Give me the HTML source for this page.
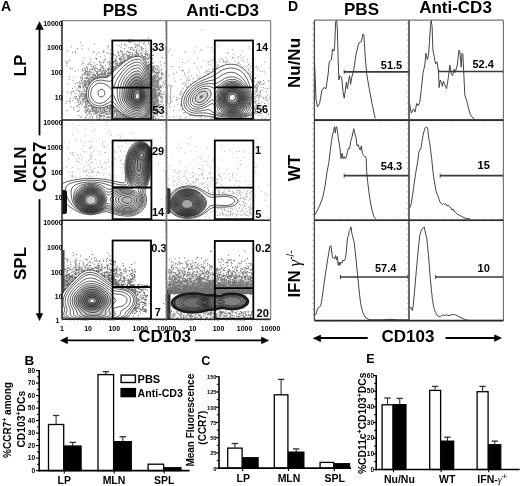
<!DOCTYPE html>
<html><head><meta charset="utf-8"><style>
html,body{margin:0;padding:0;background:#fff;}
svg{display:block;font-family:"Liberation Sans", sans-serif;will-change:transform;}
</style></head><body>
<svg width="520" height="486" viewBox="0 0 520 486">
<rect width="520" height="486" fill="#fff"/>
<text x="1.0" y="11.2" font-size="14" font-weight="bold" text-anchor="start" fill="#000">A</text>
<text x="120.2" y="16.3" font-size="17" font-weight="bold" text-anchor="middle" fill="#000">PBS</text>
<text x="222.6" y="15.6" font-size="17" font-weight="bold" text-anchor="middle" fill="#000">Anti-CD3</text>
<clipPath id="a11"><rect x="62" y="20.6" width="104.5" height="99.4"/></clipPath>
<g clip-path="url(#a11)">
<path transform="scale(.25)" d="M515 158h4m5 1h4m64 -7h4m-84 14h4m11 1h4m-1 -6h4m0 5h4m35 -5h4m-256 8h4m193 -1h4m-4 2h4m-3 -1h4m33 2h4m12 3h4m-1 -3h4m13 3h4m-3 -2h4m-271 9h4m45 -5h4m95 7h4m6 -4h4m9 -1h4m-3 1h4m35 0h4m0 -3h4m2 4h4m-4 1h4m-3 0h4m2 2h4m-2 -3h4m18 0h4m14 -1h4m-315 8h4m143 -2h4m46 3h4m18 -4h4m6 7h4m5 -1h4m0 0h4m8 -1h4m-3 -1h4m-2 -3h4m8 -1h4m6 6h4m-3 -2h4m30 2h4m-295 4h4m14 2h4m21 1h4m74 -5h4m5 7h4m7 -7h4m42 2h4m20 -2h4m-3 6h4m3 -4h4m4 5h4m6 0h4m0 -7h4m6 0h4m1 7h4m-3 -4h4m0 1h4m-1 -1h4m5 -2h4m14 1h4m4 3h4m-344 8h4m29 0h4m109 0h4m-3 -1h4m52 2h4m6 -2h4m-2 -1h4m-4 3h4m16 1h4m2 -1h4m14 -6h4m2 1h4m7 1h4m-2 5h4m-3 0h4m4 -4h4m-3 -2h4m5 -1h4m2 6h4m6 -5h4m0 5h4m5 -3h4m6 4h4m-1 -1h4m-322 3h4m9 3h4m66 -3h4m-2 -1h4m16 2h4m15 -1h4m9 2h4m2 1h4m35 3h4m-2 -6h4m-4 2h4m10 0h4m-4 2h4m-2 -5h4m6 7h4m10 -6h4m-3 -1h4m-2 4h4m0 -2h4m4 0h4m8 -2h4m0 3h4m-2 1h4m-4 -1h4m-1 3h4m0 0h4m-3 0h4m3 -3h4m-2 3h4m1 1h4m8 -1h4m-3 -4h4m2 5h4m-3 -1h4m-2 1h4m-208 2h4m51 -1h4m-4 2h4m7 -1h4m-4 6h4m-2 -4h4m-4 -3h4m2 6h4m10 0h4m-4 -6h4m0 7h4m8 -3h4m-4 -3h4m-3 5h4m-2 -2h4m0 -1h4m3 1h4m-3 -3h4m-2 5h4m-1 -1h4m0 1h4m-1 -2h4m-2 -4h4m0 1h4m1 6h4m-3 -3h4m-4 -1h4m-3 4h4m-4 -7h4m2 4h4m-2 -4h4m0 3h4m-4 2h4m-2 1h4m-3 -3h4m-2 -2h4m0 5h4m-3 1h4m-3 -2h4m-4 -4h4m-2 6h4m5 -7h4m-4 6h4m-2 1h4m-1 0h4m6 -6h4m-2 1h4m-4 -1h4m-3 1h4m-3 1h4m-1 1h4m-1 0h4m-4 3h4m-4 -7h4m2 7h4m-2 -7h4m-4 7h4m8 -1h4m0 -1h4m-217 6h4m15 -3h4m21 4h4m2 -2h4m12 -1h4m-4 1h4m9 4h4m3 -4h4m-3 2h4m1 -2h4m0 3h4m2 -1h4m2 -3h4m-1 5h4m-4 -1h4m-3 -3h4m-4 5h4m-3 -7h4m-3 3h4m-2 -3h4m-2 0h4m-3 2h4m-3 2h4m-4 3h4m-3 -4h4m-3 0h4m-3 0h4m-3 -1h4m-1 -1h4m-4 4h4m6 -2h4m-2 -2h4m-4 2h4m-3 -3h4m-3 1h4m-3 1h4m-1 0h4m7 1h4m3 -1h4m-2 -1h4m2 1h4m-4 2h4m-3 3h4m-3 -4h4m-4 1h4m-3 3h4m-1 -4h4m-1 2h4m-3 -1h4m-4 -1h4m-3 1h4m8 2h4m-2 1h4m-2 -4h4m45 3h4m-315 2h4m23 4h4m16 -2h4m-3 3h4m-1 -4h4m29 2h4m-4 3h4m19 -6h4m-3 3h4m-2 -2h4m0 2h4m6 0h4m-2 2h4m-2 -4h4m8 3h4m-4 -1h4m-3 1h4m-3 2h4m-3 -5h4m-4 2h4m-2 4h4m-3 -3h4m-4 -3h4m-2 2h4m-1 1h4m0 0h4m-1 0h4m-3 -3h4m1 0h4m0 6h4m0 0h4m-3 -6h4m0 6h4m-3 -6h4m-4 2h4m-4 -1h4m1 1h4m-3 -3h4m-3 1h4m-3 1h4m-1 -1h4m43 1h4m-1 5h4m-2 -6h4m-4 5h4m-1 -2h4m-3 -3h4m-2 1h4m-3 3h4m1 0h4m-3 1h4m-4 -6h4m-2 2h4m-3 1h4m3 4h4m-3 -6h4m-1 0h4m1 2h4m-350 9h4m11 -3h4m115 5h4m16 -2h4m15 1h4m-2 0h4m-3 2h4m1 -6h4m1 -1h4m0 6h4m-1 -1h4m-2 1h4m-3 -1h4m-2 1h4m-4 -4h4m-1 5h4m-3 -6h4m11 4h4m-4 2h4m-2 -6h4m-1 4h4m2 1h4m-1 -1h4m-3 -4h4m-3 -1h4m-3 2h4m-3 0h4m-3 -1h4m-2 3h4m-4 -1h4m-2 -1h4m0 -1h4m-3 0h4m69 1h4m-3 5h4m-2 0h4m4 -3h4m-331 8h4m0 -2h4m56 -2h4m-1 6h4m20 1h4m1 -6h4m10 2h4m24 -1h4m6 1h4m-3 -3h4m10 1h4m3 1h4m-3 5h4m1 -1h4m-2 -1h4m0 -4h4m-3 6h4m-3 -3h4m-3 -3h4m-3 1h4m-4 -2h4m0 3h4m1 4h4m-2 -3h4m-3 2h4m1 0h4m-3 -5h4m-2 4h4m1 2h4m-3 -2h4m0 1h4m-3 -1h4m-4 1h4m-3 -4h4m-3 1h4m-3 0h4m-4 -2h4m-2 2h4m-2 3h4m-4 1h4m-3 -3h4m-4 -3h4m-4 2h4m-3 4h4m-4 -7h4m-4 4h4m-2 1h4m-2 -3h4m-2 -2h4m83 7h4m-3 -4h4m-3 -1h4m-3 1h4m1 -1h4m-1 -1h4m-1 3h4m-1 -4h4m-2 2h4m-4 4h4m0 -5h4m-1 5h4m1 -6h4m21 0h4m13 5h4m-395 10h4m56 -3h4m21 -2h4m-3 -2h4m5 3h4m1 0h4m9 2h4m-4 2h4m5 -5h4m8 4h4m-2 -6h4m-4 3h4m1 3h4m10 -1h4m11 -1h4m-1 -1h4m5 -1h4m8 -1h4m1 3h4m-3 2h4m-2 0h4m-3 -4h4m-3 4h4m-3 -2h4m-1 2h4m-3 1h4m-4 -1h4m-2 -2h4m-3 -3h4m-3 3h4m-3 1h4m-2 2h4m-3 -2h4m-1 -5h4m-3 0h4m95 7h4m-3 -1h4m-2 -1h4m-2 -1h4m-3 3h4m-4 -3h4m-4 1h4m-3 2h4m-3 -5h4m-4 1h4m-3 -1h4m-4 2h4m-2 -2h4m-2 0h4m-4 5h4m-4 -6h4m-3 4h4m-3 -1h4m-4 1h4m-1 1h4m-3 -1h4m5 2h4m9 -2h4m-4 2h4m12 -3h4m-309 11h4m4 -4h4m-3 3h4m13 -3h4m3 -2h4m-2 1h4m-3 4h4m26 -1h4m-3 1h4m0 -4h4m-2 5h4m-3 -4h4m24 -1h4m-3 0h4m-4 -2h4m-2 7h4m3 0h4m-3 -3h4m-4 3h4m-3 -3h4m0 -2h4m-1 1h4m-3 -1h4m-3 5h4m-2 -6h4m-4 3h4m-3 -2h4m3 -2h4m-3 7h4m3 -6h4m105 -1h4m-3 0h4m-3 2h4m-3 1h4m-4 2h4m-4 1h4m-3 -3h4m-1 4h4m-3 -2h4m-4 1h4m-4 -6h4m-2 0h4m-4 6h4m-3 -2h4m-4 -4h4m-2 6h4m-4 -5h4m-1 -1h4m-3 6h4m-3 -4h4m-3 2h4m-4 2h4m-4 1h4m-2 -4h4m-2 -2h4m-3 6h4m-3 -6h4m0 6h4m-3 -7h4m-4 7h4m5 -3h4m3 2h4m-4 -2h4m-357 6h4m3 -1h4m37 4h4m6 -3h4m-3 4h4m5 -4h4m-4 4h4m5 -1h4m2 2h4m-3 -3h4m1 -2h4m-4 4h4m3 -5h4m-3 1h4m-1 -2h4m2 2h4m-4 -1h4m0 4h4m0 2h4m1 -1h4m-3 -1h4m-4 2h4m-2 -4h4m4 -2h4m-3 1h4m4 1h4m5 1h4m-2 2h4m-2 -5h4m-4 2h4m-3 4h4m-2 -3h4m-3 -3h4m-1 3h4m-4 1h4m2 -4h4m-4 2h4m-1 4h4m-2 -7h4m-1 3h4m-2 -3h4m-2 4h4m-3 -3h4m-2 3h4m-1 3h4m-3 -3h4m-2 -3h4m-3 0h4m-4 1h4m118 -1h4m-3 6h4m-4 -5h4m-3 2h4m-4 -4h4m-4 2h4m-2 3h4m-3 2h4m-3 0h4m-4 -7h4m-2 3h4m-1 3h4m-2 1h4m-3 -1h4m-3 -3h4m-4 4h4m-4 -1h4m-2 -1h4m-2 -3h4m-4 2h4m-3 2h4m-3 -1h4m-4 1h4m-3 -4h4m-2 2h4m3 -3h4m-3 4h4m-4 1h4m1 1h4m-2 -3h4m-3 1h4m2 2h4m5 -1h4m-348 7h4m7 -5h4m12 4h4m0 -2h4m-4 -1h4m5 4h4m-3 -2h4m-4 -1h4m-1 4h4m0 -1h4m-2 2h4m3 -7h4m-4 6h4m-3 1h4m1 0h4m7 -6h4m-2 -1h4m0 3h4m-1 3h4m0 -1h4m0 2h4m1 -6h4m-3 2h4m-3 0h4m-4 1h4m-3 0h4m2 3h4m-2 -5h4m1 2h4m-3 -4h4m-3 0h4m-1 7h4m-1 -4h4m-3 -1h4m-3 -1h4m-3 5h4m3 -4h4m-4 -1h4m-2 2h4m2 4h4m0 -4h4m-4 3h4m-3 -5h4m-3 -1h4m1 2h4m-4 2h4m-4 -3h4m-2 0h4m-3 0h4m-3 -1h4m-3 5h4m-3 -2h4m-4 2h4m0 -5h4m130 1h4m-4 6h4m-1 -6h4m-3 4h4m-2 1h4m-4 -6h4m-3 4h4m-3 -3h4m-3 5h4m-3 -6h4m-3 2h4m-4 2h4m-3 -3h4m-3 5h4m-2 -4h4m-3 2h4m-2 -4h4m-3 1h4m-4 4h4m-4 2h4m-2 -5h4m-3 5h4m-3 -2h4m-4 2h4m12 -2h4m2 -1h4m-306 8h4m-2 1h4m-3 -4h4m-4 3h4m-1 0h4m2 -1h4m-2 -3h4m-3 6h4m-1 -6h4m-4 5h4m4 -3h4m0 2h4m3 -3h4m7 5h4m-3 -1h4m-2 -3h4m-4 -1h4m-3 3h4m-4 2h4m9 -1h4m-4 1h4m-2 1h4m-2 -1h4m-3 -5h4m-3 6h4m-3 -6h4m1 6h4m-3 -1h4m-3 1h4m-4 -7h4m-3 3h4m-3 -2h4m-3 6h4m-4 -1h4m-4 -6h4m-3 3h4m-4 3h4m-3 0h4m-2 -2h4m2 3h4m-3 -3h4m-3 1h4m-2 -4h4m-3 4h4m-3 0h4m-2 -1h4m-2 -1h4m-3 2h4m-3 -3h4m-3 3h4m-3 -4h4m-4 4h4m-4 -3h4m-3 1h4m-4 2h4m-2 -1h4m-3 2h4m2 -4h4m140 2h4m-3 -1h4m-2 -1h4m-3 5h4m-2 -3h4m-2 -2h4m-3 1h4m-4 4h4m-3 -2h4m-1 -2h4m4 -3h4m-4 3h4m-3 -2h4m-1 0h4m-2 -1h4m-4 3h4m-2 3h4m-1 -4h4m-2 4h4m-3 -5h4m-2 3h4m-1 -3h4m2 6h4m-1 -4h4m-3 4h4m-2 -3h4m-323 6h4m-2 -2h4m1 3h4m2 -2h4m-3 3h4m0 -1h4m-2 4h4m-4 -7h4m-4 2h4m1 1h4m-4 2h4m-4 2h4m1 -5h4m-2 -1h4m5 4h4m-3 -4h4m-3 -1h4m-3 4h4m-3 3h4m-2 -4h4m-4 3h4m-1 -3h4m-3 2h4m-4 2h4m3 -5h4m-3 4h4m-4 -1h4m-3 -3h4m-4 5h4m-1 -3h4m-3 1h4m-4 -3h4m-2 5h4m-4 -6h4m-4 5h4m-2 -3h4m-2 -1h4m1 2h4m-4 -3h4m-3 1h4m-1 1h4m-4 -1h4m-2 3h4m-4 -1h4m-2 2h4m-1 -4h4m-3 -2h4m-2 4h4m-4 2h4m-3 -2h4m0 2h4m-1 1h4m-3 -6h4m-3 5h4m-4 -2h4m-3 3h4m-3 0h4m-2 -6h4m-4 4h4m-3 -1h4m-2 -4h4m-1 0h4m-1 5h4m-3 -5h4m-3 5h4m149 -3h4m-3 4h4m-4 -5h4m-4 3h4m-4 -1h4m-3 0h4m-4 -2h4m-4 3h4m-3 3h4m-1 -3h4m-3 -3h4m-4 2h4m-4 3h4m-2 1h4m4 -1h4m0 -3h4m-2 -1h4m0 2h4m-2 -4h4m-2 0h4m-2 6h4m-3 -6h4m-3 6h4m12 -4h4m1 -1h4m-381 10h4m15 1h4m23 1h4m0 -2h4m-2 4h4m-4 -7h4m11 7h4m-3 0h4m-3 -2h4m-1 0h4m8 -1h4m-2 0h4m-3 0h4m-2 2h4m-2 -1h4m-3 -2h4m-2 2h4m-4 -5h4m-3 6h4m-1 0h4m-1 1h4m-1 -5h4m-3 1h4m-3 -2h4m-2 6h4m-3 -4h4m-2 3h4m-3 -3h4m-3 2h4m-3 1h4m-2 -5h4m0 1h4m-1 0h4m-3 4h4m-3 -4h4m-3 4h4m-2 -5h4m-2 2h4m-2 3h4m-2 -3h4m-3 4h4m-2 -7h4m-3 6h4m-1 -1h4m-4 -1h4m-1 3h4m-3 -2h4m-4 1h4m-4 -6h4m-1 1h4m-2 5h4m-3 -4h4m-2 -2h4m-3 0h4m-3 1h4m-4 4h4m4 -4h4m155 2h4m-1 3h4m-2 -2h4m-4 1h4m-4 -4h4m-2 3h4m-2 0h4m-4 2h4m-2 -1h4m-3 -5h4m-2 0h4m-3 1h4m-4 1h4m-4 2h4m-2 2h4m-3 -2h4m-3 3h4m-3 -5h4m-3 5h4m-4 -7h4m-2 4h4m-4 -4h4m-2 7h4m-2 -3h4m-3 1h4m0 -2h4m-3 1h4m-2 3h4m7 -1h4m-2 -6h4m1 7h4m-379 6h4m41 -5h4m4 2h4m-4 5h4m4 -5h4m-1 -2h4m1 1h4m1 1h4m-4 1h4m-2 3h4m-2 -5h4m-4 2h4m-2 -3h4m-2 6h4m-1 -2h4m-3 3h4m2 -3h4m-4 -1h4m-2 -1h4m-2 5h4m-2 -6h4m-4 3h4m-3 -3h4m-2 1h4m-4 2h4m-4 -4h4m-2 2h4m-3 -2h4m-2 3h4m-3 -3h4m-2 3h4m0 -2h4m-2 -1h4m2 0h4m-3 0h4m18 0h4m175 3h4m-3 2h4m-4 -5h4m-3 5h4m-4 2h4m-4 -5h4m-4 -1h4m-3 3h4m-3 2h4m-4 -5h4m-4 2h4m-4 -1h4m-3 4h4m-2 -4h4m-3 -2h4m-4 5h4m-2 0h4m-3 -2h4m-3 1h4m-2 -3h4m-4 5h4m-2 -5h4m-4 1h4m-2 1h4m-4 -2h4m-3 4h4m-2 -1h4m-2 2h4m-3 -4h4m4 3h4m-4 1h4m-3 -5h4m-3 4h4m0 2h4m-3 -7h4m-4 2h4m-3 -1h4m-1 0h4m-3 0h4m-3 5h4m-358 3h4m23 6h4m3 -6h4m-4 3h4m-3 -3h4m4 6h4m-1 -5h4m-3 5h4m-1 -3h4m-2 -3h4m-3 6h4m1 -4h4m-3 0h4m-4 -1h4m-1 5h4m-4 -5h4m-4 2h4m-3 0h4m-2 -2h4m-4 2h4m-3 1h4m2 -2h4m0 -2h4m-4 -1h4m-3 7h4m-3 -2h4m-2 -5h4m-3 3h4m-2 -1h4m224 4h4m-3 -1h4m-1 -4h4m-4 2h4m-3 2h4m-3 -4h4m-4 6h4m-4 -7h4m-3 4h4m-4 1h4m-3 0h4m-3 -1h4m-3 2h4m-3 -5h4m-3 2h4m-2 3h4m-4 -3h4m-3 4h4m-3 -2h4m-3 0h4m-4 -1h4m-2 3h4m-4 -4h4m-3 1h4m-3 -2h4m-2 0h4m-4 2h4m0 1h4m-4 -1h4m-3 -3h4m-3 3h4m-4 -1h4m-3 0h4m-2 4h4m-3 -4h4m8 1h4m9 3h4m-2 -6h4m-364 14h4m4 -4h4m3 2h4m1 0h4m1 -3h4m1 3h4m0 -4h4m3 4h4m-4 -5h4m-4 3h4m-1 -3h4m-3 1h4m-3 3h4m0 0h4m-2 1h4m-4 2h4m-2 -7h4m-4 7h4m-4 -1h4m-3 -3h4m-4 -2h4m-3 6h4m-2 -6h4m-3 0h4m-4 -1h4m-4 4h4m-4 2h4m-3 0h4m-2 -4h4m-4 2h4m235 -1h4m-4 -1h4m-4 4h4m-4 -5h4m-3 6h4m-3 -5h4m-4 3h4m-3 1h4m-3 -1h4m-4 1h4m-2 -1h4m-3 -5h4m-4 5h4m-2 0h4m-3 -5h4m-4 2h4m-2 3h4m-3 -5h4m-4 4h4m-1 -1h4m-2 -3h4m-3 0h4m-2 5h4m-3 -3h4m-2 1h4m-3 1h4m-4 -3h4m-3 3h4m-2 -3h4m-2 3h4m-3 -3h4m-4 5h4m-3 -2h4m13 2h4m-2 -6h4m-386 9h4m40 4h4m0 0h4m5 -3h4m-3 -2h4m3 2h4m-4 3h4m-3 0h4m-4 -5h4m-3 1h4m-3 5h4m-3 -2h4m-3 -4h4m-4 3h4m-3 -3h4m-3 7h4m-1 -3h4m-2 -2h4m-1 2h4m-3 3h4m0 -2h4m-2 -4h4m241 4h4m-4 2h4m-3 -6h4m-4 2h4m-4 2h4m-3 2h4m-4 -5h4m-4 2h4m-3 1h4m-4 -5h4m-3 1h4m-4 3h4m-3 0h4m-4 -1h4m-3 3h4m-3 -6h4m-4 4h4m-3 -3h4m-4 5h4m-3 -5h4m-2 1h4m-4 2h4m-3 0h4m-4 -4h4m-2 3h4m-3 -2h4m-3 -1h4m-1 5h4m-4 2h4m-3 -1h4m-3 -6h4m-4 6h4m-2 -6h4m-4 7h4m-3 -4h4m-4 4h4m-2 -4h4m-3 2h4m0 1h4m-3 -3h4m2 2h4m4 1h4m6 -4h4m-1 2h4m-367 6h4m10 1h4m-2 3h4m-1 -4h4m-3 -2h4m-3 7h4m-4 -6h4m-3 6h4m6 -3h4m-3 -4h4m-3 1h4m-2 6h4m-4 -7h4m1 2h4m-2 -1h4m-4 5h4m-2 -1h4m0 1h4m-1 1h4m248 -7h4m-3 6h4m-2 -3h4m-2 -3h4m-3 2h4m-3 -2h4m-2 2h4m-4 -1h4m-2 -1h4m-3 5h4m-4 -2h4m-4 -1h4m-1 1h4m-1 0h4m-3 -2h4m-4 4h4m-2 0h4m-2 0h4m-4 -4h4m-3 1h4m-3 3h4m-2 2h4m0 0h4m-4 -7h4m-4 2h4m-4 3h4m-2 2h4m0 0h4m-3 -2h4m-4 -1h4m-2 0h4m-2 0h4m5 0h4m-369 6h4m17 -1h4m17 -1h4m1 7h4m-1 -2h4m4 -1h4m-4 3h4m-4 -4h4m-3 -1h4m253 1h4m-3 -2h4m-4 2h4m-4 2h4m-3 -3h4m-4 2h4m-4 2h4m-4 -5h4m-3 1h4m-4 3h4m-4 -1h4m-3 1h4m-4 -2h4m-3 0h4m-4 2h4m-4 1h4m-3 1h4m-4 -6h4m-4 -1h4m-4 6h4m-2 -6h4m-3 6h4m-3 -6h4m-2 6h4m-4 -4h4m-4 -1h4m-4 6h4m-3 -1h4m-4 -5h4m-3 3h4m-3 2h4m-3 -3h4m-4 4h4m-3 -4h4m0 3h4m-3 1h4m-1 -7h4m-2 6h4m-3 -4h4m-3 3h4m-1 -4h4m-4 3h4m4 -4h4m-357 14h4m-3 -2h4m7 -3h4m3 0h4m-1 0h4m-2 5h4m-1 0h4m5 -5h4m4 2h4m-3 1h4m-2 2h4m-2 0h4m-2 -1h4m-1 -1h4m-3 -2h4m-3 1h4m253 1h4m-4 2h4m-4 1h4m-4 -7h4m-2 0h4m-4 2h4m-3 1h4m-4 -1h4m-3 5h4m-4 -7h4m-4 1h4m-4 4h4m-3 0h4m-2 0h4m-3 0h4m-4 2h4m-4 -6h4m-3 -1h4m-4 2h4m-4 2h4m-3 -1h4m-4 2h4m-2 -5h4m-4 5h4m-3 -5h4m-4 6h4m-2 -4h4m-4 5h4m-3 0h4m-3 -3h4m1 -3h4m-3 6h4m-3 -7h4m0 1h4m1 2h4m-1 -1h4m-1 4h4m-378 4h4m9 -2h4m-1 1h4m11 4h4m13 -5h4m3 4h4m-2 3h4m-1 -7h4m-2 5h4m0 1h4m2 0h4m-2 -6h4m-1 6h4m255 -5h4m-4 -1h4m-4 4h4m-3 -1h4m-4 2h4m-3 0h4m-2 -3h4m-4 4h4m-3 0h4m-2 -6h4m-3 4h4m-4 -1h4m-2 1h4m-3 -2h4m-3 2h4m-3 -1h4m-3 0h4m-2 3h4m-4 -6h4m-4 2h4m-3 1h4m-4 4h4m-3 -4h4m-4 2h4m4 1h4m-2 -5h4m-2 3h4m-3 -1h4m-3 1h4m-3 3h4m-4 -4h4m-3 2h4m3 2h4m4 0h4m-4 -7h4m-375 9h4m26 3h4m2 0h4m-2 -3h4m-2 -1h4m-4 5h4m-1 0h4m-3 -4h4m0 -1h4m-3 7h4m-1 0h4m-3 -7h4m-1 7h4m-3 -4h4m-2 -1h4m-4 5h4m-3 0h4m-3 -4h4m-3 3h4m-3 -4h4m254 -1h4m-3 6h4m-3 -3h4m-4 3h4m-3 -6h4m-4 3h4m-3 0h4m-4 2h4m-3 -4h4m-4 3h4m-4 2h4m-4 -7h4m-2 5h4m-4 1h4m-4 -4h4m-3 0h4m-4 1h4m-3 3h4m-3 -2h4m-3 -4h4m-4 1h4m-3 2h4m-3 3h4m-3 -3h4m-3 2h4m-3 -1h4m-3 -1h4m-2 -2h4m-4 5h4m-2 -3h4m-2 -3h4m-3 5h4m-3 2h4m-3 -1h4m-3 0h4m-3 -6h4m-4 4h4m-2 1h4m-2 0h4m-4 -5h4m-3 0h4m-4 2h4m6 0h4m7 1h4m-365 9h4m1 -1h4m-4 -1h4m-1 2h4m7 -2h4m-1 1h4m0 -2h4m1 1h4m4 1h4m-3 0h4m-4 -1h4m-4 3h4m-2 -3h4m-2 1h4m-3 4h4m-2 -1h4m-1 -4h4m253 -2h4m-4 5h4m-3 -4h4m-4 4h4m-3 1h4m-4 1h4m-3 -7h4m-4 4h4m-2 -3h4m-4 3h4m-3 -4h4m-4 4h4m-2 0h4m-4 -4h4m-3 1h4m-4 3h4m-4 1h4m-3 -2h4m-3 0h4m-4 3h4m-3 -3h4m-4 2h4m-3 -4h4m-3 0h4m-3 2h4m-4 2h4m-3 -3h4m-4 4h4m-1 1h4m-3 -1h4m-3 -5h4m-4 1h4m-3 5h4m-3 -7h4m0 3h4m3 -3h4m-2 2h4m-1 3h4m-4 -5h4m-3 5h4m-2 2h4m0 -6h4m-374 8h4m9 -1h4m2 3h4m-2 -1h4m3 2h4m-3 3h4m2 -7h4m-3 1h4m-1 0h4m6 0h4m-4 3h4m-3 0h4m-3 0h4m-3 3h4m-3 -4h4m-3 3h4m-3 -5h4m-1 -1h4m-3 7h4m-4 -5h4m1 -2h4m-4 3h4m256 3h4m-4 1h4m-3 -2h4m-4 -1h4m-4 2h4m-3 -5h4m-4 1h4m-4 4h4m-3 1h4m-4 -1h4m-3 -2h4m-2 -4h4m-4 2h4m-3 -2h4m-4 2h4m-3 -2h4m-3 5h4m-3 -1h4m-3 -4h4m-3 3h4m-2 1h4m-4 3h4m-4 -7h4m-2 1h4m-1 0h4m-1 4h4m-4 2h4m-2 -2h4m-4 2h4m-3 -6h4m-2 -1h4m7 1h4m-1 -1h4m-2 3h4m-402 5h4m13 5h4m6 -2h4m-1 4h4m6 -4h4m14 -3h4m-1 4h4m-3 3h4m1 -7h4m1 5h4m2 -3h4m-2 2h4m-3 3h4m0 -7h4m1 4h4m-1 0h4m-3 2h4m-2 -5h4m-4 2h4m-2 4h4m-3 -5h4m-4 5h4m-3 -5h4m-3 4h4m-2 -3h4m247 -1h4m-3 4h4m-4 -6h4m-4 1h4m-4 2h4m-3 4h4m-4 -1h4m-4 -6h4m-4 2h4m-4 2h4m-3 -3h4m-4 4h4m-3 -5h4m-4 6h4m-3 -5h4m-4 5h4m-3 -6h4m-2 3h4m-4 3h4m-1 -5h4m-4 6h4m1 -3h4m-4 -3h4m-3 -1h4m-3 7h4m-4 -3h4m-3 3h4m-2 -7h4m-3 6h4m-3 -4h4m-3 5h4m-3 -5h4m-3 5h4m-3 -6h4m-4 2h4m-1 -1h4m2 4h4m3 -5h4m-2 3h4m8 0h4m-402 9h4m45 -3h4m4 0h4m-3 5h4m-4 -6h4m3 6h4m1 -7h4m3 0h4m-4 3h4m-3 -3h4m-4 7h4m-2 -5h4m1 5h4m-2 -1h4m-2 -5h4m-4 -1h4m-4 4h4m1 -3h4m-1 4h4m-4 2h4m239 -4h4m-4 3h4m-3 -2h4m-3 2h4m-1 1h4m-3 0h4m-4 -5h4m-2 1h4m-4 3h4m-3 -2h4m-4 2h4m-4 -3h4m-3 2h4m-4 -2h4m-3 2h4m-3 -5h4m-3 1h4m-4 -1h4m-4 2h4m-2 4h4m-4 -6h4m-4 2h4m-1 0h4m-3 2h4m-4 1h4m-2 -1h4m1 -3h4m-3 5h4m-2 -5h4m-4 3h4m10 -1h4m-4 -2h4m-341 13h4m1 -3h4m-1 -2h4m6 3h4m10 0h4m-2 -3h4m-1 6h4m0 -6h4m-1 6h4m-4 -1h4m2 -1h4m-2 -1h4m-3 2h4m0 -2h4m-3 3h4m-1 0h4m67 0h4m0 -2h4m-3 -2h4m2 4h4m-3 -1h4m-3 1h4m144 0h4m-3 -2h4m-4 -5h4m-3 3h4m-4 2h4m-4 -5h4m-3 2h4m-3 1h4m-4 2h4m-4 1h4m-3 -2h4m-4 -2h4m-3 -1h4m-4 1h4m-3 3h4m-3 -5h4m-4 5h4m-3 0h4m-2 1h4m-4 -4h4m-2 3h4m-4 1h4m-3 -5h4m-2 1h4m-3 -1h4m-4 2h4m-4 2h4m-3 -5h4m1 5h4m-4 1h4m-3 -2h4m-4 -4h4m-3 7h4m-3 -3h4m-2 3h4m-2 0h4m-3 -4h4m-3 -2h4m-2 5h4m-2 -5h4m0 2h4m0 0h4m4 1h4m-375 7h4m6 4h4m10 -5h4m5 3h4m15 1h4m-3 -1h4m0 -4h4m-2 2h4m-2 -1h4m-3 2h4m-3 -3h4m-4 4h4m6 -5h4m-4 1h4m-3 0h4m-3 0h4m2 1h4m-3 3h4m-3 0h4m-3 -3h4m-4 5h4m-2 -1h4m-3 0h4m-2 -3h4m-2 1h4m-4 3h4m-2 -1h4m2 1h4m27 -1h4m3 -1h4m0 -3h4m-1 0h4m-3 3h4m-3 1h4m-4 -1h4m-3 0h4m-3 0h4m1 -1h4m-2 2h4m-3 1h4m-4 -5h4m-2 -1h4m-3 1h4m-4 2h4m-2 1h4m-3 2h4m-4 -5h4m-2 -2h4m-3 6h4m-4 -5h4m-3 4h4m-3 1h4m-4 -3h4m-3 0h4m-4 -1h4m-3 2h4m-2 0h4m-3 2h4m-3 0h4m-3 -4h4m138 5h4m-2 -6h4m-4 3h4m-3 2h4m-3 -3h4m-4 -1h4m-4 -1h4m-4 3h4m-3 -4h4m-3 7h4m-4 -4h4m-3 -2h4m-3 6h4m-3 -2h4m-3 0h4m-4 2h4m-3 -6h4m-3 3h4m-3 -4h4m-4 6h4m-4 1h4m-3 -5h4m-4 2h4m-3 -1h4m-4 4h4m-3 -6h4m-4 4h4m-3 -4h4m-4 6h4m-3 0h4m-4 -6h4m-3 1h4m-3 4h4m-3 -1h4m3 -5h4m-4 2h4m0 3h4m-4 -5h4m0 5h4m3 0h4m0 -2h4m-2 0h4m-357 12h4m42 -4h4m-4 -1h4m-2 -1h4m1 6h4m-3 -1h4m-2 -2h4m-3 -1h4m-1 1h4m4 2h4m0 -5h4m-3 6h4m-4 -6h4m-3 4h4m-4 -3h4m-2 5h4m-3 -7h4m-1 4h4m-2 -3h4m-2 3h4m0 -3h4m-3 5h4m-4 1h4m-1 -5h4m-2 -2h4m3 1h4m-1 6h4m-4 -5h4m-3 4h4m-4 -4h4m-3 0h4m-3 2h4m1 1h4m0 -4h4m-3 3h4m-4 2h4m0 1h4m-3 -1h4m-4 -4h4m3 -2h4m-4 5h4m-4 1h4m0 -5h4m-2 1h4m-1 1h4m-2 -2h4m-3 -1h4m-4 4h4m-1 -4h4m-4 2h4m-3 1h4m-4 1h4m-2 0h4m-4 -1h4m0 2h4m1 0h4m-4 -1h4m1 -3h4m-2 2h4m-3 -2h4m-4 5h4m1 -6h4m-2 2h4m-2 5h4m-4 -1h4m-3 0h4m123 -1h4m-3 -1h4m-3 0h4m-3 2h4m-4 -6h4m-3 6h4m-4 -5h4m-4 2h4m-3 1h4m-4 3h4m-4 -2h4m-3 -4h4m-4 3h4m-3 -3h4m-4 3h4m-3 -4h4m-3 1h4m-4 4h4m-3 -5h4m-3 3h4m-3 -1h4m-2 1h4m-4 -1h4m-4 4h4m-3 -1h4m-2 -4h4m-4 -1h4m-3 4h4m-4 -3h4m3 4h4m-1 -5h4m-4 3h4m-3 -3h4m-1 4h4m0 3h4m0 -2h4m-373 6h4m37 4h4m-1 -1h4m0 -4h4m18 0h4m-3 0h4m0 2h4m-2 3h4m-2 -5h4m-2 2h4m-3 -2h4m-2 1h4m2 1h4m-4 -1h4m-1 1h4m-3 1h4m-2 1h4m1 -6h4m-3 0h4m-4 7h4m-3 -4h4m-2 3h4m-2 -6h4m-2 6h4m-3 -3h4m-2 4h4m-4 -3h4m-2 -2h4m-2 5h4m-3 -7h4m-4 2h4m-4 5h4m-2 -7h4m-3 0h4m-1 7h4m-2 -2h4m-3 2h4m-4 -6h4m-3 -1h4m-3 7h4m2 -4h4m-3 2h4m-3 -3h4m0 3h4m-3 1h4m-3 0h4m1 -6h4m-3 0h4m-3 3h4m-2 2h4m-4 2h4m-3 -4h4m-4 3h4m-1 -3h4m1 3h4m-4 -1h4m-3 1h4m-1 -4h4m1 -1h4m-4 5h4m-2 -6h4m-4 6h4m-2 0h4m-2 -3h4m0 2h4m1 -1h4m0 2h4m-3 1h4m-3 -2h4m-3 -1h4m-3 -4h4m-4 3h4m-4 1h4m-4 1h4m-1 2h4m-3 -3h4m-3 -3h4m-4 2h4m-3 1h4m-4 1h4m-3 -3h4m-3 2h4m-3 3h4m-2 -5h4m-4 2h4m-3 0h4m-3 1h4m-2 -1h4m-2 1h4m-1 2h4m109 -2h4m-4 2h4m-3 -3h4m-4 3h4m-4 -4h4m-3 0h4m-4 1h4m-4 2h4m-3 0h4m-4 -5h4m-3 5h4m-4 -4h4m-4 -1h4m-3 -1h4m-4 3h4m-4 2h4m-2 0h4m-4 -5h4m-4 2h4m-4 -1h4m-3 3h4m-4 2h4m-2 -5h4m-4 1h4m-3 3h4m-3 0h4m-3 -1h4m-4 3h4m-4 -7h4m-3 0h4m-4 4h4m-4 -1h4m-3 0h4m-4 -1h4m-2 -2h4m-4 3h4m-3 -1h4m-2 0h4m-2 -1h4m-3 0h4m-3 -1h4m1 1h4m-2 5h4m-4 -4h4m-3 -1h4m-1 2h4m-3 1h4m-3 -1h4m-4 1h4m-2 -3h4m-3 5h4m-3 -1h4m1 1h4m3 -6h4m-3 4h4m1 -3h4m-313 9h4m-2 3h4m5 -5h4m-2 7h4m-2 -7h4m-3 7h4m-2 -3h4m11 2h4m0 -3h4m-2 4h4m-2 -3h4m-3 -2h4m-4 4h4m-3 -3h4m-3 0h4m0 1h4m-4 -4h4m5 3h4m-3 -3h4m-4 6h4m1 1h4m-3 -2h4m-3 -1h4m-2 -1h4m-3 -2h4m-3 3h4m-4 -1h4m-4 -1h4m-3 -2h4m-2 5h4m0 -5h4m-3 7h4m-3 -5h4m-1 4h4m-1 -6h4m4 3h4m0 -3h4m-1 4h4m-3 2h4m-2 -3h4m0 1h4m-2 -2h4m0 4h4m-1 -2h4m-3 -3h4m2 1h4m-2 5h4m-3 -3h4m0 0h4m-3 -4h4m-1 0h4m-4 2h4m-2 4h4m-3 0h4m-3 0h4m-3 -6h4m-3 1h4m-3 0h4m-2 1h4m2 5h4m92 0h4m-3 0h4m-2 -1h4m-3 -1h4m-3 1h4m-4 -1h4m-3 -3h4m-4 2h4m-3 -4h4m-3 0h4m-4 6h4m-3 -5h4m-4 1h4m-4 2h4m-4 -1h4m-3 -2h4m-4 1h4m-4 2h4m-4 2h4m-4 -1h4m-3 -5h4m-4 4h4m-3 -4h4m-4 1h4m-3 0h4m-3 -1h4m-4 7h4m-3 -7h4m-4 4h4m-3 -2h4m-2 -2h4m-4 2h4m-2 2h4m-4 3h4m-3 -1h4m-3 -6h4m-4 2h4m-3 -2h4m-3 0h4m0 0h4m-2 5h4m-3 -3h4m-2 4h4m-2 -6h4m1 4h4m3 -2h4m-322 12h4m29 -3h4m13 0h4m5 -3h4m10 1h4m3 2h4m-3 4h4m-4 -1h4m-3 -2h4m-3 -1h4m-4 3h4m-1 1h4m1 0h4m-3 -1h4m2 1h4m-2 -1h4m5 -5h4m-2 -1h4m-2 3h4m-3 -3h4m-1 0h4m0 0h4m-2 2h4m3 0h4m-4 3h4m-3 1h4m-1 -2h4m-4 -3h4m-2 2h4m0 -1h4m5 -2h4m-2 1h4m-4 2h4m-3 3h4m-4 -4h4m-3 2h4m-3 -3h4m-3 0h4m-4 -1h4m-3 5h4m0 0h4m-3 2h4m-3 -2h4m-1 -4h4m-4 6h4m-3 -6h4m-3 -1h4m-3 3h4m-2 -1h4m-3 -2h4m-3 5h4m-3 -1h4m-3 0h4m-2 0h4m-3 3h4m-4 -5h4m-4 1h4m-3 -3h4m-4 5h4m-3 -3h4m-4 1h4m-3 1h4m-3 1h4m-4 2h4m-3 0h4m-3 -3h4m-3 0h4m-2 3h4m-2 -1h4m-3 0h4m-4 1h4m71 0h4m-3 -1h4m-3 -1h4m-3 1h4m-4 1h4m-3 -5h4m-4 2h4m-4 3h4m-3 -4h4m-4 -1h4m-4 4h4m-3 -2h4m-3 -3h4m-3 3h4m-3 -1h4m-4 3h4m-3 1h4m-4 -2h4m-4 -1h4m-3 0h4m-3 -3h4m-3 2h4m-4 1h4m-3 -3h4m-4 -1h4m-3 5h4m-3 -3h4m-3 0h4m-4 5h4m-3 -6h4m-3 0h4m-3 0h4m-1 5h4m-2 -4h4m-4 3h4m-3 1h4m-4 1h4m-2 -2h4m0 -4h4m-3 6h4m-2 -4h4m1 -3h4m-4 4h4m-2 -4h4m2 4h4m-2 -3h4m-3 6h4m-4 -7h4m-312 14h4m0 -6h4m11 5h4m1 -5h4m6 4h4m2 -4h4m3 3h4m12 -3h4m-4 2h4m-1 4h4m3 -1h4m-1 -3h4m0 4h4m-3 -5h4m-2 0h4m-4 -1h4m5 4h4m0 -4h4m-4 2h4m3 4h4m0 -3h4m1 0h4m-3 3h4m-2 1h4m0 -4h4m-3 2h4m9 -4h4m-4 1h4m-2 5h4m-2 -6h4m-3 6h4m-1 -2h4m-2 -2h4m-3 0h4m-1 3h4m-3 -5h4m-3 6h4m1 -2h4m-4 -2h4m-2 -1h4m-2 5h4m-4 -6h4m2 2h4m-3 -2h4m-4 4h4m-3 -4h4m-4 4h4m-1 -3h4m-3 -1h4m-3 1h4m-4 3h4m-4 1h4m-3 -2h4m-4 -3h4m-3 6h4m-1 -1h4m-4 -4h4m-3 1h4m-3 4h4m-4 -4h4m-2 -3h4m-4 3h4m-3 0h4m-4 -1h4m-3 -1h4m-4 2h4m-3 0h4m-4 1h4m-3 -3h4m-4 1h4m-4 4h4m-3 -3h4m-3 -2h4m-4 6h4m-3 -6h4m-4 2h4m-4 3h4m-3 -4h4m-4 3h4m-4 -1h4m-3 1h4m-4 1h4m-3 -4h4m-4 5h4m-3 -5h4m-4 3h4m-4 1h4m-3 0h4m-4 1h4m-2 -4h4m-3 2h4m-2 2h4m-2 -1h4m-3 1h4m-3 0h4m-3 -1h4m0 1h4m-2 0h4m35 0h4m-3 0h4m-4 -1h4m-4 -1h4m-3 1h4m-3 0h4m-1 -1h4m-3 -2h4m-3 -1h4m-4 3h4m-4 1h4m-3 1h4m-4 -1h4m-3 1h4m-4 -7h4m-3 1h4m-3 1h4m-2 -2h4m-4 2h4m-3 3h4m-4 -5h4m-3 2h4m-4 -1h4m-4 3h4m-4 3h4m-3 0h4m-3 -3h4m-2 -3h4m-3 6h4m-2 -6h4m-3 5h4m-3 -4h4m-3 5h4m-4 -5h4m-3 4h4m-1 0h4m0 -5h4m-3 -1h4m-4 4h4m-4 -1h4m0 3h4m-2 -4h4m-4 5h4m-1 -2h4m-4 2h4m-3 -5h4m-3 -1h4m0 2h4m20 -3h4m1 3h4m-1 -3h4m-321 14h4m5 -4h4m5 2h4m6 -3h4m4 -1h4m12 4h4m2 1h4m2 -3h4m-4 2h4m12 -2h4m-1 3h4m7 -2h4m2 -3h4m7 5h4m-3 -2h4m8 0h4m-2 2h4m-2 -4h4m-2 2h4m-1 -1h4m0 -2h4m-4 2h4m-3 2h4m-1 0h4m-3 -1h4m-1 -3h4m-1 0h4m3 1h4m-4 5h4m-1 -2h4m-4 1h4m-3 -5h4m-4 3h4m-2 1h4m-3 0h4m-4 -1h4m-1 2h4m-2 -5h4m-4 4h4m-3 0h4m-4 -1h4m-3 -3h4m-4 3h4m-4 2h4m-1 -3h4m-4 3h4m-3 -2h4m-4 -1h4m-3 -1h4m-4 1h4m-3 1h4m-3 -2h4m-3 -1h4m-4 1h4m-4 3h4m-3 0h4m-3 -2h4m-2 -2h4m-3 6h4m-3 -5h4m-4 5h4m-3 -4h4m-4 2h4m-4 -1h4m-3 -2h4m-3 0h4m-4 3h4m-3 -3h4m-4 3h4m-4 1h4m-3 -4h4m-4 2h4m-4 -3h4m-3 0h4m-4 1h4m-4 4h4m-3 -3h4m-3 3h4m-4 -5h4m-3 5h4m-3 -1h4m-3 -2h4m-4 -2h4m-3 3h4m-3 -2h4m-4 3h4m-3 -2h4m-4 -1h4m-4 3h4m-4 -1h4m-3 -3h4m-4 4h4m-3 -4h4m-4 4h4m-4 -1h4m-1 -2h4m-3 1h4m-3 0h4m-3 2h4m-3 -3h4m-2 1h4m-4 1h4m-2 0h4m-4 2h4m-3 -4h4m-4 1h4m-4 2h4m-3 2h4m-4 -1h4m-3 -3h4m-3 0h4m-3 3h4m-3 -2h4m-3 -1h4m-4 2h4m-4 1h4m-3 -3h4m-3 2h4m-2 0h4m-4 1h4m-2 -3h4m-4 1h4m-3 1h4m-4 -1h4m-4 2h4m-3 -3h4m-4 2h4m-3 1h4m-4 -1h4m-3 1h4m-4 -4h4m-4 -1h4m-2 3h4m-4 2h4m-4 -3h4m-3 2h4m-3 0h4m-3 -4h4m-4 2h4m-4 2h4m-4 1h4m-1 -4h4m-4 2h4m-4 2h4m-3 -4h4m-4 1h4m-4 2h4m-3 -2h4m-4 2h4m-3 -2h4m-4 3h4m-3 -3h4m-3 3h4m-4 -4h4m-3 2h4m-3 3h4m-4 -2h4m-2 -2h4m-3 1h4m-3 -1h4m-3 2h4m-2 0h4m-4 2h4m-3 -4h4m-3 0h4m-4 2h4m-3 0h4m-4 1h4m-2 0h4m-3 -5h4m-4 3h4m-2 -3h4m-3 1h4m-3 5h4m-4 -2h4m-3 -3h4m-2 1h4m-2 4h4m-2 -5h4m-4 1h4m-4 2h4m-3 -1h4m-3 0h4m-3 -1h4m-2 -2h4m-4 3h4m-4 2h4m-2 -1h4m-2 1h4m-3 -4h4m-1 -1h4m-4 3h4m-3 2h4m1 -4h4m-1 1h4m-4 2h4m9 -4h4" stroke="#7a7a7a" stroke-width="4" fill="none"/>
<path d="M139.8 118.1L136.8 118.3L132.8 117.8L129.2 116.9L125.8 115.5L123.0 114.0L120.2 112.2L117.5 109.8L113.8 106.2L111.8 105.0L109.8 105.1L104.2 107.2L101.0 107.9L97.8 107.8L94.5 106.9L91.5 105.0L88.9 102.1L87.2 98.6L86.5 94.6L86.8 90.3L88.0 86.6L90.0 83.2L92.8 80.5L95.2 79.0L98.0 78.1L100.8 77.7L106.0 77.5L108.3 76.8L109.9 75.6L113.2 71.8L116.0 69.1L122.2 63.7L126.2 60.7L129.2 58.8L132.0 57.5L134.8 56.7L137.2 56.4L138.5 56.4L139.8 56.8L141.0 57.5L142.2 58.6L144.4 61.6L146.4 65.8L148.2 71.3L149.6 77.8L150.5 85.1L151.0 92.1L151.1 97.6L150.8 101.3L150.0 105.6L148.7 109.3L146.9 112.6L144.8 115.2L142.2 117.1L139.8 118.1Z" fill="#fff" stroke="#1a1a1a" stroke-width="0.7"/>
<path d="M139.5 116.7L136.2 116.8L132.5 116.2L129.0 115.2L125.2 113.5L122.5 111.7L120.0 109.6L117.6 107.1L114.0 102.6L112.2 101.5L110.5 101.7L105.0 104.7L101.2 105.9L99.2 106.0L97.2 105.7L95.5 105.2L93.8 104.3L91.9 102.8L90.3 100.8L89.2 98.6L88.5 96.1L88.3 93.6L88.6 90.8L89.4 88.1L90.5 85.8L92.0 83.9L93.8 82.3L95.8 81.1L98.0 80.4L101.8 80.1L108.5 81.3L109.8 81.3L110.8 81.0L112.2 79.7L116.1 74.3L119.7 70.1L123.8 66.1L127.5 63.0L131.2 60.8L134.8 59.6L138.2 59.2L139.5 59.5L140.5 60.1L142.5 61.9L144.4 64.8L146.1 68.8L147.6 73.6L148.7 78.8L149.6 85.1L150.1 91.3L150.2 97.3L149.9 100.8L149.4 104.1L148.4 107.3L147.1 110.1L145.5 112.6L143.8 114.4L141.8 115.8L139.5 116.7Z" fill="none" stroke="#1a1a1a" stroke-width="0.7"/>
<path d="M139.5 115.1L135.8 115.2L131.2 114.3L127.2 112.7L123.5 110.3L120.8 107.8L118.4 104.8L116.6 101.8L113.8 95.7L112.8 94.5L112.2 94.4L111.8 94.8L108.9 98.3L106.8 100.3L103.5 102.5L101.5 103.1L99.2 103.3L97.2 103.0L95.2 102.1L93.8 101.0L92.5 99.6L91.6 97.8L90.9 95.8L90.7 93.8L91.0 91.6L91.5 89.6L92.3 87.8L94.0 85.7L96.0 84.2L98.5 83.2L101.0 83.0L103.5 83.5L105.8 84.4L108.0 85.8L111.5 89.0L112.0 89.2L112.5 89.1L113.5 87.7L116.4 80.6L118.6 76.6L121.8 72.1L125.4 68.1L129.2 65.0L133.0 63.0L135.0 62.4L137.2 62.1L138.8 62.2L140.0 62.7L142.0 64.3L143.7 66.8L145.3 70.3L146.6 74.6L147.8 79.8L148.6 85.1L149.1 91.1L149.3 97.1L149.1 100.1L148.5 103.3L147.7 106.3L146.4 109.1L145.0 111.3L143.2 113.2L141.5 114.4L139.5 115.1Z" fill="none" stroke="#1a1a1a" stroke-width="0.7"/>
<path d="M139.2 113.6L137.5 113.8L135.0 113.6L130.8 112.5L127.0 110.7L123.5 108.1L120.7 104.8L118.8 101.3L117.6 97.6L117.2 93.1L117.4 88.6L118.6 83.6L120.6 78.8L123.4 74.3L126.7 70.3L130.2 67.5L133.8 65.7L137.5 65.0L139.5 65.3L141.2 66.6L143.1 69.1L144.7 72.6L146.1 77.1L147.1 82.1L147.9 87.6L148.3 93.6L148.3 97.8L148.0 100.8L147.4 103.8L146.3 106.8L145.0 109.3L143.2 111.4L141.2 112.9L139.2 113.6ZM102.0 96.9L100.8 97.0L99.5 96.5L98.6 95.6L98.1 94.1L98.0 92.6L98.4 91.1L99.5 89.9L100.8 89.4L102.0 89.4L103.2 89.9L104.2 90.9L104.8 92.3L104.8 93.8L104.2 95.2L103.2 96.3L102.0 96.9Z" fill="none" stroke="#1a1a1a" stroke-width="0.7"/>
<path d="M139.0 112.1L135.5 112.1L131.8 111.2L128.2 109.6L125.2 107.4L122.7 104.6L121.0 101.6L120.1 98.6L119.7 94.8L119.9 90.1L120.8 85.3L122.4 80.8L124.8 76.6L127.6 73.1L130.8 70.3L134.0 68.6L137.5 67.9L139.2 68.2L141.0 69.4L142.6 71.6L144.1 74.8L145.3 78.8L146.3 83.6L147.0 88.3L147.3 93.8L147.4 97.8L147.1 100.6L146.4 103.6L145.5 106.1L144.2 108.3L142.7 110.1L141.0 111.4L139.0 112.1Z" fill="none" stroke="#1a1a1a" stroke-width="0.7"/>
<path d="M138.8 110.6L135.8 110.5L132.5 109.8L129.5 108.4L126.9 106.6L124.8 104.3L123.1 101.6L122.2 98.8L121.8 95.8L122.0 91.1L122.8 86.8L124.2 82.6L126.2 78.8L128.8 75.4L131.5 73.0L134.5 71.4L137.5 70.8L139.2 71.1L140.8 72.3L142.2 74.3L143.5 77.1L144.6 80.6L145.5 84.8L146.1 89.6L146.4 94.3L146.4 97.8L146.2 100.3L145.6 102.8L144.6 105.3L143.5 107.3L142.0 109.0L140.5 110.0L138.8 110.6Z" fill="rgba(0,0,0,0.14)" stroke="#1a1a1a" stroke-width="0.7"/>
<path d="M139.2 108.9L137.0 109.1L134.0 108.6L131.2 107.5L128.9 106.1L127.0 104.3L125.4 102.1L124.3 99.6L123.9 97.1L123.9 92.8L124.6 88.6L125.8 84.6L127.5 81.1L129.7 78.1L132.1 75.8L134.8 74.4L137.5 73.8L139.0 74.0L140.2 74.9L141.5 76.5L142.6 78.8L143.7 81.8L144.5 85.3L145.4 93.3L145.4 98.8L145.0 101.1L144.3 103.3L143.4 105.3L142.2 106.9L140.8 108.2L139.2 108.9Z" fill="rgba(0,0,0,0.14)" stroke="#1a1a1a" stroke-width="0.7"/>
<path d="M139.0 107.4L136.8 107.4L134.2 107.0L132.0 106.1L130.0 104.8L128.2 103.1L127.0 101.3L126.2 99.3L125.8 97.1L125.9 93.3L126.5 89.6L127.5 86.1L129.0 83.1L130.8 80.6L132.9 78.6L135.2 77.3L137.5 76.8L138.8 77.0L140.0 77.8L141.0 79.1L142.0 81.1L143.6 86.8L144.4 93.8L144.4 98.8L143.5 102.6L142.6 104.3L141.5 105.8L140.2 106.8L139.0 107.4Z" fill="rgba(0,0,0,0.14)" stroke="#1a1a1a" stroke-width="0.7"/>
<path d="M138.2 105.9L136.2 105.7L134.2 105.2L132.5 104.4L130.9 103.3L129.5 101.9L128.6 100.3L127.9 98.6L127.7 96.8L127.8 93.6L128.4 90.3L129.2 87.6L130.5 85.0L132.0 82.9L133.8 81.3L135.8 80.2L137.8 79.9L138.8 80.0L139.8 80.8L140.8 82.2L141.7 84.3L143.0 89.6L143.5 95.8L143.2 99.5L142.2 102.6L140.5 104.9L139.5 105.5L138.2 105.9Z" fill="rgba(0,0,0,0.14)" stroke="#1a1a1a" stroke-width="0.7"/>
<path d="M138.8 104.1L137.2 104.2L135.5 103.9L134.0 103.3L132.5 102.4L131.4 101.3L130.5 100.1L129.9 98.6L129.6 97.1L129.7 94.3L130.1 91.8L130.8 89.6L131.8 87.4L133.0 85.6L134.3 84.3L135.8 83.4L137.5 83.0L138.5 83.1L139.2 83.6L140.7 85.8L141.8 89.6L142.4 94.3L142.4 98.1L141.8 100.8L140.5 103.0L138.8 104.1Z" fill="rgba(0,0,0,0.14)" stroke="#1a1a1a" stroke-width="0.7"/>
<path d="M138.8 102.4L137.8 102.5L136.4 102.3L134.0 101.3L132.2 99.4L131.5 97.1L131.9 93.1L133.2 89.6L134.2 88.1L135.2 87.1L136.2 86.5L137.5 86.2L138.8 86.4L140.0 88.2L140.8 90.8L141.3 94.3L141.4 97.3L141.0 99.6L140.0 101.5L138.8 102.4Z" fill="rgba(0,0,0,0.14)" stroke="#1a1a1a" stroke-width="0.7"/>
<path d="M138.5 100.7L136.8 100.6L135.1 99.8L134.0 98.6L133.5 97.1L133.8 94.3L134.6 91.8L136.0 90.2L137.8 89.5L138.8 89.9L139.5 91.1L140.0 92.9L140.3 95.3L140.4 97.3L140.0 98.8L139.3 100.1L138.5 100.7Z" fill="rgba(255,255,255,0.22)" stroke="#1a1a1a" stroke-width="0.7"/>
<path d="M138.2 98.9L137.2 98.9L136.5 98.5L135.8 97.8L135.6 97.1L135.7 95.6L136.1 94.3L136.8 93.4L137.8 92.9L138.2 93.0L138.8 93.7L139.2 95.8L139.1 97.8L138.8 98.5L138.2 98.9Z" fill="#fff" stroke="#1a1a1a" stroke-width="0.7"/>
</g>
<clipPath id="a12"><rect x="166.5" y="20.6" width="104.10000000000002" height="99.4"/></clipPath>
<g clip-path="url(#a12)">
<path transform="scale(.25)" d="M806 120h4m-27 67h4m43 2h4m11 2h4m20 -6h4m122 2h4m-318 12h4m243 0h4m65 -6h4m-328 14h4m61 -1h4m56 -3h4m2 -3h4m35 4h4m119 1h4m-195 3h4m129 6h4m-3 -3h4m-224 12h4m238 -6h4m26 3h4m-175 11h4m135 -3h4m14 3h4m2 -5h4m14 2h4m-122 11h4m18 0h4m7 -6h4m-3 5h4m11 -6h4m23 1h4m1 -1h4m24 0h4m21 5h4m22 1h4m-264 5h4m53 -2h4m17 5h4m6 -6h4m4 1h4m5 3h4m30 -2h4m-2 5h4m-3 0h4m5 -2h4m-2 -5h4m-3 4h4m30 1h4m17 -5h4m6 3h4m10 4h4m-262 3h4m8 2h4m32 1h4m51 -4h4m8 0h4m19 2h4m9 -3h4m8 1h4m4 0h4m0 5h4m7 -5h4m31 6h4m0 -4h4m-3 1h4m49 -2h4m46 -1h4m-228 10h4m4 2h4m12 -1h4m-3 1h4m4 2h4m-2 -4h4m1 3h4m14 1h4m40 -6h4m1 3h4m15 -1h4m29 0h4m0 -3h4m-316 10h4m28 2h4m67 0h4m13 1h4m57 2h4m-2 -2h4m12 -1h4m3 -3h4m74 6h4m1 -7h4m5 1h4m3 2h4m7 -3h4m17 4h4m-1 -2h4m3 5h4m-280 8h4m31 -2h4m40 0h4m11 1h4m-4 -2h4m-3 0h4m5 0h4m0 -3h4m-1 3h4m107 0h4m9 0h4m-2 3h4m5 -7h4m9 4h4m9 0h4m44 -3h4m-356 10h4m1 1h4m0 -2h4m87 4h4m-1 -3h4m-4 1h4m2 3h4m3 0h4m149 -6h4m3 4h4m5 -1h4m27 0h4m4 2h4m4 1h4m-367 8h4m8 -6h4m28 3h4m6 -3h4m6 -1h4m35 0h4m19 2h4m4 3h4m163 -2h4m2 3h4m-3 1h4m2 -5h4m0 5h4m47 -2h4m-391 8h4m58 -4h4m23 3h4m18 2h4m24 1h4m12 -7h4m-2 1h4m-3 -1h4m166 4h4m5 -1h4m-275 5h4m7 5h4m-1 -5h4m37 5h4m0 -4h4m10 4h4m187 -5h4m12 7h4m5 -6h4m-339 10h4m23 4h4m21 -5h4m6 5h4m10 -4h4m-1 -2h4m9 -1h4m7 1h4m2 0h4m202 4h4m4 -2h4m-2 -1h4m-322 10h4m39 0h4m-1 -4h4m2 1h4m-3 1h4m10 5h4m233 -6h4m-3 1h4m1 4h4m1 1h4m12 0h4m-1 -3h4m1 3h4m8 -5h4m16 0h4m-4 2h4m-345 9h4m2 -2h4m-1 4h4m8 -3h4m19 -3h4m0 -1h4m243 6h4m-3 -3h4m2 0h4m-1 3h4m-3 -5h4m-3 4h4m-3 -2h4m9 4h4m0 -4h4m-377 11h4m39 -6h4m8 6h4m2 -5h4m12 1h4m-4 -2h4m-1 3h4m244 0h4m-1 1h4m-1 2h4m2 -1h4m-2 -3h4m-4 4h4m3 0h4m-1 -2h4m5 -2h4m2 -1h4m-367 10h4m51 -2h4m0 4h4m-4 -1h4m1 -4h4m3 2h4m254 3h4m-3 1h4m-3 -6h4m-2 4h4m-4 -4h4m-3 6h4m-2 0h4m1 -5h4m-3 5h4m10 0h4m5 -1h4m-326 3h4m-4 4h4m287 -3h4m-3 2h4m-2 -1h4m-3 -1h4m-2 3h4m-3 3h4m-3 -7h4m13 7h4m9 -4h4m5 0h4m1 -2h4m-355 11h4m286 -3h4m-2 4h4m3 -1h4m-3 -2h4m-2 5h4m-3 -6h4m-4 4h4m-2 -2h4m8 -1h4m-3 5h4m-4 -2h4m6 0h4m10 1h4m-348 4h4m-2 -2h4m1 0h4m3 5h4m-2 1h4m275 -6h4m1 7h4m-2 -6h4m4 3h4m2 -4h4m2 4h4m-375 5h4m43 0h4m-3 3h4m-1 -3h4m5 2h4m280 -3h4m4 7h4m0 -3h4m-3 2h4m1 -5h4m-1 4h4m-4 2h4m-2 -6h4m25 3h4m-395 8h4m13 -3h4m7 5h4m18 -1h4m286 -4h4m-2 3h4m0 -1h4m-2 -3h4m4 6h4m-4 -1h4m-3 -5h4m-3 4h4m2 -4h4m-1 4h4m4 3h4m-2 -2h4m5 -2h4m-2 3h4m8 -1h4m-377 9h4m-3 -1h4m1 2h4m3 -5h4m7 -1h4m283 3h4m0 -1h4m-2 0h4m8 -3h4m17 2h4m5 0h4m9 2h4m-399 10h4m3 -1h4m14 -5h4m17 5h4m-3 -4h4m280 5h4m-2 -5h4m0 5h4m-1 -1h4m-2 -1h4m1 -1h4m4 -2h4m22 0h4m2 -1h4m-3 2h4m-63 10h4m-2 -1h4m-2 2h4m-2 -5h4m1 3h4m-3 4h4m-3 0h4m6 -6h4m-4 4h4m0 2h4m6 -5h4m6 4h4m-353 5h4m10 -1h4m1 -1h4m280 3h4m-3 -1h4m11 -1h4m30 5h4m6 -7h4m-398 11h4m-3 -1h4m14 2h4m22 -4h4m2 1h4m286 1h4m-3 -1h4m-1 0h4m1 -1h4m0 7h4m-3 -4h4m2 4h4m6 -4h4m-4 3h4m0 -6h4m-1 2h4m-336 11h4m1 0h4m288 -5h4m-3 5h4m-1 -2h4m9 -2h4m8 5h4m-359 4h4m18 1h4m308 3h4m12 -5h4m-378 13h4m59 -2h4m0 -2h4m274 5h4m-2 -1h4m0 -5h4m-2 4h4m-2 2h4m-3 -1h4m1 0h4m4 0h4m2 0h4m15 0h4m0 -6h4m1 7h4m-320 6h4m-1 0h4m-2 -1h4m1 2h4m1 -1h4m3 2h4m23 0h4m-4 -1h4m-3 1h4m5 0h4m182 -3h4m-3 1h4m5 -5h4m-2 0h4m1 5h4m10 1h4m6 -6h4m3 7h4m19 -5h4m-402 9h4m16 4h4m-4 -6h4m9 0h4m8 0h4m21 4h4m27 -4h4m3 1h4m4 2h4m0 -4h4m0 1h4m-3 2h4m1 4h4m10 -1h4m4 -6h4m17 5h4m1 2h4m1 -2h4m0 0h4m8 2h4m87 0h4m4 -2h4m-3 1h4m4 0h4m-2 -1h4m-3 -1h4m-4 -1h4m2 -2h4m6 4h4m-2 -2h4m-3 1h4m34 -4h4m21 3h4m-356 8h4m3 -2h4m1 4h4m9 -4h4m15 -1h4m32 6h4m44 -5h4m-2 1h4m9 4h4m-3 0h4m6 -4h4m3 0h4m1 0h4m1 0h4m-4 4h4m5 -1h4m1 -3h4m8 2h4m4 1h4m4 -3h4m0 3h4m-1 1h4m-3 -2h4m2 0h4m-3 -3h4m-2 1h4m-2 0h4m11 2h4m1 1h4m-1 -5h4m-3 4h4m1 -2h4m2 2h4m-1 -3h4m-3 3h4m3 -4h4m11 1h4m2 2h4m-3 0h4m29 -1h4m6 3h4m-2 -2h4" stroke="#999" stroke-width="4" fill="none"/>
<path d="M233.5 118.4L227.0 118.4L219.5 118.0L205.5 115.8L193.8 115.3L190.8 114.6L188.2 113.7L186.0 112.3L184.0 110.4L182.7 108.3L181.8 105.8L181.4 103.3L181.6 100.6L182.2 97.6L183.4 94.6L185.2 91.3L187.5 88.3L190.2 85.4L193.2 83.0L198.2 79.7L208.7 74.3L216.8 68.9L220.2 66.9L225.2 64.9L230.0 64.2L234.8 64.5L237.2 65.2L239.5 66.1L243.2 68.4L246.6 71.6L249.3 75.3L251.4 79.8L252.6 84.1L252.9 87.6L252.9 97.6L252.1 104.8L252.7 106.3L255.0 109.1L255.4 110.8L254.8 112.1L253.6 113.3L251.8 114.5L249.2 115.5L245.8 116.5L241.5 117.4L233.5 118.4Z" fill="#fff" stroke="#1a1a1a" stroke-width="0.7"/>
<path d="M232.8 117.4L226.8 117.2L220.2 116.4L215.2 115.4L206.5 113.0L204.0 112.9L195.2 113.2L192.2 112.7L189.8 111.8L187.8 110.6L186.1 109.1L184.9 107.1L184.2 105.1L183.9 102.8L184.0 100.6L184.6 97.8L185.6 95.3L187.4 92.1L189.5 89.3L192.2 86.6L195.2 84.3L201.0 81.0L212.0 76.6L222.2 70.1L226.2 68.6L230.2 67.9L234.2 68.3L238.0 69.5L241.5 71.7L244.6 74.8L247.1 78.8L249.3 84.1L250.6 89.3L251.4 95.3L251.4 99.6L250.5 104.3L250.5 105.8L251.0 107.1L252.6 109.6L252.8 110.8L252.3 112.1L251.2 113.1L249.2 114.2L246.8 115.2L239.8 116.7L232.8 117.4Z" fill="none" stroke="#1a1a1a" stroke-width="0.7"/>
<path d="M236.0 116.4L232.0 116.5L227.8 116.3L223.5 115.8L219.8 115.0L216.8 114.2L214.2 113.1L212.4 112.1L210.0 110.2L208.8 109.7L206.8 109.8L200.8 110.9L197.5 111.2L194.2 111.0L191.5 110.2L189.8 109.3L188.4 108.1L187.2 106.6L186.5 104.8L186.1 102.8L186.1 100.8L186.4 98.8L187.1 96.6L189.2 92.8L192.2 89.1L195.8 86.2L200.0 83.7L204.8 81.9L212.5 80.2L215.0 79.4L217.5 78.1L223.2 74.4L226.8 72.9L229.0 72.4L231.2 72.3L233.5 72.6L235.8 73.2L239.2 75.2L242.5 78.2L246.2 83.1L248.3 87.3L249.5 91.3L250.2 95.3L250.2 100.1L249.1 106.1L249.3 107.3L250.4 110.3L250.2 111.3L249.5 112.3L246.8 114.0L241.8 115.5L236.0 116.4Z" fill="none" stroke="#1a1a1a" stroke-width="0.7"/>
<path d="M235.8 115.6L231.0 115.7L226.0 115.2L221.5 114.3L218.0 113.0L216.3 111.8L215.4 110.8L215.1 109.8L215.1 107.3L214.8 106.1L213.8 104.4L212.5 103.7L211.0 103.9L205.8 107.0L201.2 108.7L196.8 109.2L194.8 109.0L192.8 108.4L191.3 107.6L190.1 106.6L189.2 105.3L188.5 103.8L188.2 102.1L188.2 100.3L189.1 96.6L191.1 93.1L193.9 89.8L197.2 87.2L201.2 85.2L204.0 84.3L207.0 83.7L209.8 83.6L214.2 83.8L216.0 83.5L218.0 82.6L224.5 78.5L226.5 77.7L228.8 77.0L232.8 76.9L234.8 77.2L236.8 77.9L239.5 79.3L242.0 81.2L244.2 83.5L246.1 86.1L247.6 89.1L248.6 92.3L249.2 95.6L249.3 98.8L249.1 101.3L247.9 106.3L248.2 110.3L247.6 111.8L245.9 113.1L243.2 114.2L239.8 115.1L235.8 115.6Z" fill="none" stroke="#1a1a1a" stroke-width="0.7"/>
<path d="M235.8 114.9L231.2 115.0L226.5 114.5L222.5 113.5L219.6 112.1L218.7 111.3L218.0 110.3L216.9 106.3L215.0 102.5L213.8 100.6L212.8 99.9L212.0 99.9L211.2 100.3L206.2 104.3L202.2 106.3L200.0 106.9L197.8 107.2L195.8 107.0L194.0 106.5L192.8 105.8L191.8 104.9L190.5 102.6L190.3 99.8L191.1 96.6L192.8 93.6L195.3 90.8L198.5 88.5L201.8 86.9L204.8 86.2L207.8 86.1L210.0 86.5L213.5 88.0L214.8 88.1L216.5 87.3L222.8 82.3L227.0 80.2L229.8 79.6L232.5 79.4L235.0 79.7L237.5 80.5L240.0 81.8L242.2 83.5L244.2 85.6L245.7 87.8L246.9 90.3L247.8 93.3L248.3 96.3L248.4 99.3L248.0 102.1L246.6 106.6L246.3 110.1L245.8 111.3L244.3 112.6L242.0 113.6L239.0 114.4L235.8 114.9Z" fill="none" stroke="#1a1a1a" stroke-width="0.7"/>
<path d="M235.8 114.1L231.5 114.2L227.2 113.7L223.8 112.8L221.2 111.4L220.4 110.6L219.7 109.3L216.4 101.8L215.4 98.6L215.2 95.6L215.6 93.3L216.8 90.8L218.8 88.1L221.2 85.6L223.8 83.6L226.8 82.1L229.8 81.3L232.8 81.1L235.8 81.5L238.5 82.5L241.0 84.1L243.1 86.1L244.9 88.6L246.3 91.6L247.2 94.8L247.5 98.1L247.3 100.8L244.3 110.6L243.1 111.8L241.3 112.8L238.8 113.6L235.8 114.1ZM199.8 104.9L197.8 105.0L195.8 104.6L194.2 103.8L193.2 102.6L192.6 101.1L192.5 99.3L192.9 97.6L193.7 95.6L195.1 93.6L196.8 91.9L198.8 90.4L200.8 89.4L203.0 88.7L205.0 88.4L207.0 88.6L208.5 89.2L210.2 90.6L211.1 92.6L211.1 94.6L210.1 97.1L208.0 100.1L205.5 102.3L202.8 104.0L199.8 104.9Z" fill="rgba(0,0,0,0.1)" stroke="#1a1a1a" stroke-width="0.7"/>
<path d="M235.5 113.4L232.0 113.5L228.5 113.1L225.5 112.3L223.1 111.1L222.0 110.1L221.0 108.6L218.2 103.1L217.1 99.8L216.9 97.1L217.3 94.3L218.3 91.6L219.9 89.1L221.9 86.8L224.2 84.9L227.0 83.5L229.8 82.7L232.5 82.4L235.2 82.7L238.0 83.7L240.2 85.0L242.2 86.9L244.1 89.3L245.4 92.1L246.3 95.1L246.6 98.3L246.3 101.1L245.7 103.3L243.1 109.8L242.0 111.1L240.5 112.1L238.2 112.9L235.5 113.4ZM200.2 102.4L198.8 102.5L197.5 102.3L196.5 101.7L195.8 100.9L195.3 99.8L195.2 98.6L196.0 96.1L198.0 93.6L200.8 91.8L203.5 91.1L204.8 91.1L206.0 91.6L207.2 92.6L207.6 93.8L207.6 95.6L206.9 97.3L205.7 99.1L204.2 100.6L202.2 101.8L200.2 102.4Z" fill="rgba(0,0,0,0.1)" stroke="#1a1a1a" stroke-width="0.7"/>
<path d="M235.0 112.6L232.0 112.7L229.0 112.3L226.5 111.6L224.5 110.5L222.9 108.8L220.2 104.6L219.0 102.1L218.4 99.8L218.3 97.1L218.7 94.6L219.6 92.1L221.1 89.6L223.0 87.5L225.2 85.8L227.8 84.5L230.5 83.8L233.0 83.7L235.5 84.0L238.0 85.0L240.1 86.3L242.1 88.3L243.7 90.6L244.8 93.1L245.4 95.8L245.7 99.1L245.3 101.6L244.4 103.8L241.8 109.3L240.7 110.6L239.2 111.5L237.2 112.2L235.0 112.6ZM201.5 97.9L200.8 98.0L200.2 97.9L200.0 97.1L200.8 96.0L202.0 95.6L202.5 95.9L202.6 96.6L202.2 97.3L201.5 97.9Z" fill="rgba(0,0,0,0.1)" stroke="#1a1a1a" stroke-width="0.7"/>
<path d="M235.5 111.6L233.0 111.8L230.2 111.6L228.0 111.0L226.0 110.0L224.2 108.4L221.6 104.8L220.4 102.6L219.6 100.3L219.4 97.8L219.8 95.3L220.6 92.8L221.8 90.8L223.5 88.7L225.4 87.1L227.5 85.9L230.0 85.1L232.5 84.9L234.8 85.1L237.0 85.8L239.0 86.9L241.0 88.6L242.5 90.6L243.6 92.8L244.4 95.3L244.7 97.8L244.6 100.1L244.0 102.3L243.0 104.6L240.8 108.3L239.6 109.8L237.8 111.0L235.5 111.6Z" fill="rgba(0,0,0,0.1)" stroke="#1a1a1a" stroke-width="0.7"/>
<path d="M233.5 110.9L231.2 110.7L229.2 110.3L227.5 109.5L226.0 108.3L223.8 105.8L222.0 103.3L221.1 101.3L220.6 99.1L220.7 96.6L221.3 94.3L222.3 92.1L223.8 90.1L225.5 88.5L227.5 87.2L229.8 86.4L232.0 86.0L234.2 86.1L236.2 86.7L238.2 87.7L239.9 89.1L241.4 90.8L242.5 92.8L243.3 95.1L243.7 97.6L243.6 100.1L243.0 102.3L241.8 104.6L239.8 107.6L238.5 109.0L237.2 109.9L235.5 110.6L233.5 110.9Z" fill="rgba(0,0,0,0.1)" stroke="#1a1a1a" stroke-width="0.7"/>
<path d="M234.0 109.6L232.0 109.6L230.2 109.3L228.7 108.6L227.0 107.4L224.8 105.2L223.2 103.2L222.3 101.3L221.8 99.3L221.9 97.1L222.3 95.1L223.1 93.1L224.3 91.3L225.8 89.8L227.5 88.6L229.5 87.7L231.5 87.3L233.5 87.2L235.5 87.7L237.2 88.4L238.8 89.6L240.2 91.1L241.3 92.8L242.1 94.8L242.6 97.1L242.7 99.1L242.4 100.8L241.7 102.6L240.7 104.3L238.8 106.8L237.2 108.3L235.8 109.2L234.0 109.6Z" fill="rgba(0,0,0,0.1)" stroke="#1a1a1a" stroke-width="0.7"/>
<path d="M234.0 108.1L232.5 108.2L230.8 107.9L229.0 107.1L227.2 105.9L225.5 104.2L224.2 102.6L223.5 101.1L223.1 99.3L223.1 97.6L223.4 95.6L224.1 93.8L225.2 92.1L226.5 90.8L228.0 89.7L229.8 88.9L231.5 88.5L233.2 88.4L235.0 88.8L236.5 89.4L238.0 90.4L239.2 91.7L240.3 93.3L241.0 95.1L241.5 97.1L241.4 100.3L240.9 101.8L240.0 103.4L237.0 106.6L235.5 107.6L234.0 108.1Z" fill="rgba(0,0,0,0.1)" stroke="#1a1a1a" stroke-width="0.7"/>
<path d="M234.2 106.4L232.8 106.6L231.2 106.4L228.2 104.9L226.8 103.7L225.6 102.3L224.9 101.1L224.4 99.6L224.3 98.1L224.6 96.3L225.1 94.8L225.9 93.3L227.0 92.1L228.2 91.1L229.8 90.3L231.2 89.8L232.8 89.7L234.2 89.9L235.8 90.4L237.0 91.2L238.2 92.3L239.1 93.6L239.8 95.1L240.2 96.8L240.2 99.8L239.2 102.3L237.0 104.8L235.5 105.9L234.2 106.4Z" fill="rgba(0,0,0,0.1)" stroke="#1a1a1a" stroke-width="0.7"/>
<path d="M233.0 104.9L230.5 104.4L228.2 103.1L226.4 101.1L225.8 98.8L226.1 96.1L227.5 93.6L229.6 91.8L232.2 91.1L234.8 91.5L236.8 92.8L238.3 95.1L239.0 97.8L238.7 100.3L237.5 102.4L235.5 104.1L234.2 104.6L233.0 104.9Z" fill="rgba(255,255,255,0.22)" stroke="#1a1a1a" stroke-width="0.7"/>
<path d="M234.0 102.9L232.0 103.0L230.0 102.4L228.4 101.1L227.5 99.4L227.4 97.3L228.1 95.3L229.5 93.7L231.2 92.8L233.2 92.7L235.0 93.3L236.5 94.8L237.2 96.6L237.4 98.6L236.9 100.3L235.8 101.9L234.0 102.9Z" fill="rgba(255,255,255,0.22)" stroke="#1a1a1a" stroke-width="0.7"/>
<path d="M233.0 100.4L231.8 100.5L230.8 100.2L229.8 99.3L229.4 98.3L229.4 97.1L229.9 95.8L230.8 94.9L232.0 94.4L233.0 94.4L234.1 94.8L234.8 95.6L235.2 96.8L235.2 97.8L234.8 99.0L234.0 99.8L233.0 100.4Z" fill="#fff" stroke="#1a1a1a" stroke-width="0.7"/>
<rect x="167.3" y="85" width="3.4" height="19" rx="1.5" fill="none" stroke="#888" stroke-width="0.7"/>
</g>
<clipPath id="a21"><rect x="62" y="120" width="104.5" height="100.30000000000001"/></clipPath>
<g clip-path="url(#a21)">
<path transform="scale(.25)" d="M248 486h3m23 -3h3m148 3h3m-3 -5h3m-63 12h3m-75 6h3m18 3h3m105 -2h3m5 1h3m-59 4h3m-1 11h3m-69 9h3m50 0h3m4 -2h3m5 0h3m60 2h3m-12 6h3m94 1h3m-242 6h3m47 5h3m97 -2h3m1 -3h3m27 3h3m6 -2h3m-5 10h3m158 2h3m-250 5h3m108 3h3m97 -2h3m-309 4h3m18 4h3m33 1h3m4 1h3m16 -3h3m32 3h3m64 -2h3m-211 5h3m57 1h3m68 0h3m-2 -2h3m91 4h3m-173 10h3m30 -1h3m39 -1h3m113 -2h3m-166 11h3m-2 -2h3m1 3h3m40 -3h3m4 0h3m-1 -1h3m7 -3h3m42 2h3m10 0h3m-217 8h3m49 2h3m29 -2h3m24 3h3m-54 10h3m7 0h3m28 -1h3m18 0h3m61 -1h3m20 1h3m-2 -5h3m11 4h3m-218 5h3m4 1h3m-1 2h3m6 -4h3m63 2h3m50 -1h3m-1 0h3m37 1h3m44 1h3m124 1h3m-358 3h3m5 0h3m3 6h3m12 -3h3m9 -1h3m37 3h3m-1 1h3m31 -5h3m90 2h3m163 2h3m-343 3h3m45 2h3m-3 2h3m1 -3h3m105 0h3m23 0h3m-231 14h3m-1 -3h3m28 0h3m7 -2h3m5 5h3m-1 -7h3m28 3h3m1 -1h3m5 3h3m8 0h3m50 -1h3m13 0h3m5 -1h3m-2 -3h3m1 7h3m-160 6h3m36 2h3m6 -5h3m45 2h3m29 1h3m7 2h3m33 -2h3m-1 -4h3m2 -1h3m-176 8h3m0 0h3m6 7h3m34 -6h3m1 1h3m0 0h3m14 3h3m26 -5h3m3 1h3m0 3h3m18 -1h3m7 4h3m26 0h3m118 -2h3m-298 9h3m34 -2h3m5 -2h3m52 2h3m33 -1h3m40 -2h3m0 -1h3m137 2h3m-371 12h3m22 0h3m45 -4h3m15 2h3m1 -2h3m30 4h3m5 -6h3m1 4h3m2 2h3m24 -1h3m6 -2h3m38 3h3m-236 2h3m55 2h3m4 5h3m11 -1h3m12 -1h3m6 1h3m4 -2h3m6 0h3m3 -2h3m28 2h3m8 -3h3m-92 14h3m0 -2h3m4 1h3m-1 0h3m-1 -3h3m18 3h3m-1 -1h3m1 1h3m280 -4h3m-386 7h3m11 -1h3m-1 1h3m-3 1h3m62 2h3m-1 -2h3m7 0h3m19 0h3m0 -2h3m0 1h3m-2 3h3m17 1h3m18 -4h3m4 6h3m44 -2h3m7 -4h3m-216 13h3m0 0h3m54 1h3m0 -2h3m33 1h3m24 0h3m21 -1h3m19 1h3m-177 6h3m1 -1h3m-2 1h3m6 -3h3m1 5h3m14 -4h3m32 2h3m-1 -4h3m6 1h3m8 -1h3m64 5h3m7 2h3m8 -1h3m-209 3h3m108 -1h3m31 4h3m9 0h3m4 -2h3m21 0h3m49 4h3m-234 5h3m323 15h3m48 59h3m-394 45h3m27 3h3m147 6h3m210 -3h3m-286 11h3m202 3h3m-139 14h3m3 1h3" stroke="#888" stroke-width="3" fill="none"/>
<path d="M131.0 216.0L126.2 216.2L120.5 215.6L116.0 214.6L108.5 212.2L106.2 211.7L103.5 212.0L96.0 214.2L90.8 214.7L87.8 214.6L84.8 214.1L81.5 213.2L78.2 211.9L73.2 209.1L68.6 206.0L65.8 203.2L63.4 200.0L62.0 197.3L62.0 183.7L66.7 181.8L73.2 180.1L81.0 178.9L89.0 178.4L95.5 178.5L102.8 179.1L110.2 180.3L121.0 182.7L123.0 182.9L124.5 182.6L125.5 181.5L125.8 180.0L124.9 169.2L124.9 165.5L125.3 161.5L126.7 155.2L128.9 149.8L130.4 147.2L132.1 145.2L134.0 143.5L136.0 142.4L138.2 141.7L140.2 141.5L142.8 141.9L145.0 142.7L147.8 144.5L149.9 147.0L151.3 150.2L151.9 154.0L151.7 157.0L150.8 162.5L150.7 170.5L150.1 176.0L148.6 181.8L145.6 188.8L145.1 190.8L145.2 192.8L146.6 198.5L146.4 202.5L145.7 205.0L144.6 207.2L143.1 209.5L141.2 211.4L139.0 213.1L136.5 214.4L133.8 215.4L131.0 216.0Z" fill="#fff" stroke="#1a1a1a" stroke-width="0.7"/>
<path d="M130.8 214.8L125.8 214.9L120.0 214.2L115.8 213.1L108.8 210.4L106.8 210.0L104.5 210.3L97.0 213.1L92.8 213.8L90.0 213.9L87.2 213.6L84.5 213.1L81.8 212.2L78.5 210.5L75.6 208.5L72.7 205.8L70.1 202.5L68.1 199.2L66.2 194.8L65.3 191.5L65.3 189.0L65.8 187.2L66.7 185.8L68.2 184.5L70.2 183.5L73.2 182.4L77.0 181.5L85.8 180.3L92.5 180.2L99.8 180.7L107.0 181.8L116.5 184.1L120.0 184.8L124.2 185.1L126.5 184.5L127.3 183.5L127.4 182.0L125.9 172.0L125.8 165.5L126.6 159.2L128.2 153.8L129.4 151.0L130.8 148.5L132.3 146.5L134.2 144.8L136.0 143.6L138.0 142.8L140.2 142.5L142.5 142.6L145.5 143.6L148.0 145.4L149.9 148.0L151.1 151.2L151.4 153.2L151.4 155.5L150.1 162.8L150.0 170.0L149.6 174.8L148.8 178.2L147.7 182.0L146.4 184.8L144.1 189.0L143.6 190.5L143.6 192.5L144.9 197.0L145.2 199.5L144.9 202.8L143.8 205.8L141.7 209.0L138.6 211.8L135.0 213.7L130.8 214.8Z" fill="none" stroke="#1a1a1a" stroke-width="0.7"/>
<path d="M129.0 213.8L124.0 213.6L119.0 212.7L114.5 211.2L109.0 208.7L107.2 208.3L105.2 208.7L98.5 211.9L93.8 213.0L91.0 213.2L88.0 213.0L85.0 212.4L82.5 211.6L79.8 210.2L77.1 208.2L75.0 206.0L73.4 203.5L72.3 201.0L71.6 197.8L71.1 193.2L71.3 190.2L71.8 188.5L72.8 187.0L74.0 185.8L75.7 184.8L78.2 183.8L81.1 183.0L88.0 182.0L94.0 182.0L100.5 182.8L105.5 184.0L111.5 186.1L114.5 186.7L124.8 186.8L127.0 186.6L128.5 186.0L129.2 185.0L129.2 183.8L127.1 174.8L126.6 171.2L126.4 168.0L127.0 161.5L127.6 158.2L128.6 155.0L129.8 152.0L131.2 149.5L132.8 147.3L134.5 145.6L136.5 144.3L138.8 143.5L141.0 143.2L143.2 143.4L144.8 143.8L146.2 144.6L147.5 145.6L148.8 147.0L150.4 150.2L150.9 152.2L151.1 154.2L150.8 157.0L149.5 163.0L149.3 171.2L148.3 177.5L146.4 183.0L145.0 185.5L142.6 189.0L141.9 190.8L142.0 192.5L143.8 198.2L143.9 200.2L143.6 202.2L142.9 204.5L141.9 206.5L140.4 208.5L138.5 210.2L136.5 211.6L134.2 212.6L131.8 213.4L129.0 213.8Z" fill="none" stroke="#1a1a1a" stroke-width="0.7"/>
<path d="M129.5 212.8L124.5 212.7L119.2 211.7L115.2 210.3L109.5 207.3L107.8 206.8L105.8 207.3L99.5 210.9L95.0 212.3L92.2 212.7L89.5 212.7L87.0 212.4L84.2 211.7L81.2 210.4L79.0 208.9L76.9 207.0L75.3 204.8L74.2 202.5L73.6 200.0L73.5 197.0L73.9 194.2L74.5 192.0L75.4 190.0L76.7 188.2L78.2 186.8L80.0 185.6L82.2 184.7L87.5 183.5L93.0 183.3L98.5 184.2L101.8 185.4L106.8 188.6L109.0 189.3L111.2 189.2L119.5 188.3L127.2 187.9L129.4 187.5L130.5 187.0L131.0 186.2L131.0 185.2L128.2 176.8L127.5 173.2L127.1 170.0L127.3 163.2L128.6 157.0L129.9 153.5L131.3 150.5L132.8 148.2L134.5 146.4L136.5 145.0L138.8 144.1L141.0 143.7L143.5 143.9L146.0 144.9L148.2 146.9L149.8 149.5L150.6 152.5L150.6 156.5L149.0 163.5L148.9 170.8L148.2 175.8L147.1 179.5L145.6 183.0L143.8 185.8L140.8 189.2L140.3 190.2L140.4 191.8L142.2 196.2L142.8 199.0L142.6 202.0L141.5 205.0L139.5 208.0L136.8 210.3L133.2 212.0L129.5 212.8Z" fill="none" stroke="#1a1a1a" stroke-width="0.7"/>
<path d="M92.2 212.3L87.8 212.1L85.5 211.6L83.0 210.7L79.2 208.4L77.8 207.0L76.4 205.2L75.6 203.8L74.9 201.8L74.6 199.8L74.7 197.8L75.0 195.5L75.7 193.5L76.6 191.5L77.8 189.9L80.2 187.6L83.2 185.9L86.5 184.8L90.2 184.4L94.8 184.7L98.8 185.9L102.0 187.7L106.5 191.5L108.2 192.2L109.5 192.1L114.2 190.5L118.2 189.7L122.2 189.2L130.8 188.6L133.0 188.1L133.4 187.8L133.4 187.0L130.8 182.0L129.6 179.2L128.5 175.5L127.8 171.8L127.6 168.0L127.8 164.0L128.4 160.2L129.4 156.5L130.8 152.8L132.6 149.5L134.4 147.2L136.5 145.6L139.2 144.4L141.8 144.1L144.5 144.6L146.8 145.8L148.5 147.8L149.8 150.2L150.4 153.0L150.4 156.0L148.6 163.0L148.2 172.8L147.6 176.2L146.6 179.5L145.2 182.5L143.5 185.0L141.8 186.7L138.6 188.8L138.0 189.5L138.2 190.8L141.0 196.0L141.8 199.2L141.7 201.2L141.2 203.2L140.3 205.2L139.1 207.0L136.5 209.4L133.5 210.9L130.0 211.8L126.2 211.9L122.0 211.4L118.0 210.3L114.2 208.6L109.5 205.7L107.8 205.3L106.2 205.9L102.0 209.0L99.0 210.6L95.8 211.7L92.2 212.3Z" fill="none" stroke="#1a1a1a" stroke-width="0.7"/>
<path d="M139.0 186.8L136.8 186.7L134.8 185.6L132.8 183.5L130.8 180.2L129.5 176.8L128.6 173.0L128.2 169.0L128.3 164.8L128.9 160.8L130.1 156.5L131.8 152.0L133.4 149.2L135.2 147.2L137.5 145.6L140.0 144.7L142.8 144.6L144.2 144.9L145.8 145.6L147.2 146.7L148.3 148.0L149.2 149.5L149.9 151.5L150.2 153.5L150.1 155.5L149.7 158.0L148.2 163.0L147.8 172.0L147.2 175.5L146.3 178.5L144.9 181.8L143.2 184.1L141.2 185.8L139.0 186.8ZM92.8 211.8L89.8 211.8L87.0 211.5L84.2 210.7L82.0 209.6L80.0 208.2L78.2 206.5L76.8 204.5L75.9 202.2L75.5 200.0L75.7 197.2L76.4 194.8L77.6 192.2L79.1 190.2L81.0 188.5L83.2 187.2L85.8 186.2L88.5 185.6L91.8 185.4L94.8 185.8L97.5 186.6L99.5 187.6L101.5 189.0L103.5 190.8L106.8 194.3L108.2 195.1L109.5 194.8L114.7 192.0L119.5 190.6L123.0 190.1L127.0 189.9L130.5 189.9L133.2 190.2L135.2 190.9L137.2 192.4L139.2 194.8L140.3 197.2L140.7 199.2L140.6 201.2L140.1 203.2L139.1 205.2L137.8 207.0L136.2 208.3L134.2 209.6L132.2 210.4L129.5 210.9L126.8 211.0L123.2 210.6L120.0 209.9L115.2 207.9L113.0 206.4L109.5 203.5L108.2 203.2L107.0 203.8L103.0 207.5L100.0 209.6L96.5 211.0L92.8 211.8Z" fill="none" stroke="#1a1a1a" stroke-width="0.7"/>
<path d="M139.8 185.3L137.5 185.3L135.2 184.4L133.2 182.5L131.6 180.0L130.2 176.8L129.3 173.2L128.8 169.5L128.9 165.5L129.4 161.8L130.4 157.8L132.2 152.8L133.8 149.8L135.5 147.7L137.8 146.1L140.2 145.2L142.8 145.0L144.2 145.3L145.8 146.0L147.0 147.0L148.1 148.2L148.9 149.8L149.5 151.5L149.8 153.2L149.8 155.2L149.4 157.8L147.7 163.2L147.3 171.8L146.8 174.8L146.1 177.5L144.8 180.5L143.3 182.8L141.5 184.5L139.8 185.3ZM93.2 211.3L90.5 211.4L87.8 211.1L85.0 210.4L82.8 209.4L80.5 208.0L78.7 206.2L77.4 204.2L76.6 202.2L76.3 200.0L76.5 197.2L77.2 195.0L78.4 192.8L80.0 190.7L82.0 189.0L84.2 187.7L86.8 186.8L89.8 186.3L93.0 186.4L96.0 187.1L98.8 188.3L101.2 190.0L103.4 192.2L105.7 195.5L106.9 198.2L107.0 200.0L106.4 202.0L104.9 204.5L102.9 206.8L101.0 208.3L98.5 209.8L96.0 210.7L93.2 211.3ZM130.2 209.8L126.8 210.0L122.5 209.4L118.8 208.2L115.5 206.5L112.6 204.0L110.8 201.2L110.4 200.0L110.3 199.0L111.1 197.0L112.9 195.0L115.1 193.5L118.0 192.3L121.5 191.4L125.8 191.0L130.0 191.0L133.0 191.6L135.5 192.7L137.7 194.8L139.1 197.2L139.5 199.8L139.1 202.5L137.9 205.0L135.8 207.2L133.2 208.8L130.2 209.8Z" fill="none" stroke="#1a1a1a" stroke-width="0.7"/>
<path d="M139.8 184.0L137.8 184.0L135.8 183.2L133.8 181.5L132.2 179.2L130.8 176.2L129.9 172.8L129.5 169.2L129.6 165.5L130.1 161.8L131.1 157.8L132.8 152.8L134.3 150.0L135.9 148.0L138.0 146.5L140.2 145.7L142.8 145.5L144.2 145.8L145.5 146.4L146.8 147.3L147.8 148.5L149.2 151.5L149.5 153.2L149.5 155.2L149.0 158.0L147.1 163.5L146.7 171.8L145.5 177.0L144.4 179.8L143.0 181.8L141.5 183.2L139.8 184.0ZM93.5 210.8L90.8 211.0L88.0 210.7L85.5 210.1L83.2 209.1L81.2 207.9L79.5 206.2L78.3 204.5L77.4 202.5L77.1 200.5L77.2 198.0L77.8 195.8L78.9 193.5L80.4 191.5L82.2 189.9L84.2 188.7L86.8 187.7L89.5 187.2L92.5 187.2L95.2 187.7L98.0 188.8L100.5 190.5L102.5 192.5L104.2 195.0L105.2 197.5L105.6 199.5L105.4 201.5L104.4 203.8L103.0 205.8L101.0 207.6L98.8 209.1L96.2 210.1L93.5 210.8ZM129.0 208.8L125.2 208.7L121.8 207.9L118.7 206.8L116.0 205.0L114.0 202.8L113.1 200.5L113.1 198.5L114.1 196.5L115.8 195.0L118.2 193.7L121.2 192.7L124.8 192.2L128.2 192.0L131.0 192.3L133.5 193.1L135.5 194.4L137.1 196.2L138.0 198.5L138.1 200.8L137.4 203.2L136.0 205.4L134.0 207.1L131.8 208.2L129.0 208.8Z" fill="rgba(0,0,0,0.08)" stroke="#1a1a1a" stroke-width="0.7"/>
<path d="M139.5 182.8L137.5 182.6L135.5 181.6L133.8 180.0L132.4 177.8L131.3 175.0L130.5 172.0L130.2 168.8L130.3 165.2L131.0 161.2L132.6 155.2L133.6 152.5L134.8 150.2L136.5 148.2L138.5 146.8L140.8 146.1L143.0 146.0L144.2 146.3L145.5 146.9L146.8 147.9L147.7 149.0L148.9 152.0L149.1 155.2L148.6 158.0L146.5 163.5L146.1 171.5L145.0 176.5L143.9 179.0L142.5 180.9L141.0 182.2L139.5 182.8ZM93.5 210.3L91.2 210.5L88.8 210.3L86.2 209.8L84.0 208.9L82.0 207.7L80.3 206.2L79.0 204.5L78.2 202.8L77.8 200.8L77.9 198.5L78.4 196.2L79.3 194.2L80.6 192.5L82.2 190.9L84.2 189.5L86.5 188.6L89.2 188.0L91.8 187.9L94.5 188.3L97.0 189.2L99.2 190.5L101.4 192.5L103.0 194.8L104.1 197.0L104.5 199.2L104.5 201.2L103.8 203.2L102.6 205.2L100.8 207.1L98.5 208.6L96.2 209.6L93.5 210.3ZM130.0 207.3L127.2 207.5L124.0 207.1L121.0 206.1L118.5 204.8L116.7 203.0L115.6 201.0L115.5 199.0L116.3 197.2L117.8 195.8L119.7 194.8L122.0 193.9L124.8 193.4L127.8 193.2L130.0 193.4L132.2 194.1L134.0 195.0L135.5 196.5L136.4 198.2L136.6 200.0L136.3 202.0L135.4 203.8L134.0 205.3L132.2 206.5L130.0 207.3Z" fill="rgba(0,0,0,0.08)" stroke="#1a1a1a" stroke-width="0.7"/>
<path d="M139.8 181.3L138.0 181.3L136.2 180.6L134.5 179.1L133.1 177.0L132.0 174.5L131.3 171.8L131.0 168.8L131.1 165.5L131.7 162.0L133.5 154.8L134.3 152.5L135.2 150.8L136.8 148.8L138.8 147.3L140.8 146.6L143.0 146.5L144.2 146.8L145.5 147.4L147.3 149.2L148.5 152.0L148.7 155.2L148.1 158.0L145.9 163.5L145.5 171.0L144.5 175.5L143.7 177.5L142.5 179.3L141.2 180.6L139.8 181.3ZM93.5 209.8L91.2 210.0L89.0 209.9L86.8 209.4L84.5 208.6L82.5 207.4L81.0 206.1L79.8 204.5L78.9 202.8L78.5 201.0L78.6 198.8L79.1 196.8L79.9 194.8L81.2 193.0L82.8 191.5L84.8 190.1L86.8 189.3L89.2 188.7L91.8 188.6L94.5 189.1L96.8 189.9L98.9 191.2L100.8 192.9L102.1 194.8L103.2 197.0L103.6 199.2L103.6 201.2L103.0 203.2L101.9 205.0L100.3 206.8L98.2 208.1L96.0 209.1L93.5 209.8ZM129.2 205.8L127.0 205.8L124.5 205.5L122.2 204.7L120.3 203.5L118.9 202.0L118.3 200.5L118.3 199.0L118.9 197.8L120.0 196.8L121.8 195.8L125.8 194.8L128.0 194.7L129.8 194.9L131.5 195.4L132.8 196.2L134.0 197.5L134.6 198.8L134.8 200.2L134.4 201.8L133.6 203.2L132.5 204.3L131.0 205.2L129.2 205.8Z" fill="rgba(0,0,0,0.08)" stroke="#1a1a1a" stroke-width="0.7"/>
<path d="M139.2 179.8L137.8 179.6L136.1 178.8L134.8 177.4L133.6 175.5L132.7 173.2L132.1 170.8L131.9 168.0L132.1 165.2L134.3 154.5L135.7 151.0L137.2 149.1L139.0 147.9L141.0 147.2L143.0 147.1L145.2 147.9L147.1 149.8L148.2 152.5L148.3 155.5L147.6 158.0L145.6 162.2L145.1 163.8L144.7 170.8L143.7 175.0L142.8 177.0L141.8 178.4L140.5 179.4L139.2 179.8ZM93.2 209.3L91.2 209.4L89.0 209.3L86.8 208.8L84.8 208.0L83.0 207.0L81.5 205.7L80.4 204.2L79.6 202.5L79.3 200.8L79.4 198.8L79.9 196.8L80.8 194.8L82.0 193.2L83.5 191.8L85.2 190.7L87.2 189.9L89.5 189.4L92.0 189.4L94.2 189.8L96.5 190.6L98.5 191.9L100.2 193.5L101.5 195.2L102.4 197.2L102.8 199.2L102.8 201.2L102.3 203.0L101.3 204.8L99.9 206.2L98.0 207.6L95.8 208.6L93.2 209.3ZM128.8 203.5L125.8 203.3L123.4 202.2L122.6 201.5L122.0 200.5L122.0 199.5L122.3 198.8L123.9 197.5L126.5 196.8L129.0 196.8L131.0 197.7L131.7 198.5L132.1 199.2L132.0 201.0L130.8 202.6L128.8 203.5Z" fill="rgba(0,0,0,0.08)" stroke="#1a1a1a" stroke-width="0.7"/>
<path d="M139.8 177.8L138.5 177.9L137.0 177.4L135.8 176.3L134.6 174.8L133.8 172.8L133.2 170.5L133.0 168.2L133.2 165.8L134.4 159.8L135.1 154.8L136.1 151.8L137.3 150.0L139.0 148.6L141.0 147.9L143.0 147.7L145.0 148.5L146.7 150.2L147.6 152.5L147.8 155.2L147.0 158.2L144.8 162.2L144.2 163.8L143.8 170.2L143.0 173.8L141.5 176.5L140.8 177.3L139.8 177.8ZM92.5 208.8L90.2 208.8L88.2 208.6L86.2 208.0L84.5 207.2L83.0 206.2L81.6 204.8L80.7 203.2L80.2 201.8L80.0 200.0L80.3 198.0L80.9 196.2L82.0 194.5L83.2 193.1L84.8 191.9L86.5 191.0L88.5 190.4L90.5 190.1L92.8 190.3L94.8 190.7L96.8 191.7L98.5 192.9L100.0 194.5L101.1 196.2L101.8 198.2L102.0 200.0L101.8 201.8L101.2 203.5L100.2 205.0L98.5 206.5L96.8 207.6L94.8 208.3L92.5 208.8Z" fill="rgba(0,0,0,0.08)" stroke="#1a1a1a" stroke-width="0.7"/>
<path d="M139.2 175.5L137.8 175.2L136.3 174.0L135.2 172.2L134.6 170.0L134.5 166.8L135.6 161.0L135.9 155.0L136.7 152.2L138.4 150.0L139.5 149.2L140.8 148.7L143.2 148.5L145.0 149.3L146.4 151.0L147.2 153.2L147.2 155.5L146.2 158.5L143.7 162.2L143.1 163.5L142.8 165.0L142.7 169.8L142.0 172.5L140.8 174.7L139.2 175.5ZM93.2 208.0L89.5 208.1L87.5 207.7L85.8 207.1L83.0 205.2L82.0 203.9L81.3 202.5L80.9 201.0L81.0 199.2L81.4 197.5L82.0 196.0L83.0 194.6L84.2 193.3L87.2 191.6L89.2 191.1L91.2 190.9L93.2 191.2L95.2 191.8L97.0 192.8L98.5 194.0L99.7 195.5L100.6 197.2L101.0 199.0L101.1 200.8L100.7 202.5L99.9 204.0L98.8 205.4L97.2 206.5L95.5 207.4L93.2 208.0Z" fill="rgba(0,0,0,0.08)" stroke="#1a1a1a" stroke-width="0.7"/>
<path d="M139.2 171.3L138.5 171.2L137.9 170.8L137.3 169.8L137.0 168.8L137.1 166.8L137.9 163.0L136.8 157.5L136.9 154.5L137.7 152.2L139.2 150.4L141.2 149.5L143.2 149.4L144.8 150.2L146.0 151.8L146.5 153.8L146.4 155.8L145.8 157.5L145.0 159.0L141.6 162.5L140.9 163.5L140.6 164.8L140.6 169.2L140.0 170.7L139.2 171.3ZM91.8 207.5L88.2 207.2L86.5 206.6L85.0 205.8L82.9 203.8L82.2 202.5L81.9 201.0L81.9 199.5L82.3 197.8L82.9 196.2L83.8 195.0L85.0 193.9L86.5 192.9L88.0 192.3L89.8 191.9L91.5 191.8L93.2 192.1L95.0 192.7L96.5 193.5L97.8 194.6L98.9 196.0L99.7 197.5L100.1 199.2L100.2 200.8L99.8 202.2L99.2 203.5L98.2 204.8L96.8 205.9L95.2 206.7L91.8 207.5Z" fill="rgba(0,0,0,0.08)" stroke="#1a1a1a" stroke-width="0.7"/>
<path d="M141.5 160.1L140.0 160.0L138.9 159.0L138.1 157.0L138.0 154.8L138.6 153.0L139.7 151.5L141.2 150.7L142.8 150.6L144.0 151.1L145.0 152.2L145.5 153.7L145.5 155.2L145.1 156.8L144.2 158.2L143.0 159.4L141.5 160.1ZM93.0 206.5L90.0 206.7L87.0 205.9L84.8 204.4L83.3 202.2L82.9 201.0L82.9 199.8L83.6 197.2L85.3 195.0L87.8 193.5L89.2 193.0L91.0 192.8L92.8 193.0L94.2 193.5L95.7 194.2L96.9 195.2L98.0 196.5L98.6 197.8L99.0 199.2L99.1 200.8L98.8 202.0L98.2 203.2L97.2 204.4L96.0 205.3L93.0 206.5Z" fill="rgba(0,0,0,0.08)" stroke="#1a1a1a" stroke-width="0.7"/>
<path d="M142.0 157.5L141.2 157.6L140.5 157.2L140.0 156.5L139.8 155.5L140.3 153.8L141.0 153.1L141.8 152.9L143.0 153.5L143.7 155.0L143.2 156.6L142.0 157.5ZM92.8 205.5L90.2 205.7L87.8 205.1L85.7 203.8L84.5 202.0L84.2 200.0L84.8 197.8L86.2 195.8L88.2 194.6L91.0 194.0L93.8 194.6L96.0 196.1L97.4 198.2L97.8 200.8L97.1 202.8L95.3 204.5L92.8 205.5Z" fill="rgba(255,255,255,0.35)" stroke="#1a1a1a" stroke-width="0.7"/>
<path d="M92.2 204.3L90.2 204.3L88.5 203.9L87.0 202.9L86.1 201.5L85.9 200.0L86.4 198.2L87.5 196.9L89.0 196.0L91.0 195.6L93.0 196.0L94.8 197.2L95.8 198.8L96.1 200.8L95.5 202.2L94.2 203.5L92.2 204.3Z" fill="rgba(255,255,255,0.35)" stroke="#1a1a1a" stroke-width="0.7"/>
<rect x="61" y="190" width="6" height="24" rx="2.5" fill="#111"/>
</g>
<clipPath id="a22"><rect x="166.5" y="120" width="104.10000000000002" height="100.30000000000001"/></clipPath>
<g clip-path="url(#a22)">
<path transform="scale(.25)" d="M762 550h3m91 1h3m168 4h3m-280 19h3m-38 2h3m36 2h3m98 0h3m27 2h3m-178 9h3m71 -3h3m253 5h3m-318 3h3m101 -2h3m-70 13h3m131 0h3m18 -5h3m24 7h3m10 -1h3m18 0h3m-244 6h3m191 2h3m65 -1h3m21 -5h3m-357 21h3m122 1h3m7 0h3m27 -4h3m110 3h3m22 1h3m-292 2h3m119 6h3m44 -1h3m-138 8h3m59 -5h3m39 6h3m21 0h3m6 -2h3m26 -4h3m73 2h3m-172 13h3m37 -7h3m116 3h3m64 -1h3m-341 13h3m77 -7h3m45 5h3m20 -1h3m27 -1h3m98 -1h3m-221 8h3m266 1h3m3 2h3m2 -2h3m2 -1h3m-331 13h3m90 -3h3m2 -2h3m5 3h3m32 -5h3m30 0h3m31 5h3m40 -3h3m-259 8h3m20 4h3m-1 -3h3m21 1h3m0 0h3m63 0h3m27 1h3m24 0h3m148 2h3m-321 3h3m5 4h3m1 -6h3m18 1h3m30 2h3m-1 0h3m33 3h3m25 -2h3m-1 2h3m0 -4h3m17 -2h3m33 4h3m16 2h3m13 -3h3m74 2h3m-275 10h3m1 -6h3m20 -1h3m6 5h3m6 -3h3m8 1h3m1 4h3m7 -3h3m-1 -2h3m-2 1h3m60 4h3m1 -5h3m-1 2h3m49 -2h3m-2 4h3m12 -3h3m83 1h3m-344 5h3m21 2h3m7 3h3m7 -4h3m5 2h3m17 2h3m4 -2h3m3 -3h3m63 5h3m7 0h3m4 -6h3m20 4h3m-2 0h3m43 2h3m28 -6h3m-290 11h3m35 -1h3m31 -1h3m-1 6h3m32 -1h3m0 -5h3m-3 4h3m2 2h3m1 -3h3m16 1h3m-1 -4h3m10 4h3m-2 -5h3m-2 2h3m-2 0h3m10 -2h3m2 4h3m8 -1h3m4 3h3m-2 -1h3m2 -1h3m13 1h3m9 -5h3m16 4h3m-230 8h3m-3 -1h3m4 2h3m5 0h3m5 -4h3m30 0h3m2 2h3m17 3h3m7 -3h3m7 1h3m28 3h3m10 0h3m7 -6h3m4 0h3m11 5h3m12 -5h3m29 2h3m-2 -2h3m24 3h3m12 2h3m20 -3h3m14 3h3m-294 8h3m7 -4h3m4 4h3m4 -6h3m6 3h3m0 3h3m4 -6h3m8 5h3m3 -3h3m2 -1h3m-2 6h3m5 -6h3m19 4h3m-2 -1h3m7 0h3m0 -1h3m35 1h3m1 -1h3m3 1h3m-1 -3h3m0 4h3m-200 8h3m14 -5h3m13 5h3m-1 -3h3m15 0h3m18 5h3m4 -3h3m-1 -4h3m6 3h3m11 4h3m-3 -1h3m13 -6h3m0 6h3m7 -3h3m-1 -3h3m13 7h3m1 -6h3m7 -1h3m22 0h3m14 3h3m0 3h3m47 -1h3m58 -3h3m71 1h3m-380 5h3m21 1h3m11 0h3m23 -1h3m11 0h3m15 3h3m22 2h3m-2 2h3m-2 -1h3m12 0h3m0 -5h3m14 3h3m2 -2h3m32 1h3m8 4h3m48 -6h3m1 -1h3m78 5h3m-373 3h3m129 3h3m26 -2h3m-1 6h3m20 -2h3m0 -1h3m4 -1h3m29 2h3m13 -3h3m88 0h3m-188 11h3m12 -1h3m-3 3h3m-3 -5h3m-2 -2h3m14 7h3m3 -4h3m13 -1h3m-2 1h3m-3 3h3m1 -6h3m9 4h3m2 3h3m10 -5h3m3 3h3m-2 -2h3m-3 4h3m0 0h3m7 -1h3m16 -3h3m-3 -1h3m2 0h3m1 -1h3m-3 3h3m1 0h3m11 -2h3m11 5h3m-2 -3h3m12 2h3m-3 -1h3m38 0h3m-215 10h3m2 -1h3m-1 -4h3m4 -1h3m2 4h3m-1 0h3m5 -5h3m9 3h3m-3 4h3m-2 -4h3m-2 4h3m-1 -7h3m8 2h3m-3 4h3m-2 -2h3m1 -4h3m-3 4h3m-2 2h3m5 -2h3m18 3h3m2 -1h3m-1 -2h3m-1 -2h3m-2 1h3m0 3h3m2 -1h3m-1 -5h3m5 4h3m0 -3h3m-1 5h3m0 -2h3m6 -1h3m11 1h3m0 2h3m7 -5h3m0 6h3m0 -7h3m55 6h3m-203 2h3m6 0h3m5 4h3m21 -3h3m0 3h3m5 -2h3m31 0h3m2 4h3m6 -3h3m0 2h3m14 -2h3m1 -3h3m0 7h3m6 -2h3m3 -5h3m13 3h3m45 2h3m-126 9h3m16 1h3m5 0h3m-1 0h3m6 -2h3m0 -2h3m1 0h3m14 -1h3m-53 13h3m1 -6h3m0 -1h3m3 3h3m4 1h3m-1 0h3m1 3h3m-1 -2h3m10 -3h3m1 5h3m0 -6h3m-55 13h3m3 -1h3m3 -5h3m3 5h3m1 2h3m16 -6h3m7 4h3m53 -4h3m19 1h3m-133 7h3m5 3h3m11 -2h3m3 1h3m0 3h3m-48 9h3m18 -6h3m-2 2h3m1 3h3m-3 -2h3m3 1h3m4 2h3m-1 -6h3m3 -1h3m14 5h3m-2 -3h3m-140 12h3m15 0h3m4 -2h3m1 3h3m0 0h3m2 -3h3m18 3h3m2 -5h3m10 5h3m3 -7h3m8 6h3m13 -2h3m1 -4h3m-1 2h3m11 0h3m0 3h3m3 0h3m65 -4h3m-205 11h3m2 -2h3m3 0h3m3 -1h3m-2 3h3m-2 3h3m5 -6h3m-2 5h3m12 -3h3m6 -1h3m3 -1h3m0 2h3m6 1h3m3 0h3m8 -2h3m10 -1h3m10 1h3m10 -2h3m-1 5h3m2 2h3m-2 -1h3m0 -5h3m-1 0h3m-161 13h3m11 1h3m22 -7h3m5 2h3m1 0h3m6 5h3m0 -5h3m-1 4h3m3 1h3m0 -2h3m3 -5h3m17 6h3m-3 -3h3m6 -2h3m-1 6h3m3 -6h3m-1 -1h3m-2 7h3m2 -4h3m6 4h3m2 0h3m5 -4h3m-1 2h3m-178 4h3m15 1h3m33 2h3m6 -4h3m-2 3h3m-2 4h3m3 0h3m11 -3h3m9 -2h3m-3 -1h3m-1 5h3m5 1h3m-1 -2h3m6 2h3m35 -1h3m14 0h3m-2 -5h3m1 0h3m0 6h3m-152 3h3m11 3h3m-3 -1h3m5 0h3m0 1h3m-2 -2h3m6 -2h3m-2 4h3m-2 -2h3m3 0h3m2 -1h3m-2 4h3m7 1h3m0 -5h3m-1 2h3m-2 -1h3m5 2h3m0 -4h3m10 1h3m-1 4h3m0 -6h3m-1 0h3m6 4h3m2 2h3m1 -3h3m1 -3h3m-1 1h3m4 4h3m-2 -1h3m0 2h3m1 0h3m4 -2h3m3 0h3m-1 -1h3m-186 7h3m10 5h3m68 -7h3m4 0h3m10 0h3m12 1h3m47 -1h3m73 5h3m-216 10h3m17 -2h3" stroke="#888" stroke-width="3" fill="none"/>
<path d="M190.5 218.3L186.8 218.4L183.2 218.1L179.5 217.2L176.2 215.9L173.5 214.3L171.0 212.2L169.2 210.0L167.9 207.5L167.3 204.8L167.5 201.8L168.2 198.8L169.6 195.8L171.4 193.2L173.8 190.9L176.2 189.1L179.5 187.5L183.0 186.5L186.5 186.0L190.2 186.0L194.2 186.5L197.2 187.4L200.2 188.6L207.5 193.1L210.2 194.3L214.2 195.0L225.2 194.9L230.0 195.3L232.8 196.1L235.0 197.1L236.5 198.2L237.6 199.8L237.8 201.5L237.1 203.0L235.5 204.5L233.2 205.7L230.8 206.4L227.8 206.9L216.2 207.2L212.5 207.7L210.0 208.9L204.5 213.3L200.5 215.6L195.8 217.4L190.5 218.3Z" fill="#fff" stroke="#1a1a1a" stroke-width="0.7"/>
<path d="M190.5 217.5L187.0 217.7L183.5 217.4L180.0 216.6L177.0 215.4L174.2 213.8L172.1 212.0L170.4 210.0L169.1 207.5L168.6 205.0L168.6 202.2L169.3 199.2L170.6 196.5L172.3 194.0L174.5 191.8L177.0 190.0L179.8 188.6L182.8 187.6L186.0 187.1L189.5 187.1L193.0 187.6L196.5 188.6L199.8 190.1L202.5 191.9L207.2 195.6L209.8 196.9L213.0 197.3L222.5 196.5L227.8 196.6L230.0 197.1L232.0 197.8L233.5 198.8L234.4 200.0L234.6 201.5L233.6 203.0L232.0 204.1L229.5 205.0L227.2 205.4L224.5 205.5L214.0 205.1L211.0 205.6L209.0 206.9L204.1 212.0L200.8 214.4L196.0 216.4L190.5 217.5Z" fill="none" stroke="#1a1a1a" stroke-width="0.7"/>
<path d="M189.5 216.5L186.0 216.6L182.8 216.2L179.8 215.4L177.0 214.1L174.8 212.7L172.7 210.8L171.4 208.8L170.4 206.2L170.2 203.8L170.6 200.8L171.6 198.0L173.2 195.5L175.2 193.2L177.8 191.3L180.2 190.1L183.2 189.1L186.8 188.7L190.2 188.8L193.8 189.6L197.0 190.9L200.2 192.9L203.0 195.5L205.3 198.5L206.5 201.2L206.6 203.5L205.9 206.2L204.4 209.0L202.2 211.5L199.5 213.4L196.5 214.9L193.2 215.9L189.5 216.5Z" fill="none" stroke="#1a1a1a" stroke-width="0.7"/>
<path d="M190.2 216.0L187.0 216.2L183.8 215.9L181.0 215.3L178.2 214.3L175.8 212.8L173.8 211.1L172.1 209.0L171.2 207.0L170.8 204.8L170.9 202.2L171.7 199.5L172.9 197.0L174.5 194.8L176.5 192.9L179.0 191.3L181.8 190.1L185.0 189.4L188.5 189.2L192.2 189.8L195.5 190.9L198.8 192.7L201.5 195.0L203.7 197.8L205.1 200.5L205.5 203.0L205.2 205.5L204.2 208.0L202.3 210.5L199.8 212.7L197.0 214.2L193.8 215.4L190.2 216.0Z" fill="none" stroke="#1a1a1a" stroke-width="0.7"/>
<path d="M188.2 215.8L185.2 215.7L182.2 215.2L179.5 214.3L177.0 213.1L174.8 211.4L173.1 209.5L172.0 207.5L171.5 205.2L171.5 202.5L172.2 199.8L173.4 197.2L175.1 195.0L177.2 193.1L179.8 191.5L182.5 190.5L185.5 189.9L188.8 189.8L192.0 190.3L195.0 191.3L197.8 192.8L200.2 194.8L202.4 197.2L203.9 200.0L204.5 202.5L204.4 205.0L203.6 207.5L202.1 209.8L200.2 211.6L197.8 213.3L194.8 214.6L191.5 215.4L188.2 215.8Z" fill="none" stroke="#1a1a1a" stroke-width="0.7"/>
<path d="M189.2 215.3L186.2 215.3L183.5 215.0L180.8 214.3L178.2 213.2L176.0 211.8L174.4 210.2L173.1 208.5L172.2 206.2L172.0 204.0L172.3 201.5L173.2 199.0L174.5 196.8L176.2 194.8L178.2 193.1L180.5 191.8L183.2 190.9L186.5 190.4L189.8 190.5L192.8 191.2L195.8 192.4L198.5 194.2L200.6 196.2L202.4 198.8L203.3 201.2L203.7 203.8L203.4 206.0L202.4 208.2L200.6 210.5L198.5 212.2L195.8 213.7L192.8 214.7L189.2 215.3Z" fill="none" stroke="#1a1a1a" stroke-width="0.7"/>
<path d="M189.8 214.8L187.0 214.9L184.2 214.7L181.8 214.2L179.2 213.2L177.1 212.0L175.4 210.5L174.0 208.8L173.0 206.8L172.7 204.8L172.8 202.2L173.4 200.0L174.5 197.8L176.1 195.8L178.0 194.0L180.2 192.6L182.5 191.7L185.5 191.1L188.5 191.0L191.8 191.5L194.5 192.5L197.2 194.1L199.4 196.0L201.2 198.2L202.3 200.8L202.8 203.2L202.7 205.5L201.9 207.8L200.5 209.8L198.5 211.5L195.8 213.1L193.0 214.1L189.8 214.8Z" fill="rgba(0,0,0,0.08)" stroke="#1a1a1a" stroke-width="0.7"/>
<path d="M189.8 214.3L187.0 214.4L184.5 214.3L182.0 213.7L179.8 212.9L177.7 211.8L175.9 210.2L174.5 208.5L173.7 206.8L173.3 204.8L173.5 202.5L174.0 200.2L175.2 198.0L176.5 196.2L178.2 194.6L180.2 193.3L182.5 192.3L185.2 191.7L188.2 191.6L191.2 192.1L194.2 193.1L196.8 194.6L198.9 196.5L200.6 198.8L201.6 201.0L202.0 203.2L201.9 205.5L201.2 207.5L199.9 209.5L197.9 211.2L195.5 212.7L192.8 213.7L189.8 214.3Z" fill="rgba(0,0,0,0.08)" stroke="#1a1a1a" stroke-width="0.7"/>
<path d="M189.8 213.8L187.2 213.9L184.8 213.8L182.2 213.3L180.0 212.4L178.0 211.3L176.5 210.0L175.3 208.5L174.4 206.8L174.0 205.0L174.1 202.8L174.6 200.8L175.5 198.8L176.7 197.0L178.2 195.4L180.2 194.0L182.2 193.1L185.0 192.4L187.8 192.3L190.5 192.6L193.2 193.4L195.8 194.8L197.9 196.5L199.5 198.5L200.6 200.8L201.2 203.0L201.1 205.2L200.5 207.2L199.4 209.0L197.6 210.8L195.2 212.2L192.8 213.1L189.8 213.8Z" fill="rgba(0,0,0,0.08)" stroke="#1a1a1a" stroke-width="0.7"/>
<path d="M189.5 213.3L187.0 213.4L184.8 213.3L182.5 212.8L180.5 212.0L178.5 210.9L177.0 209.6L175.9 208.2L175.1 206.5L174.7 204.8L174.9 202.8L175.4 200.8L176.3 198.8L177.5 197.2L179.0 195.7L180.8 194.6L182.8 193.7L185.2 193.1L187.8 192.9L190.5 193.3L193.0 194.1L195.2 195.3L197.2 197.0L198.8 199.0L199.8 201.0L200.3 203.2L200.3 205.2L199.8 207.0L198.7 208.8L197.0 210.4L194.8 211.7L192.2 212.7L189.5 213.3Z" fill="rgba(0,0,0,0.08)" stroke="#1a1a1a" stroke-width="0.7"/>
<path d="M188.8 212.8L184.5 212.6L182.5 212.2L180.5 211.3L178.8 210.3L177.4 209.0L176.3 207.5L175.7 206.0L175.5 204.2L175.8 202.2L176.4 200.2L177.4 198.5L178.7 197.0L180.2 195.8L182.0 194.8L184.0 194.1L186.2 193.7L188.8 193.8L191.2 194.3L193.5 195.2L195.5 196.5L197.1 198.0L198.4 200.0L199.2 202.0L199.5 204.0L199.3 205.8L198.6 207.5L197.4 209.0L195.8 210.4L193.8 211.5L191.2 212.3L188.8 212.8Z" fill="rgba(0,0,0,0.08)" stroke="#1a1a1a" stroke-width="0.7"/>
<path d="M189.5 212.0L185.5 212.1L181.8 211.2L178.8 209.3L177.6 208.0L176.9 206.8L176.4 205.2L176.4 203.8L176.7 202.0L177.4 200.2L178.3 198.8L179.5 197.4L181.0 196.2L182.8 195.3L184.8 194.7L187.0 194.5L189.5 194.7L191.8 195.3L193.8 196.3L195.5 197.7L196.9 199.2L197.9 201.0L198.4 202.8L198.5 204.8L198.1 206.5L197.2 208.0L195.8 209.5L194.0 210.6L191.8 211.5L189.5 212.0Z" fill="rgba(0,0,0,0.08)" stroke="#1a1a1a" stroke-width="0.7"/>
<path d="M187.8 211.5L184.0 211.2L180.8 209.8L178.5 207.8L177.8 206.5L177.4 205.0L177.4 203.5L177.8 201.8L178.4 200.2L179.5 198.7L180.8 197.5L182.2 196.6L184.0 195.8L185.8 195.5L187.8 195.4L189.8 195.7L191.8 196.3L193.5 197.3L195.0 198.5L196.2 200.0L197.0 201.8L197.4 203.5L197.4 205.0L197.0 206.5L196.2 207.8L195.0 209.0L193.5 210.0L191.8 210.7L187.8 211.5Z" fill="rgba(0,0,0,0.08)" stroke="#1a1a1a" stroke-width="0.7"/>
<path d="M189.2 210.5L186.0 210.7L183.0 210.0L180.5 208.5L178.9 206.5L178.5 205.2L178.5 204.0L179.2 201.2L180.8 199.0L183.2 197.2L185.0 196.7L186.8 196.4L188.8 196.6L190.5 197.0L192.2 197.8L193.6 198.8L194.8 200.0L195.6 201.5L196.1 203.0L196.3 204.8L196.0 206.0L195.3 207.2L194.2 208.3L192.8 209.4L191.0 210.1L189.2 210.5Z" fill="rgba(0,0,0,0.08)" stroke="#1a1a1a" stroke-width="0.7"/>
<path d="M189.2 209.5L186.5 209.7L183.8 209.1L181.7 208.0L180.2 206.2L179.8 204.2L180.3 202.0L181.6 200.0L183.5 198.5L185.0 198.0L186.5 197.7L189.5 198.0L192.2 199.4L194.1 201.5L194.6 202.8L194.8 204.2L194.6 205.5L194.2 206.5L193.4 207.5L192.2 208.4L189.2 209.5Z" fill="rgba(0,0,0,0.08)" stroke="#1a1a1a" stroke-width="0.7"/>
<path d="M188.5 208.3L186.5 208.4L184.5 207.9L182.9 207.0L181.9 205.8L181.6 204.2L182.0 202.5L183.1 201.0L184.5 200.0L186.8 199.4L189.0 199.7L191.0 200.8L192.4 202.5L192.9 204.5L192.4 206.0L190.8 207.5L188.5 208.3Z" fill="rgba(255,255,255,0.35)" stroke="#1a1a1a" stroke-width="0.7"/>
<rect x="165.5" y="188" width="5" height="26" rx="2" fill="#333"/>
</g>
<clipPath id="a31"><rect x="62" y="220.3" width="104.5" height="98.89999999999998"/></clipPath>
<g clip-path="url(#a31)">
<rect x="62" y="250" width="2.5" height="68" fill="#444" stroke="none" stroke-width="1"/>
<path transform="scale(.25)" d="M290 1012h4m135 0h4m-140 11h4m7 -5h4m61 0h4m-53 6h4m31 3h4m17 4h4m55 -7h4m-181 10h4m3 1h4m1 4h4m30 -3h4m31 2h4m2 -1h4m14 -1h4m10 -4h4m3 5h4m36 2h4m1 -5h4m-167 7h4m-2 6h4m26 -6h4m-2 3h4m1 1h4m9 -2h4m7 4h4m16 -7h4m5 7h4m15 -4h4m1 1h4m2 2h4m4 -1h4m-2 -3h4m9 -1h4m-2 3h4m6 2h4m9 -5h4m-1 2h4m3 -2h4m-3 2h4m3 0h4m-4 4h4m1 -1h4m-182 3h4m13 1h4m0 5h4m10 -2h4m12 0h4m14 -1h4m4 -2h4m7 2h4m21 3h4m41 -1h4m6 1h4m-3 -1h4m-1 -5h4m-4 3h4m3 -3h4m26 5h4m43 -3h4m-271 11h4m7 -4h4m15 -2h4m-4 7h4m1 -3h4m6 0h4m13 -1h4m6 2h4m-1 -1h4m-2 -1h4m5 4h4m-3 -1h4m-1 0h4m11 -5h4m9 5h4m-1 -6h4m-2 6h4m-3 1h4m5 -2h4m-1 -4h4m12 6h4m2 -4h4m-2 2h4m-3 2h4m6 -7h4m-3 2h4m6 0h4m2 3h4m30 2h4m29 -5h4m-258 11h4m7 -2h4m7 4h4m1 -3h4m-3 1h4m1 0h4m3 -4h4m1 4h4m-3 1h4m-4 -1h4m2 -1h4m-1 3h4m5 -4h4m-1 -2h4m-3 5h4m6 -2h4m0 2h4m19 -1h4m-1 2h4m-1 -1h4m-3 -2h4m-3 1h4m4 -1h4m-3 0h4m0 1h4m3 0h4m-1 -2h4m6 3h4m-2 1h4m4 -1h4m-3 -3h4m18 2h4m12 -5h4m-1 7h4m18 -7h4m20 5h4m-263 5h4m-4 4h4m0 1h4m0 -7h4m1 2h4m1 -1h4m0 4h4m-3 -2h4m-4 3h4m4 0h4m2 -3h4m3 3h4m-1 -2h4m-2 0h4m2 3h4m-2 -3h4m-3 -3h4m-4 4h4m-1 -5h4m1 5h4m-1 -1h4m-1 0h4m10 -2h4m0 3h4m0 -4h4m-4 4h4m2 1h4m0 0h4m-1 -6h4m-2 0h4m-4 7h4m0 -4h4m-1 -1h4m-3 5h4m6 -6h4m-1 0h4m-1 0h4m-3 2h4m-3 -3h4m-3 0h4m-4 4h4m-1 3h4m1 -1h4m-2 -2h4m-1 0h4m0 -4h4m2 1h4m8 -1h4m-2 6h4m-3 -2h4m1 0h4m-3 -4h4m-3 6h4m2 1h4m1 -6h4m-2 2h4m-1 4h4m0 0h4m-3 -6h4m-1 4h4m-3 1h4m-3 -6h4m-3 6h4m1 -1h4m4 -2h4m-2 3h4m12 1h4m1 -5h4m-2 5h4m18 -3h4m9 2h4m-280 6h4m2 3h4m-4 -5h4m-2 0h4m-2 1h4m7 0h4m4 3h4m1 -2h4m0 0h4m0 -1h4m-2 -2h4m-3 -1h4m-1 0h4m2 2h4m-1 -1h4m0 6h4m-2 -4h4m-4 -2h4m1 3h4m-2 3h4m-3 -5h4m-2 -1h4m-2 -1h4m7 2h4m4 -1h4m12 -1h4m7 5h4m-2 -2h4m-4 2h4m-1 -1h4m-2 1h4m-2 -2h4m-2 3h4m-3 0h4m-4 -5h4m2 3h4m-3 -4h4m-2 1h4m0 -1h4m13 7h4m12 -5h4m-1 0h4m-4 2h4m-1 -4h4m-2 7h4m-2 -7h4m-2 5h4m-4 -2h4m0 2h4m-3 -3h4m2 0h4m-2 3h4m-3 0h4m7 -2h4m-3 -3h4m10 1h4m-1 6h4m2 0h4m0 -4h4m6 -1h4m-4 3h4m7 -3h4m-2 -1h4m-2 1h4m4 3h4m-276 5h4m6 4h4m5 -4h4m2 2h4m3 1h4m-3 -3h4m-1 5h4m0 -6h4m-3 3h4m2 1h4m-4 -5h4m-3 0h4m-4 3h4m1 4h4m3 -4h4m-3 -3h4m1 1h4m68 6h4m-2 -6h4m3 2h4m-1 4h4m-4 -6h4m0 1h4m-1 -2h4m-4 3h4m-1 3h4m-4 -6h4m-3 0h4m-2 0h4m-1 3h4m0 1h4m-1 -3h4m-3 0h4m-3 2h4m2 -1h4m1 5h4m-4 -1h4m-3 1h4m-2 -1h4m1 1h4m-2 -4h4m-3 1h4m-4 -4h4m-2 5h4m10 0h4m-2 -3h4m0 1h4m0 4h4m9 -7h4m17 6h4m0 1h4m-3 -7h4m6 0h4m-3 0h4m-281 13h4m-3 -5h4m-3 5h4m-1 -3h4m-2 0h4m-3 4h4m-4 -1h4m-3 -2h4m-2 -3h4m-3 1h4m-2 4h4m1 2h4m-3 -2h4m1 -2h4m-3 3h4m4 -5h4m-1 0h4m-2 0h4m-4 -1h4m-3 0h4m-1 4h4m4 -1h4m-2 2h4m88 -1h4m-3 -3h4m1 5h4m-2 -4h4m-4 4h4m-2 -6h4m-3 7h4m-4 -2h4m3 2h4m0 0h4m-4 -2h4m-4 -1h4m0 0h4m-1 -1h4m-3 1h4m-3 1h4m-4 -1h4m-4 -1h4m1 1h4m-4 2h4m12 -2h4m-3 -2h4m3 5h4m-3 -7h4m0 4h4m0 -1h4m-1 2h4m0 2h4m-3 -5h4m20 5h4m7 -5h4m0 -2h4m-2 6h4m3 -5h4m0 1h4m-2 4h4m-285 2h4m-3 7h4m-2 -7h4m-2 2h4m-2 -1h4m-4 -1h4m-3 1h4m-3 4h4m-4 2h4m-1 -3h4m-3 3h4m1 -4h4m-4 2h4m-3 0h4m-3 1h4m-3 -3h4m-3 2h4m-4 -3h4m-1 -1h4m-4 4h4m-4 -1h4m-3 -2h4m-4 4h4m-3 -1h4m-2 2h4m-3 -1h4m-3 -6h4m-3 7h4m-4 -2h4m-4 -1h4m-2 -4h4m1 7h4m-3 -5h4m-1 4h4m-3 -3h4m2 2h4m102 -4h4m-2 1h4m-1 1h4m-4 3h4m-1 -2h4m3 2h4m-4 -2h4m-3 3h4m-3 -1h4m-4 -3h4m-2 0h4m-4 -1h4m-3 3h4m-4 -5h4m-1 6h4m1 -6h4m-2 6h4m-3 -2h4m1 -2h4m-2 1h4m-3 -1h4m-3 5h4m-3 -6h4m-3 -1h4m-2 0h4m-3 0h4m1 1h4m1 3h4m1 0h4m4 -2h4m5 1h4m-1 1h4m-2 1h4m2 -1h4m11 -3h4m6 0h4m-3 -1h4m-2 7h4m-2 0h4m-2 -4h4m-1 2h4m-4 -2h4m-3 2h4m-4 -1h4m-285 5h4m-4 4h4m0 2h4m0 -7h4m-3 1h4m-3 1h4m-1 3h4m-2 0h4m-1 1h4m-4 -2h4m-2 0h4m-2 -1h4m-3 -1h4m-3 -2h4m-1 6h4m-1 1h4m-1 -5h4m-3 1h4m-4 4h4m1 -2h4m-3 -5h4m-2 3h4m0 -1h4m-3 -1h4m126 5h4m-4 -2h4m-3 0h4m-3 2h4m-3 -4h4m-4 2h4m-3 -3h4m-2 -1h4m-1 4h4m-3 2h4m-3 -5h4m-2 1h4m-4 2h4m-3 -3h4m1 2h4m-4 -2h4m-4 -1h4m-1 0h4m-4 4h4m-3 0h4m-4 -1h4m-4 -2h4m-2 3h4m-4 3h4m-1 -1h4m-3 0h4m12 0h4m-2 -5h4m-3 1h4m-2 1h4m5 -3h4m-3 1h4m-3 6h4m-2 -5h4m-2 2h4m4 -1h4m2 2h4m3 1h4m-3 -3h4m-1 4h4m-4 -3h4m-1 2h4m-2 -5h4m-2 4h4m0 0h4m-282 5h4m-3 3h4m-4 -5h4m-2 0h4m-3 5h4m-1 -4h4m-3 3h4m-2 3h4m-4 -5h4m-4 3h4m-3 -2h4m-3 2h4m-1 -3h4m2 1h4m-1 0h4m-2 4h4m-2 -1h4m-2 -3h4m-4 3h4m-2 1h4m-3 -1h4m-4 -4h4m-1 3h4m-4 -1h4m137 -4h4m0 5h4m-4 -5h4m-2 4h4m-3 -2h4m-4 -1h4m-3 4h4m-3 2h4m-3 0h4m0 -1h4m-3 -4h4m-4 4h4m-4 -1h4m-3 -1h4m-3 -4h4m-2 6h4m-3 0h4m-1 -4h4m-2 4h4m-3 -2h4m-3 -1h4m-1 2h4m-3 -1h4m3 -3h4m-2 1h4m-1 1h4m-1 -2h4m0 2h4m0 1h4m0 -1h4m-1 2h4m-2 -1h4m-2 -4h4m0 3h4m3 0h4m-2 -3h4m-3 7h4m-3 -2h4m-2 -2h4m-4 -1h4m1 4h4m-3 -6h4m0 4h4m2 1h4m4 -4h4m-286 10h4m-4 3h4m-4 -6h4m-3 3h4m-1 -2h4m1 4h4m-3 -3h4m-4 2h4m1 1h4m-4 -1h4m-4 -1h4m-3 3h4m-4 -5h4m-3 0h4m-4 1h4m-3 -2h4m-4 3h4m1 1h4m-4 2h4m1 0h4m155 -5h4m1 -1h4m-3 6h4m0 1h4m-3 -1h4m-4 -4h4m-1 2h4m-2 -3h4m-3 5h4m-3 0h4m-4 -1h4m-3 -4h4m-4 2h4m-3 1h4m-4 1h4m-4 -5h4m-1 2h4m-1 -2h4m-3 5h4m-4 -5h4m-1 1h4m5 1h4m-3 2h4m1 -4h4m1 1h4m11 0h4m-2 5h4m-1 -6h4m-2 1h4m-3 -1h4m-4 6h4m-3 -5h4m-2 4h4m-1 -5h4m0 1h4m-282 7h4m4 3h4m-4 2h4m-2 -2h4m-3 0h4m-3 -2h4m-2 5h4m-2 -6h4m-3 2h4m-4 2h4m-3 -3h4m-4 3h4m-3 1h4m-3 -2h4m-3 1h4m-4 2h4m-3 -1h4m-2 -5h4m-3 5h4m-4 -2h4m-3 2h4m-1 -3h4m-4 3h4m-3 -4h4m0 -1h4m168 1h4m-3 0h4m-3 0h4m-1 0h4m-2 4h4m-4 -1h4m-4 -3h4m-2 2h4m-3 1h4m-3 -4h4m-2 1h4m-3 -1h4m-3 5h4m-4 -1h4m-3 -4h4m-1 6h4m-4 -3h4m-2 -1h4m0 1h4m0 3h4m-4 -4h4m-3 1h4m-4 4h4m-4 -2h4m-1 -2h4m-4 4h4m-2 0h4m-4 -3h4m-3 0h4m-4 -2h4m-4 3h4m-1 -5h4m0 1h4m-2 -1h4m0 6h4m-1 0h4m-3 0h4m-4 -5h4m-1 -1h4m1 1h4m-2 3h4m-2 3h4m-3 -2h4m-3 -1h4m-3 1h4m-3 -2h4m-4 4h4m-3 0h4m-3 -1h4m-2 -1h4m-2 0h4m-4 2h4m-4 -1h4m-2 -2h4m-4 -1h4m-2 3h4m-4 -2h4m-3 -1h4m9 1h4m1 -2h4m-4 3h4m4 -3h4m-3 0h4m3 5h4m3 0h4m0 -2h4m-2 2h4m0 -3h4m-3 1h4m-334 4h4m-4 1h4m-2 -2h4m0 7h4m-1 -1h4m-4 -6h4m-3 5h4m-3 -3h4m-2 2h4m205 -2h4m-3 0h4m1 -1h4m-2 2h4m-3 -2h4m-2 1h4m-4 -1h4m-4 -1h4m2 3h4m5 2h4m-4 2h4m-3 -1h4m-3 -6h4m-2 3h4m0 2h4m4 -2h4m0 4h4m-3 -7h4m-3 2h4m3 0h4m-4 4h4m-3 -3h4m-2 1h4m-3 2h4m9 0h4m-3 -6h4m6 2h4m1 2h4m0 -4h4m6 7h4m0 -6h4m-339 7h4m0 1h4m-2 4h4m-3 0h4m-3 0h4m-3 -4h4m-2 1h4m-3 1h4m-4 1h4m-2 -3h4m-3 3h4m234 -4h4m0 0h4m-2 2h4m-1 1h4m-3 0h4m-4 -3h4m-3 2h4m-3 -1h4m-3 1h4m1 3h4m0 -1h4m-4 -1h4m-3 2h4m-4 -2h4m1 4h4m-2 0h4m-2 -6h4m-2 5h4m-2 -1h4m-4 -2h4m2 -2h4m-1 -1h4m-3 0h4m-3 2h4m-1 3h4m-2 -3h4m-2 -1h4m-4 3h4m0 1h4m-2 2h4m-3 -1h4m2 -3h4m1 -3h4m1 6h4m-334 7h4m3 -4h4m-3 -1h4m-3 3h4m-4 -1h4m-4 -2h4m260 1h4m-3 -1h4m-2 0h4m-3 4h4m-1 2h4m-3 -5h4m-3 2h4m-2 -3h4m-1 0h4m-3 5h4m-3 -3h4m-4 -1h4m-3 6h4m-2 -2h4m-3 -1h4m-1 2h4m0 1h4m0 0h4m4 0h4m-3 -3h4m-1 -2h4m-1 -2h4m0 0h4m10 2h4m-342 11h4m-3 -2h4m-1 0h4m278 -3h4m-2 2h4m-3 3h4m-3 -3h4m-4 4h4m4 -2h4m4 -1h4m-2 -1h4m-1 1h4m8 -2h4m-1 1h4m-4 3h4m-3 -3h4m-35 11h4m-3 -5h4m-2 5h4m-3 -5h4m0 2h4m3 5h4m3 -4h4m-1 2h4m1 1h4m-3 -6h4m0 5h4m2 0h4m-2 1h4m-38 6h4m3 2h4m2 -3h4m0 3h4m5 -3h4m-3 -3h4m0 5h4m-4 -4h4m12 1h4m-56 8h4m-3 3h4m-3 1h4m2 -1h4m4 -3h4m-2 3h4m0 -3h4m-1 -2h4m-2 6h4m-1 0h4m-2 0h4m-1 1h4m-41 6h4m0 -3h4m-1 5h4m0 -5h4m18 -1h4m-2 3h4m-40 10h4m4 -2h4m1 -1h4m-1 -1h4m-2 -2h4m0 1h4m-2 1h4m-2 1h4m-1 2h4m-4 -5h4m-4 2h4m-3 5h4m0 -1h4m-1 -1h4m10 2h4m51 -1h4m-111 8h4m1 -4h4m-3 -2h4m-3 1h4m-3 0h4m-2 1h4m-3 3h4m9 -3h4m3 4h4m2 -4h4m-3 5h4m-47 7h4m-3 0h4m0 0h4m-2 -1h4m-3 2h4m-2 -3h4m-3 -1h4m-2 -1h4m-4 -1h4m11 6h4m-3 -3h4m-3 1h4m-2 -3h4m-41 9h4m-3 0h4m-1 1h4m-2 -3h4m-4 3h4m-2 1h4m-4 -3h4m4 -1h4m0 1h4m-1 5h4m-2 -3h4m3 1h4m-3 -4h4m-3 6h4m0 -3h4m-2 2h4m-1 0h4m-3 1h4m-2 -4h4m-57 12h4m-1 -7h4m2 3h4m-1 -2h4m0 6h4m-3 -1h4m-4 -6h4m-2 6h4m6 1h4m1 -6h4m-3 0h4m4 4h4m-1 -2h4m-2 3h4m-1 -2h4m-4 -4h4m-3 1h4m-2 4h4m-2 -4h4m-60 12h4m2 -5h4m-2 6h4m1 -2h4m15 1h4m17 -5h4m-1 0h4m-36 15h4m-302 8h4m273 -5h4m-274 8h4" stroke="#666" stroke-width="4" fill="none"/>
<path d="M121.8 319.1L74.0 319.2L67.6 319.1L65.8 318.4L63.5 317.3L62.0 316.2L62.0 295.0L64.1 291.3L67.0 287.6L78.0 276.0L81.5 272.9L85.0 271.0L88.5 270.1L92.2 270.2L95.8 271.2L99.8 273.4L108.7 280.6L114.2 284.3L117.2 285.6L126.0 287.9L130.5 290.0L133.5 292.3L135.7 295.3L136.7 298.1L136.9 300.8L136.3 303.8L135.0 306.8L132.0 311.1L130.2 314.3L129.2 315.6L126.1 317.6L121.8 319.1Z" fill="#fff" stroke="#1a1a1a" stroke-width="0.7"/>
<path d="M118.2 319.1L94.2 319.2L71.2 319.1L67.2 317.7L64.7 316.1L63.9 315.1L63.6 314.1L64.8 309.6L63.3 304.3L63.1 301.1L63.6 297.8L64.8 294.6L66.9 290.8L70.0 287.1L79.0 277.8L82.8 274.7L86.0 273.0L89.2 272.3L92.5 272.5L96.0 273.7L99.2 275.6L109.2 283.1L113.8 286.1L116.5 287.1L125.0 289.1L129.2 291.0L132.3 293.3L134.3 296.1L135.1 298.8L135.1 301.6L134.3 304.3L132.8 307.1L129.5 311.1L127.4 314.6L126.1 315.8L123.0 317.6L118.2 319.1Z" fill="none" stroke="#1a1a1a" stroke-width="0.7"/>
<path d="M114.5 319.1L93.8 319.2L74.3 319.1L71.2 318.1L68.8 317.1L67.0 315.8L66.2 314.6L66.2 313.3L67.1 310.8L67.1 309.6L65.6 304.8L65.2 302.3L65.2 300.1L65.6 297.8L66.3 295.6L67.4 293.3L69.3 290.3L72.0 287.1L81.2 278.3L83.5 276.6L85.8 275.4L88.0 274.7L90.0 274.5L93.5 275.0L97.0 276.4L111.7 286.6L114.0 287.9L116.2 288.7L123.8 290.1L127.8 291.7L129.5 292.8L131.0 294.1L132.2 295.6L133.1 297.3L133.5 299.1L133.5 300.8L133.1 302.8L132.4 304.6L130.8 307.1L126.6 311.3L124.9 314.3L123.7 315.6L122.2 316.6L120.2 317.5L114.5 319.1Z" fill="none" stroke="#1a1a1a" stroke-width="0.7"/>
<path d="M108.5 319.1L79.8 319.1L74.5 317.7L71.2 316.1L70.5 315.3L70.0 314.3L70.4 310.1L68.2 304.3L67.8 300.8L68.1 298.1L68.9 295.6L70.2 293.1L72.0 290.3L76.8 285.4L83.0 280.5L85.2 279.2L87.2 278.4L89.2 278.0L91.2 278.0L95.0 278.9L99.5 281.0L105.2 284.5L111.8 289.3L113.8 290.4L115.8 291.1L120.2 291.6L123.0 292.2L125.5 293.2L127.8 294.5L129.8 296.8L130.6 299.3L130.3 302.3L128.9 305.1L126.5 307.3L121.6 310.6L120.9 311.6L120.3 314.3L118.9 315.8L117.0 316.8L114.8 317.6L108.5 319.1Z" fill="none" stroke="#1a1a1a" stroke-width="0.7"/>
<path d="M100.5 319.1L87.5 319.1L82.8 318.4L79.2 317.6L76.5 316.7L74.6 315.6L73.7 314.3L73.4 310.3L71.0 305.6L70.2 302.8L70.2 299.6L70.9 296.3L73.0 292.3L76.5 288.3L81.0 284.6L85.5 282.2L88.2 281.3L91.0 281.1L94.0 281.4L97.2 282.5L101.0 284.2L104.8 286.4L113.5 293.2L115.5 294.0L120.2 294.3L122.8 295.1L125.3 296.6L126.2 297.6L126.8 298.6L127.0 300.1L126.7 301.8L125.9 303.3L124.5 304.7L122.8 305.8L120.8 306.5L115.4 307.6L114.2 308.2L113.5 308.9L113.1 309.8L113.2 310.6L114.8 312.8L115.2 313.8L115.0 314.8L114.3 315.6L112.2 316.7L109.0 317.7L105.0 318.5L100.5 319.1Z" fill="none" stroke="#1a1a1a" stroke-width="0.7"/>
<path d="M95.0 318.3L90.0 318.2L85.2 317.6L81.5 316.8L78.8 315.6L77.3 314.1L76.3 310.6L73.3 305.8L72.4 303.1L72.2 300.3L72.7 297.3L73.9 294.6L75.8 291.8L78.5 289.0L81.8 286.5L85.0 284.8L88.2 283.8L91.5 283.5L95.0 284.0L98.8 285.2L102.5 287.1L105.4 289.1L108.0 291.3L115.5 299.6L116.0 300.3L115.5 301.3L110.5 307.5L109.4 309.3L109.2 311.1L110.4 314.1L109.7 315.3L107.5 316.5L104.2 317.4L100.0 318.0L95.0 318.3Z" fill="rgba(0,0,0,0.1)" stroke="#1a1a1a" stroke-width="0.7"/>
<path d="M96.5 317.1L92.2 317.1L88.2 316.8L84.9 316.1L82.5 315.1L81.0 313.7L79.4 310.8L75.8 306.3L74.6 303.8L74.1 301.3L74.4 298.8L75.1 296.3L76.5 293.8L78.5 291.4L81.0 289.3L83.8 287.6L86.5 286.4L89.8 285.7L93.2 285.7L96.8 286.4L100.2 287.8L103.5 289.8L106.4 292.3L108.8 295.3L110.3 298.3L110.7 300.6L110.4 302.8L109.3 305.3L105.9 310.3L105.7 311.6L105.9 313.6L105.5 314.6L104.5 315.4L102.5 316.1L99.8 316.7L96.5 317.1Z" fill="rgba(0,0,0,0.1)" stroke="#1a1a1a" stroke-width="0.7"/>
<path d="M94.8 315.6L92.0 315.5L89.5 315.2L87.2 314.6L85.7 313.8L78.5 306.9L77.0 304.8L76.3 302.8L76.1 300.6L76.4 298.3L77.3 296.1L78.8 293.8L80.7 291.8L83.0 290.0L85.5 288.7L88.0 287.9L91.0 287.5L94.0 287.6L97.2 288.4L100.2 289.7L103.0 291.6L105.4 293.8L107.1 296.3L108.1 298.8L108.3 301.6L107.5 304.3L106.1 306.6L102.4 310.8L101.0 313.6L100.2 314.3L98.8 314.9L94.8 315.6Z" fill="rgba(0,0,0,0.1)" stroke="#1a1a1a" stroke-width="0.7"/>
<path d="M93.8 312.6L91.5 312.5L89.2 312.0L86.8 310.9L83.8 309.2L81.5 307.6L80.0 306.1L78.8 304.3L78.2 302.6L78.0 300.6L78.3 298.6L79.1 296.6L80.4 294.6L82.0 292.9L84.0 291.4L86.2 290.3L88.5 289.6L91.2 289.2L94.0 289.4L96.8 290.0L99.5 291.2L101.8 292.7L103.8 294.6L105.2 296.8L106.1 299.1L106.3 301.1L106.0 302.8L105.3 304.6L104.0 306.3L101.5 308.6L98.0 311.0L95.8 312.1L93.8 312.6Z" fill="rgba(0,0,0,0.1)" stroke="#1a1a1a" stroke-width="0.7"/>
<path d="M94.2 309.8L92.2 310.0L90.2 309.8L88.2 309.3L86.0 308.5L84.0 307.4L82.5 306.3L81.2 304.8L80.3 303.3L79.9 301.8L79.9 300.1L80.3 298.3L81.0 296.8L83.3 294.1L85.0 292.8L86.8 291.9L89.0 291.2L91.5 290.9L94.0 291.0L96.5 291.6L98.8 292.6L100.8 294.1L102.5 295.8L103.7 297.8L104.2 299.6L104.3 301.6L103.9 303.3L102.8 305.1L101.2 306.7L99.0 308.2L96.8 309.2L94.2 309.8Z" fill="rgba(0,0,0,0.1)" stroke="#1a1a1a" stroke-width="0.7"/>
<path d="M94.5 308.1L91.0 308.2L87.5 307.5L84.5 305.8L82.6 303.8L82.0 302.6L81.8 301.3L82.2 298.6L83.7 296.1L86.0 294.1L88.0 293.2L90.0 292.7L92.2 292.5L94.5 292.8L96.5 293.4L98.5 294.4L100.2 295.8L101.3 297.3L102.1 299.1L102.4 300.8L102.2 302.3L101.6 303.8L100.3 305.3L98.8 306.5L96.8 307.5L94.5 308.1Z" fill="rgba(0,0,0,0.1)" stroke="#1a1a1a" stroke-width="0.7"/>
<path d="M93.0 306.8L90.0 306.6L87.2 305.7L85.2 304.3L83.9 302.3L83.7 300.1L84.6 297.8L86.5 295.8L89.0 294.6L90.8 294.2L92.5 294.1L95.8 294.8L97.2 295.6L98.5 296.6L99.5 297.8L100.2 299.3L100.5 300.8L100.3 302.1L99.8 303.3L99.0 304.3L97.8 305.3L96.3 306.1L93.0 306.8Z" fill="rgba(0,0,0,0.1)" stroke="#1a1a1a" stroke-width="0.7"/>
<path d="M93.5 305.3L91.2 305.4L89.2 305.0L87.4 304.1L86.2 302.8L85.6 301.3L85.8 299.6L86.7 298.1L88.1 296.8L90.8 295.8L93.5 295.8L96.0 296.8L97.8 298.6L98.3 299.6L98.5 300.8L98.4 301.8L98.0 302.8L96.2 304.4L93.5 305.3Z" fill="rgba(0,0,0,0.1)" stroke="#1a1a1a" stroke-width="0.7"/>
<path d="M93.8 303.8L92.2 304.0L90.8 303.9L89.2 303.3L88.3 302.6L87.7 301.6L87.7 300.6L88.0 299.6L88.7 298.6L90.2 297.6L92.2 297.3L94.2 297.8L95.7 298.8L96.5 300.3L96.4 301.8L95.4 303.1L93.8 303.8Z" fill="rgba(255,255,255,0.3)" stroke="#1a1a1a" stroke-width="0.7"/>
<path d="M92.5 302.6L91.0 302.4L89.9 301.6L89.7 301.1L89.9 300.3L90.9 299.3L91.8 299.0L92.8 299.1L93.7 299.6L94.3 300.3L94.5 301.1L94.1 301.8L93.4 302.3L92.5 302.6Z" fill="#fff" stroke="#1a1a1a" stroke-width="0.7"/>
</g>
<clipPath id="a32"><rect x="166.5" y="220.3" width="104.10000000000002" height="98.89999999999998"/></clipPath>
<g clip-path="url(#a32)">
<linearGradient id="g32" x1="0" y1="0" x2="0" y2="1"><stop offset="0" stop-color="#000" stop-opacity="0"/><stop offset="1" stop-color="#000" stop-opacity="0.55"/></linearGradient>
<rect x="166.5" y="278" width="86" height="16" fill="url(#g32)" stroke="none" stroke-width="1"/>
<rect x="166.5" y="290" width="4" height="29" fill="#333" stroke="none" stroke-width="1"/>
<path transform="scale(.25)" d="M841 1006h4m-2 -2h4m130 1h4m-69 16h4m40 2h4m-172 7h4m-116 7h4m18 -1h4m13 -3h4m17 -1h4m44 3h4m16 -3h4m21 7h4m39 -1h4m8 -3h4m-2 2h4m-4 2h4m21 0h4m8 -2h4m61 -3h4m-308 12h4m27 1h4m22 -1h4m6 -4h4m12 1h4m41 4h4m3 -5h4m-3 -1h4m67 2h4m13 -2h4m3 -1h4m-1 2h4m-1 1h4m7 -1h4m0 1h4m25 1h4m5 1h4m3 -3h4m-294 8h4m6 5h4m-3 -2h4m8 -3h4m0 5h4m-2 0h4m-1 -2h4m2 2h4m9 -4h4m-2 2h4m2 2h4m7 0h4m4 -4h4m1 1h4m2 -2h4m-2 1h4m6 4h4m18 0h4m4 -6h4m3 5h4m42 -6h4m2 2h4m17 2h4m-2 -3h4m-4 1h4m-1 1h4m1 0h4m8 -1h4m-2 4h4m24 -2h4m-4 2h4m4 -1h4m-3 -5h4m16 7h4m6 -1h4m4 0h4m-320 5h4m0 3h4m4 -2h4m7 -1h4m2 -3h4m26 2h4m0 5h4m-2 -5h4m7 -1h4m-3 6h4m2 0h4m5 -3h4m6 -1h4m4 3h4m4 -4h4m21 3h4m4 0h4m-4 -1h4m-3 2h4m16 -2h4m19 1h4m7 -3h4m14 4h4m11 -1h4m18 0h4m8 0h4m39 0h4m-3 -5h4m0 4h4m-326 9h4m-3 -3h4m4 4h4m4 1h4m-1 -2h4m21 1h4m12 -4h4m-4 5h4m4 -7h4m6 7h4m-2 -5h4m-4 1h4m-2 -1h4m10 1h4m1 3h4m-3 -5h4m12 4h4m-2 -3h4m1 -2h4m-4 5h4m-2 2h4m-3 -2h4m0 1h4m17 -1h4m-1 -2h4m-2 -3h4m-4 4h4m-1 -3h4m-4 3h4m35 3h4m-2 -4h4m10 3h4m6 -6h4m13 7h4m-3 -3h4m6 3h4m-4 -3h4m3 1h4m-1 1h4m-4 -3h4m18 4h4m4 0h4m2 -7h4m2 3h4m-3 2h4m12 -2h4m-338 12h4m-3 0h4m7 -6h4m-4 4h4m2 -1h4m12 -2h4m-2 4h4m4 -6h4m7 4h4m2 -3h4m-2 1h4m11 4h4m-4 -3h4m-3 1h4m-2 0h4m-4 -1h4m1 2h4m1 -2h4m-1 4h4m-1 -4h4m-3 -3h4m3 2h4m2 -2h4m0 0h4m-1 2h4m-1 3h4m16 -2h4m-2 0h4m15 0h4m6 -3h4m5 2h4m6 3h4m-3 2h4m-4 -4h4m-4 1h4m1 -2h4m2 4h4m-4 1h4m-2 -3h4m0 -2h4m5 4h4m-1 -4h4m14 4h4m-2 0h4m18 0h4m4 -2h4m14 -3h4m-4 2h4m0 3h4m4 -2h4m0 -3h4m1 1h4m-1 -1h4m-4 2h4m2 0h4m0 4h4m4 -3h4m-2 -2h4m-3 2h4m-340 11h4m0 -4h4m0 -2h4m-2 6h4m-3 -2h4m2 -1h4m13 0h4m2 0h4m-2 -1h4m-2 -2h4m2 0h4m-2 3h4m-2 1h4m1 -2h4m0 1h4m-3 -1h4m0 4h4m9 -3h4m14 3h4m1 0h4m5 -3h4m-2 1h4m-4 1h4m7 -1h4m-1 -2h4m-3 -2h4m1 3h4m-3 3h4m2 -7h4m-2 3h4m4 2h4m-4 2h4m0 -6h4m-3 5h4m-1 1h4m0 -6h4m4 -1h4m13 3h4m-1 -3h4m-3 0h4m1 4h4m-3 -2h4m6 3h4m5 -3h4m2 0h4m9 1h4m-3 4h4m-2 0h4m-2 -1h4m-3 -6h4m-3 1h4m0 3h4m6 1h4m-3 -1h4m0 1h4m5 -2h4m-2 2h4m-3 -3h4m10 -1h4m-4 4h4m8 1h4m1 -2h4m-2 -3h4m3 5h4m9 -6h4m0 0h4m-334 15h4m-3 -5h4m-1 0h4m-3 5h4m0 -6h4m-4 2h4m-2 -3h4m-3 4h4m2 -1h4m0 0h4m-1 2h4m-2 -2h4m7 1h4m-1 2h4m-1 -6h4m-4 2h4m-3 2h4m3 1h4m-2 -4h4m1 4h4m-3 2h4m-3 -3h4m0 -2h4m5 1h4m-3 -3h4m-4 4h4m-1 -1h4m1 0h4m0 2h4m4 1h4m-2 -3h4m-4 4h4m-4 -6h4m10 3h4m-2 -2h4m2 3h4m12 0h4m-4 1h4m-3 -6h4m-4 3h4m-3 2h4m2 -1h4m-2 3h4m-1 -7h4m-3 3h4m-3 0h4m-3 0h4m1 2h4m-2 -4h4m-4 6h4m-1 -6h4m-2 2h4m4 2h4m0 -4h4m-2 6h4m2 -3h4m-2 1h4m1 -5h4m-4 5h4m-3 1h4m3 -3h4m4 -1h4m8 5h4m7 -3h4m2 -2h4m-1 2h4m-3 1h4m5 -2h4m-3 3h4m-1 -6h4m-3 7h4m-4 -4h4m3 -2h4m1 6h4m-2 -5h4m9 0h4m4 2h4m-3 -4h4m1 6h4m-3 -5h4m-2 4h4m-3 -5h4m-2 2h4m1 2h4m-4 1h4m-1 0h4m-4 -2h4m-3 -3h4m-1 5h4m0 -4h4m1 1h4m-2 1h4m2 1h4m-1 1h4m-3 2h4m-334 6h4m1 -3h4m0 4h4m3 -2h4m-4 2h4m2 1h4m-3 -7h4m1 2h4m-4 3h4m-3 -2h4m-3 -2h4m-4 2h4m-1 -1h4m-3 2h4m2 -3h4m-2 6h4m1 -2h4m2 0h4m-2 -1h4m-2 2h4m-4 -1h4m-2 -4h4m0 1h4m2 0h4m-4 4h4m-1 -5h4m-2 2h4m-3 4h4m-2 -2h4m-2 -4h4m-2 0h4m-4 6h4m2 -3h4m-1 -2h4m-4 2h4m4 3h4m-4 -4h4m2 -1h4m-3 5h4m-1 -5h4m2 3h4m1 -1h4m-1 3h4m-4 -7h4m-3 4h4m1 -3h4m-4 -1h4m2 0h4m0 4h4m-2 3h4m4 -5h4m-3 -1h4m2 6h4m1 -6h4m-1 1h4m3 1h4m-4 -1h4m0 1h4m-3 -1h4m-2 1h4m-3 2h4m-3 2h4m-1 -2h4m-4 1h4m-2 -1h4m0 2h4m-2 0h4m-1 -6h4m-3 1h4m-1 3h4m-3 -5h4m-3 1h4m-3 2h4m-4 1h4m-4 3h4m-3 -6h4m0 6h4m-1 -7h4m1 6h4m-2 1h4m-2 -3h4m-1 1h4m-3 1h4m2 -5h4m-2 5h4m2 -4h4m0 5h4m0 -1h4m-4 1h4m-3 -2h4m-1 2h4m-3 0h4m-3 -4h4m-4 -3h4m-2 5h4m-3 -4h4m6 5h4m-2 -3h4m-2 1h4m-1 -4h4m-1 5h4m2 -4h4m7 -1h4m1 5h4m-2 -4h4m5 5h4m2 -2h4m12 -3h4m-1 4h4m-337 8h4m-3 2h4m-3 -6h4m-3 2h4m-4 3h4m-3 -3h4m-3 1h4m3 3h4m-2 -2h4m-4 -1h4m-1 -1h4m-4 1h4m-1 -2h4m-2 1h4m-3 3h4m-4 1h4m-3 0h4m-1 -1h4m-3 -6h4m0 4h4m-3 -3h4m-1 5h4m-2 0h4m-4 -6h4m-2 4h4m-3 0h4m-4 1h4m0 -1h4m-2 0h4m-4 3h4m1 -3h4m0 -1h4m-3 4h4m-2 -2h4m7 -2h4m-1 -1h4m11 1h4m1 -2h4m-3 1h4m-2 -1h4m-2 1h4m-4 3h4m5 -4h4m-4 1h4m0 1h4m-2 -1h4m-2 3h4m0 2h4m-3 0h4m-4 -5h4m-3 3h4m-3 -2h4m-3 1h4m-4 -3h4m-3 4h4m-3 -3h4m-2 4h4m-1 0h4m4 1h4m-3 -2h4m-4 2h4m-2 -7h4m1 1h4m-2 6h4m0 -6h4m-1 2h4m-1 2h4m-2 -3h4m-3 0h4m7 -2h4m-3 6h4m8 -6h4m-3 3h4m-3 -1h4m1 3h4m-3 -2h4m-3 -2h4m-2 4h4m-1 0h4m0 0h4m-3 2h4m1 0h4m-1 -2h4m-3 -5h4m-2 1h4m-1 1h4m1 2h4m-1 -1h4m1 0h4m-1 -1h4m-3 4h4m-3 -6h4m-3 5h4m-3 -4h4m-1 0h4m-1 2h4m-2 1h4m-3 1h4m-1 -4h4m-3 4h4m-2 -5h4m1 0h4m0 1h4m-4 3h4m-3 1h4m-3 -3h4m-3 3h4m-2 1h4m-1 -2h4m-2 3h4m-3 -2h4m-1 -5h4m-4 2h4m-3 0h4m-1 1h4m-2 -3h4m-2 0h4m-3 1h4m-1 6h4m-2 0h4m-3 -4h4m-2 3h4m-3 -5h4m-2 4h4m2 0h4m-3 -3h4m-4 4h4m-4 -5h4m-3 -1h4m-2 4h4m-3 2h4m-3 -3h4m-1 -3h4m0 1h4m-2 0h4m-1 3h4m0 -4h4m-3 5h4m-4 -1h4m-3 1h4m-3 -1h4m-3 -1h4m-4 2h4m-4 2h4m0 -1h4m-4 1h4m-336 5h4m-3 2h4m-3 -3h4m-3 3h4m-2 -1h4m0 -3h4m-2 2h4m-3 -3h4m-3 4h4m-2 1h4m3 1h4m-3 0h4m-4 -3h4m-3 -1h4m-4 1h4m-3 1h4m-3 1h4m-2 -6h4m-4 6h4m-1 -1h4m-4 -3h4m0 3h4m1 -2h4m-1 0h4m-4 2h4m1 -5h4m2 6h4m-3 -2h4m-2 -3h4m0 1h4m-1 4h4m-4 -4h4m3 4h4m-2 -4h4m-1 -1h4m-1 1h4m-1 4h4m-3 -6h4m-2 4h4m-4 3h4m-4 -6h4m-4 -1h4m-2 0h4m-3 0h4m-4 5h4m-1 -2h4m-1 -2h4m3 2h4m0 4h4m-2 -6h4m-3 6h4m-2 -7h4m-4 6h4m0 -4h4m-3 4h4m-3 0h4m-4 1h4m-3 -5h4m-3 3h4m-3 -4h4m-2 4h4m-3 1h4m-2 -4h4m-2 4h4m-4 -1h4m0 -3h4m-3 3h4m-4 -5h4m-3 2h4m-3 2h4m-2 -3h4m-4 2h4m0 4h4m-2 -6h4m-4 4h4m-2 -2h4m-3 4h4m3 -1h4m-4 1h4m-1 -5h4m-3 -2h4m-3 7h4m-3 -6h4m4 0h4m4 4h4m4 -5h4m-3 7h4m-3 -5h4m-2 -2h4m-3 2h4m-2 2h4m-3 1h4m1 -5h4m-2 1h4m-4 5h4m-2 -3h4m3 -3h4m-4 4h4m-3 3h4m1 -3h4m-4 3h4m-4 -7h4m0 6h4m-2 -2h4m-3 3h4m-3 -4h4m-1 0h4m-2 4h4m-4 -4h4m1 4h4m-3 0h4m-1 -6h4m2 1h4m-2 1h4m-3 -3h4m-2 4h4m4 2h4m-1 0h4m0 -6h4m-3 1h4m-1 1h4m-3 2h4m-3 0h4m-3 -2h4m0 0h4m5 5h4m-2 -7h4m1 6h4m1 -4h4m-3 0h4m-4 5h4m4 -3h4m0 -4h4m-4 1h4m-3 5h4m-3 -1h4m2 -1h4m-2 -4h4m-2 3h4m-3 0h4m-3 3h4m-4 -3h4m-3 -1h4m-4 1h4m-3 -1h4m-4 3h4m0 -3h4m-3 4h4m-2 -1h4m0 -3h4m-4 -1h4m-328 11h4m-2 1h4m-2 -5h4m-3 7h4m-1 -5h4m-2 3h4m-3 0h4m-3 -5h4m-3 6h4m0 -2h4m-3 -4h4m-4 6h4m-3 0h4m1 1h4m-1 -5h4m-3 0h4m-1 4h4m-4 -1h4m-3 -4h4m-3 1h4m-3 -2h4m-4 6h4m-4 -1h4m1 0h4m0 -1h4m-2 3h4m-1 -6h4m-1 0h4m-3 4h4m-3 0h4m-3 0h4m-4 -4h4m-3 6h4m-1 -6h4m-4 1h4m-4 2h4m-3 2h4m0 -3h4m-4 2h4m-3 0h4m-3 -3h4m-3 -2h4m-4 6h4m-3 -6h4m-3 1h4m-3 1h4m-2 0h4m0 4h4m-2 -2h4m-4 2h4m-3 1h4m-2 -2h4m-2 -1h4m-2 -1h4m2 -1h4m2 0h4m-4 2h4m1 -2h4m1 5h4m-2 -6h4m-3 5h4m-2 -1h4m-3 -1h4m-3 -1h4m-4 1h4m-3 -3h4m-4 -1h4m-3 4h4m-1 0h4m-3 1h4m-4 -5h4m-2 1h4m-1 6h4m-4 -6h4m-1 6h4m11 -7h4m-3 1h4m2 1h4m-4 1h4m-3 4h4m0 -5h4m-3 2h4m-2 -1h4m-3 3h4m-3 -2h4m-2 3h4m-4 -6h4m0 0h4m-1 1h4m-3 0h4m-3 5h4m-2 -4h4m-4 -2h4m-3 4h4m-2 -1h4m-3 2h4m-4 -4h4m0 1h4m-2 1h4m-2 3h4m-1 -5h4m-4 1h4m-3 -3h4m7 1h4m1 0h4m0 4h4m-4 -3h4m1 -1h4m-2 0h4m-4 3h4m-4 1h4m-3 -5h4m0 1h4m-1 1h4m-2 3h4m2 -3h4m-4 5h4m-3 -3h4m-2 0h4m-1 -3h4m-2 4h4m-4 -5h4m5 0h4m-4 6h4m-1 -5h4m-2 3h4m-4 1h4m-3 0h4m-4 -1h4m-3 -3h4m-2 4h4m0 -4h4m-2 2h4m3 -3h4m-4 7h4m2 -4h4m0 -1h4m-4 2h4m-4 2h4m-4 -6h4m1 4h4m-2 -2h4m-3 1h4m-1 3h4m-2 -4h4m3 4h4m-1 -3h4m1 4h4m-2 0h4m0 -4h4m-2 1h4m-2 -1h4m-2 1h4m-2 1h4m-3 -4h4m-2 6h4m-2 -3h4m-337 4h4m-2 0h4m-4 3h4m-3 0h4m-4 2h4m2 -1h4m-2 0h4m-1 1h4m-2 2h4m-2 -5h4m-4 4h4m-2 -2h4m-2 3h4m-3 -3h4m-3 -3h4m-2 -1h4m-3 0h4m-2 0h4m-3 6h4m-2 1h4m-3 -6h4m-4 2h4m-2 1h4m-3 -2h4m1 1h4m-3 3h4m-4 -3h4m-4 -1h4m-2 2h4m-1 -4h4m-1 0h4m-4 3h4m-4 3h4m-2 -1h4m-3 -4h4m-4 3h4m2 3h4m-1 -7h4m2 2h4m-1 3h4m-4 1h4m-4 -6h4m-1 4h4m-2 0h4m-2 1h4m0 -4h4m-3 3h4m1 -1h4m-2 -2h4m-3 0h4m-3 4h4m-3 2h4m-3 -1h4m-2 -6h4m-4 1h4m-4 3h4m-1 3h4m-4 -1h4m-3 -4h4m-1 -2h4m-4 7h4m-2 -5h4m0 3h4m1 0h4m-3 -3h4m-3 -2h4m-4 2h4m-4 1h4m-4 2h4m-3 -5h4m-4 3h4m0 1h4m-4 1h4m-3 -2h4m-2 1h4m-2 1h4m-4 2h4m-3 -5h4m-2 5h4m-1 -7h4m-1 3h4m-4 3h4m-3 0h4m-2 -1h4m-3 -5h4m-3 4h4m-4 2h4m-3 1h4m-2 -2h4m-2 -4h4m-4 1h4m-3 4h4m-3 -2h4m-3 3h4m-2 -7h4m-1 4h4m-4 -2h4m-3 2h4m-4 -1h4m-2 1h4m-1 -4h4m-3 1h4m-4 -1h4m-4 2h4m-3 5h4m-2 -2h4m-2 -3h4m-4 5h4m0 -7h4m-4 7h4m-3 -3h4m-2 -4h4m-4 2h4m-2 1h4m-3 4h4m-3 -7h4m-3 1h4m-2 5h4m-2 -4h4m-2 4h4m-3 -5h4m-2 1h4m1 -1h4m-1 2h4m-1 0h4m-4 3h4m1 -2h4m-4 -1h4m-3 4h4m-2 -3h4m-4 3h4m-2 -5h4m-2 -2h4m-3 7h4m-3 -5h4m-1 -2h4m-2 2h4m-4 3h4m0 0h4m-3 0h4m-3 -2h4m-2 -1h4m0 4h4m-3 -5h4m-3 6h4m-1 -7h4m-3 0h4m-2 2h4m-4 2h4m-2 3h4m-1 -5h4m-3 1h4m0 -2h4m-4 1h4m-2 -2h4m0 7h4m-3 -6h4m-3 5h4m-2 1h4m-3 -5h4m-3 3h4m-2 1h4m-3 -4h4m-2 -2h4m-3 0h4m-3 5h4m-3 -2h4m-4 -1h4m-2 1h4m-3 -1h4m-3 -2h4m-3 2h4m-3 3h4m0 -5h4m0 1h4m-4 3h4m-3 -1h4m-4 -1h4m-4 3h4m-3 2h4m-3 -7h4m-4 2h4m-4 3h4m-3 -5h4m0 7h4m-3 -3h4m-4 2h4m-2 1h4m-4 -4h4m-2 -2h4m-3 -1h4m-4 2h4m-3 -1h4m-2 0h4m-1 2h4m-4 -1h4m0 5h4m-2 -4h4m-3 3h4m-3 1h4m-4 -1h4m-3 -1h4m-4 1h4m-3 1h4m-2 -3h4m-3 2h4m-3 -4h4m-1 2h4m-4 3h4m-3 -5h4m-2 4h4m3 -5h4m-1 3h4m-336 6h4m-4 3h4m-3 1h4m-2 1h4m-2 -6h4m-4 4h4m-4 -5h4m-4 2h4m-3 5h4m-4 -4h4m-3 2h4m-4 -5h4m-4 2h4m-3 0h4m-3 0h4m2 1h4m-2 1h4m-4 3h4m-1 -6h4m-3 4h4m-3 -5h4m-3 0h4m0 1h4m-3 5h4m-3 0h4m-2 0h4m-2 -2h4m0 3h4m-4 -1h4m-1 -1h4m-4 -1h4m-3 2h4m-2 0h4m-3 -6h4m-3 6h4m-3 -2h4m0 -2h4m-2 -2h4m1 3h4m-2 4h4m-4 -1h4m-3 0h4m-4 1h4m-2 0h4m-3 -3h4m-4 2h4m1 -1h4m-2 -2h4m-2 -2h4m-3 4h4m-4 -1h4m1 -3h4m-4 4h4m-2 1h4m-3 -1h4m-3 2h4m-1 -2h4m1 -2h4m-3 2h4m-2 1h4m-3 -5h4m-2 4h4m-4 2h4m-1 -5h4m-4 3h4m-3 2h4m1 -5h4m-3 3h4m0 -3h4m-3 -1h4m-4 2h4m-2 -1h4m-4 5h4m-1 -5h4m-3 5h4m-4 -1h4m0 -1h4m-3 -1h4m-1 3h4m-4 -4h4m-3 2h4m-2 -5h4m-4 3h4m-3 -2h4m-3 1h4m-4 5h4m-3 -6h4m-4 5h4m-3 -2h4m-4 -3h4m-3 0h4m-4 -1h4m-4 3h4m-4 3h4m-4 1h4m0 0h4m-3 -1h4m-2 -6h4m-1 5h4m-3 2h4m-4 -6h4m-4 -1h4m-3 1h4m-4 5h4m-3 1h4m-3 -1h4m-3 -3h4m-3 2h4m-3 -4h4m-2 0h4m-4 4h4m-3 2h4m-4 -6h4m-3 0h4m1 0h4m-4 1h4m-2 4h4m-3 1h4m-4 -4h4m-2 -2h4m-4 5h4m-3 -2h4m-3 0h4m-4 3h4m0 0h4m-4 -4h4m-4 2h4m-3 -4h4m-2 3h4m-4 -3h4m-1 5h4m-3 -5h4m-2 6h4m-3 -5h4m-1 3h4m-4 -1h4m-3 -1h4m-4 2h4m-2 -2h4m-3 2h4m-3 -3h4m-3 -1h4m-4 2h4m-3 1h4m-3 2h4m-2 0h4m-3 0h4m-3 0h4m-3 -1h4m-4 2h4m-3 -6h4m-3 2h4m-4 -1h4m-4 3h4m-4 1h4m-2 -1h4m-4 -5h4m-1 2h4m-4 3h4m-3 -3h4m-2 4h4m-3 -1h4m-4 2h4m-4 -4h4m0 -3h4m-3 4h4m-4 3h4m-3 -2h4m-4 -1h4m-3 -1h4m-3 2h4m-3 2h4m-2 -2h4m-4 -1h4m-3 3h4m-4 -6h4m-2 4h4m-1 0h4m-4 1h4m-3 -2h4m-2 -3h4m-3 5h4m-2 -1h4m-3 -3h4m-4 -2h4m-3 0h4m4 3h4m-4 -1h4m-4 -1h4m-3 2h4m-2 -2h4m-4 2h4m-2 -2h4m-3 4h4m-3 -3h4m-1 2h4m-4 3h4m-2 0h4m-3 -7h4m-4 2h4m-1 3h4m-4 2h4m-4 -1h4m-3 1h4m-3 -2h4m-3 -5h4m-4 3h4m-3 4h4m-3 -5h4m-4 1h4m-2 0h4m-3 -1h4m-2 -1h4m-4 6h4m-4 -1h4m1 -6h4m-2 4h4m-3 -2h4m-4 2h4m-4 3h4m-3 -2h4m-4 2h4m-2 -5h4m-4 2h4m-4 -1h4m-2 2h4m-3 0h4m-2 -1h4m-3 1h4m-4 -3h4m-3 5h4m-2 -2h4m-4 -5h4m-4 3h4m-2 -1h4m-4 1h4m-2 3h4m-2 0h4m-4 -6h4m-3 3h4m-2 -1h4m-2 -1h4m-3 3h4m-4 2h4m-3 -5h4m0 4h4m-3 -1h4m-2 -4h4m-2 5h4m-2 -2h4m-3 4h4m-3 -3h4m-3 1h4m-4 2h4m-3 -5h4m-4 1h4m0 4h4m-3 -1h4m0 -3h4m0 -3h4m-3 2h4m-3 4h4m-3 -1h4m-3 -5h4m-3 6h4m-3 -5h4m-3 0h4m-3 1h4m-335 7h4m-1 0h4m-3 4h4m1 2h4m-2 -4h4m-1 -2h4m-4 2h4m-3 2h4m-3 -1h4m-3 2h4m-4 -5h4m-4 3h4m-3 3h4m-1 0h4m-3 -5h4m-3 0h4m-2 5h4m-3 0h4m-2 -1h4m-3 -6h4m-4 3h4m-2 4h4m-4 -7h4m-2 4h4m-3 -3h4m2 2h4m-4 -2h4m-2 3h4m-2 3h4m-2 -5h4m-2 2h4m-4 -2h4m-1 -2h4m-3 1h4m-3 3h4m0 -1h4m-4 4h4m-3 -4h4m-4 3h4m-2 -3h4m-3 4h4m-3 -4h4m-3 2h4m-3 -1h4m-4 2h4m-3 -6h4m-3 4h4m-3 0h4m-4 -3h4m-4 2h4m-3 2h4m-3 -3h4m-4 4h4m-3 -5h4m-4 1h4m-3 1h4m-2 4h4m-3 -1h4m0 1h4m-4 -6h4m-4 2h4m1 4h4m-4 -7h4m-4 6h4m-2 -4h4m-2 2h4m-1 2h4m-4 1h4m-3 -6h4m-4 4h4m-3 1h4m-1 1h4m-2 0h4m-3 -4h4m-3 -1h4m-4 4h4m-3 -5h4m-4 4h4m-1 -5h4m-3 3h4m-4 1h4m-4 2h4m-3 1h4m-1 -2h4m-2 -2h4m-3 1h4m-3 2h4m-3 -3h4m-3 4h4m-2 -6h4m-3 2h4m-1 -1h4m-3 -1h4m-4 4h4m0 -4h4m4 -1h4m-4 2h4m-4 2h4m-3 -4h4m-4 2h4m-1 3h4m-3 0h4m-4 1h4m-2 -1h4m-4 2h4m-1 -2h4m-3 -5h4m-3 4h4m-4 -2h4m-4 1h4m-3 2h4m-4 -1h4m-3 1h4m-2 -3h4m-3 0h4m-3 -2h4m-3 2h4m-4 1h4m-3 -3h4m-4 1h4m-4 4h4m-4 2h4m-3 -6h4m-4 2h4m-4 1h4m-4 2h4m-3 -2h4m-2 -3h4m-4 5h4m-3 -2h4m-1 -2h4m-4 1h4m-3 1h4m0 1h4m-1 -2h4m-2 -1h4m-4 2h4m-1 3h4m-3 -2h4m-4 -1h4m-4 2h4m-1 -6h4m-4 1h4m1 -1h4m-2 6h4m-2 -2h4m-1 3h4m-3 -1h4m-2 -6h4m-4 5h4m-3 -3h4m-2 -1h4m-3 2h4m-4 -3h4m-1 2h4m-3 -2h4m-4 5h4m-3 -2h4m0 3h4m-1 1h4m-4 -6h4m-2 4h4m-4 -5h4m-2 0h4m-4 2h4m-4 3h4m-3 0h4m-4 -3h4m-3 -1h4m-2 0h4m-4 4h4m-1 -5h4m-4 1h4m-3 5h4m-3 -4h4m-4 1h4m-1 -1h4m-2 1h4m-3 3h4m-3 1h4m-2 -4h4m-2 4h4m-1 -1h4m-3 -4h4m-4 5h4m-3 -6h4m-4 4h4m-3 2h4m-2 0h4m-4 -3h4m-3 -3h4m-4 2h4m-2 0h4m-3 1h4m-3 -4h4m-3 5h4m-3 -1h4m-3 -4h4m-4 2h4m-4 1h4m-4 2h4m-2 -4h4m-4 6h4m2 -2h4m-3 2h4m-3 -3h4m-2 2h4m-2 -6h4m-4 2h4m-4 1h4m-4 2h4m-2 -3h4m-4 2h4m-1 1h4m-1 1h4m-3 -1h4m-3 -4h4m-3 4h4m-4 2h4m-3 -3h4m-4 3h4m-4 -6h4m-1 5h4m-2 -1h4m-2 1h4m-1 1h4m-4 -5h4m-3 -2h4m-3 6h4m-4 -1h4m-3 2h4m-1 -2h4m-4 2h4m-3 -7h4m-2 3h4m-2 2h4m-4 -5h4m-2 7h4m-3 0h4m0 0h4m-3 -5h4m-3 -2h4m-4 2h4m-1 3h4m-4 -3h4m-3 2h4m-3 0h4m-4 -4h4m-3 1h4m-3 -1h4m-4 5h4m-2 -1h4m-1 1h4m-3 1h4m-3 -6h4m-3 7h4m-2 -3h4m-1 2h4m-3 -3h4m-4 4h4m-3 -6h4m-4 2h4m-2 3h4m-3 0h4m-4 1h4m-338 7h4m-4 -6h4m-3 2h4m-2 1h4m-4 2h4m-4 -1h4m-3 -2h4m-3 5h4m-3 -7h4m0 4h4m-4 -4h4m-2 0h4m-4 1h4m-2 2h4m0 3h4m-2 -2h4m-3 0h4m-4 -1h4m-4 4h4m-3 -4h4m-2 -1h4m-3 0h4m-4 3h4m-4 -2h4m-3 3h4m-3 -4h4m-4 3h4m-3 -4h4m-4 2h4m-3 -3h4m-3 3h4m-3 -2h4m-3 1h4m-1 1h4m-3 -2h4m-3 2h4m-4 2h4m-3 -3h4m-4 3h4m-4 2h4m-3 -3h4m-4 3h4m-3 -3h4m-3 3h4m-3 -3h4m-4 3h4m-4 -1h4m-3 -3h4m0 3h4m-3 -2h4m2 3h4m-2 -2h4m-4 -1h4m-3 -4h4m-4 1h4m-4 3h4m-4 2h4m-1 -2h4m-4 1h4m-3 2h4m-4 -1h4m-4 -3h4m-3 2h4m-4 1h4m-2 -1h4m-4 2h4m-4 -6h4m-2 1h4m-4 1h4m-2 -1h4m-4 -1h4m-4 5h4m2 -4h4m-4 3h4m-3 -2h4m-3 4h4m0 0h4m-4 -6h4m-2 5h4m-4 -6h4m-2 0h4m-2 2h4m-3 3h4m-1 -4h4m-4 4h4m-3 -4h4m-3 0h4m-3 -1h4m-2 5h4m-3 -5h4m-4 3h4m1 -3h4m-4 3h4m-3 -1h4m-4 1h4m-2 3h4m-3 -6h4m-4 3h4m-3 0h4m-3 3h4m-4 -1h4m-2 -1h4m-3 0h4m-2 1h4m-4 -3h4m-2 -1h4m-4 -1h4m-3 4h4m-4 3h4m-3 0h4m-4 -2h4m-1 -2h4m-3 4h4m-3 -5h4m-4 5h4m-3 -4h4m-4 3h4m-4 -6h4m-3 7h4m-2 -3h4m-3 1h4m-3 -2h4m-4 1h4m-3 -4h4m-3 4h4m-1 -3h4m-3 -1h4m-4 2h4m-4 2h4m-3 2h4m-4 1h4m-3 -1h4m-3 -4h4m-4 4h4m-3 -3h4m-4 4h4m-3 -2h4m-3 -2h4m-2 4h4m-4 -5h4m-3 2h4m-4 1h4m-3 -5h4m-3 3h4m-4 -3h4m-2 6h4m-3 -1h4m-3 -5h4m-4 2h4m-4 1h4m-4 2h4m-3 1h4m-3 -4h4m-3 -2h4m-4 2h4m-4 1h4m-3 1h4m-3 -4h4m-4 7h4m-3 -7h4m-4 3h4m-4 4h4m-3 -4h4m-2 -3h4m-3 4h4m-3 0h4m-1 -2h4m-4 -1h4m-4 2h4m-3 3h4m-3 -1h4m-3 2h4m-3 -2h4m-2 -3h4m-4 3h4m-3 -2h4m-3 2h4m-2 0h4m-3 -1h4m-4 2h4m-3 -2h4m-4 3h4m-3 -4h4m-2 1h4m-4 -3h4m-2 5h4m-2 -1h4m-3 2h4m-4 -3h4m2 0h4m-3 2h4m-4 1h4m-3 -3h4m-3 3h4m-4 -6h4m-3 3h4m-3 3h4m-4 -7h4m-2 6h4m-3 1h4m-4 -7h4m0 3h4m-3 4h4m-4 -7h4m-2 4h4m-3 -2h4m-1 4h4m-2 0h4m-1 -5h4m-4 2h4m-3 2h4m-4 -2h4m-3 4h4m-3 -4h4m-4 1h4m-3 -4h4m-3 2h4m-3 1h4m-3 -2h4m-2 0h4m-4 6h4m-3 -3h4m-3 -1h4m-1 3h4m-4 1h4m-4 -6h4m-4 1h4m-3 4h4m-3 -1h4m-3 -4h4m-3 4h4m-2 -3h4m-4 3h4m-3 -2h4m-3 -3h4m-4 5h4m-4 2h4m-2 -2h4m-4 2h4m-3 -1h4m-1 -2h4m2 1h4m1 -5h4m-4 4h4m-3 2h4m-4 -3h4m-3 0h4m-4 -1h4m-4 2h4m-3 2h4m-3 -3h4m-4 3h4m-3 -3h4m-3 3h4m0 -4h4m-4 4h4m-3 -4h4m-2 -1h4m-2 -1h4m-4 1h4m-2 2h4m-3 4h4m-3 -7h4m-3 2h4m1 -1h4m-4 2h4m-3 0h4m-4 -1h4m-3 4h4m-3 1h4m-2 -6h4m-4 2h4m-4 1h4m-3 1h4m-3 -5h4m-4 6h4m-2 -6h4m-2 1h4m-3 4h4m-3 -3h4m-4 1h4m-3 -3h4m-2 4h4m-4 3h4m-4 -1h4m-4 -6h4m-3 7h4m-4 -6h4m-2 3h4m-3 1h4m-3 -1h4m-4 3h4m-4 -7h4m-1 0h4m-4 4h4m-2 0h4m-3 2h4m-2 -2h4m-4 2h4m-1 -5h4m-3 0h4m-4 -1h4m-3 6h4m-4 -6h4m-3 1h4m-2 6h4m-4 -2h4m-3 -4h4m-3 6h4m-1 0h4m-4 -2h4m-3 -3h4m-4 5h4m-3 -3h4m-4 3h4m-4 -1h4m-3 1h4m-3 -4h4m-4 4h4m-3 -6h4m0 0h4m-2 5h4m-3 -5h4m-3 5h4m-4 -6h4m-3 7h4m-4 -6h4m-4 3h4m-4 -1h4m-3 -1h4m-338 12h4m-3 -4h4m-4 2h4m-1 2h4m-2 -4h4m-3 -1h4m-3 -1h4m-3 2h4m-4 -2h4m-3 0h4m-3 4h4m-4 2h4m-2 -3h4m-3 -3h4m-3 5h4m-3 2h4m-2 -6h4m-3 1h4m-2 2h4m-2 -1h4m-3 1h4m-4 1h4m-3 -2h4m-2 1h4m-4 -3h4m-3 3h4m-3 -1h4m-3 1h4m-1 -4h4m-4 5h4m-2 -4h4m-4 -1h4m-4 4h4m-3 -4h4m-4 3h4m-3 0h4m-3 2h4m-4 2h4m-3 -3h4m-2 -4h4m0 3h4m-4 2h4m-3 0h4m-4 2h4m-4 -7h4m-4 4h4m-1 -2h4m-3 1h4m-1 3h4m-1 -3h4m-4 4h4m-3 -5h4m-2 -1h4m-4 4h4m-2 1h4m-3 1h4m-2 -2h4m-3 -4h4m-4 1h4m-3 1h4m-4 2h4m-3 -4h4m-4 4h4m-4 2h4m-3 -5h4m0 1h4m-3 -3h4m-3 4h4m-4 -3h4m-3 3h4m-4 1h4m-3 -3h4m-3 1h4m-1 2h4m-4 2h4m-4 -4h4m-4 -1h4m1 1h4m-3 -2h4m-3 -1h4m-3 3h4m-1 3h4m-3 -6h4m-4 2h4m-2 5h4m0 -3h4m-3 2h4m-4 -2h4m-3 -4h4m-4 2h4m-4 3h4m2 0h4m-4 -1h4m-4 2h4m-4 -6h4m-1 5h4m-4 -4h4m-4 -1h4m-3 1h4m-3 0h4m-4 3h4m-3 -4h4m-4 3h4m-4 3h4m-3 -3h4m-1 0h4m-1 1h4m-2 0h4m-2 0h4m-2 3h4m-3 -1h4m-4 -6h4m-3 2h4m-4 -1h4m-3 3h4m-3 2h4m-4 1h4m-4 -2h4m-3 2h4m-3 0h4m-3 -3h4m-4 3h4m-3 -5h4m-4 5h4m-2 -5h4m-3 2h4m-4 2h4m-2 -6h4m-3 2h4m-4 3h4m-4 -5h4m-3 5h4m-2 -3h4m-3 2h4m-2 0h4m-3 0h4m-1 -2h4m-4 2h4m-2 -2h4m-1 0h4m-4 -1h4m-2 4h4m-1 1h4m-3 -1h4m-4 2h4m-4 -6h4m-3 -1h4m-3 7h4m-1 -6h4m-4 2h4m-3 0h4m-4 2h4m-4 -1h4m-2 -4h4m-3 0h4m-2 4h4m-3 2h4m-3 -4h4m-3 1h4m-4 4h4m-3 0h4m-4 -7h4m-3 6h4m1 -5h4m-3 2h4m-4 2h4m-4 1h4m-3 -5h4m-4 3h4m-3 1h4m-2 -1h4m-2 -2h4m-3 3h4m-3 -3h4m-2 5h4m-2 -7h4m-1 2h4m-3 1h4m-3 1h4m-4 -4h4m-3 2h4m-4 2h4m-3 -1h4m-3 -2h4m-4 3h4m-3 -3h4m-4 2h4m-3 -1h4m-3 2h4m-2 -1h4m-4 3h4m-3 1h4m-3 -1h4m-3 -1h4m-3 -1h4m-3 -2h4m-2 2h4m-3 3h4m-3 -6h4m-4 2h4m-3 -3h4m-4 7h4m-3 -4h4m-4 1h4m-4 -4h4m-3 4h4m-4 2h4m-3 0h4m-4 -4h4m-4 -1h4m-2 3h4m-2 -1h4m-4 2h4m-2 0h4m-3 1h4m-4 -6h4m-3 6h4m-4 -2h4m-4 -1h4m-3 3h4m-4 -3h4m-2 -3h4m-4 1h4m-3 3h4m-2 -4h4m-4 2h4m-3 4h4m-3 -6h4m-4 4h4m-3 -2h4m-3 -1h4m-3 5h4m-2 -1h4m-4 1h4m-2 -5h4m-3 5h4m-3 -1h4m-3 -2h4m-2 1h4m-3 2h4m-2 -3h4m-4 4h4m-2 0h4m-3 -3h4m-4 3h4m-2 -7h4m-2 4h4m-3 -4h4m-3 3h4m-4 -2h4m-3 5h4m-4 -4h4m-4 2h4m-3 1h4m-3 -2h4m-4 1h4m-3 -4h4m-4 5h4m-3 -1h4m-4 -1h4m-2 -1h4m-4 3h4m0 1h4m-3 -2h4m-2 2h4m-3 1h4m-4 -1h4m-3 -5h4m-3 1h4m-3 -2h4m-3 4h4m-3 1h4m-3 0h4m-4 -1h4m-3 2h4m-4 -1h4m-3 2h4m-3 -3h4m-3 -2h4m-1 4h4m-2 -4h4m-1 4h4m-4 -1h4m-4 -5h4m-3 7h4m-3 -4h4m-2 -2h4m-3 1h4m-3 -2h4m-4 7h4m-3 -3h4m-4 3h4m-2 -6h4m-3 -1h4m-4 2h4m-2 0h4m-4 3h4m-4 -4h4m-2 -1h4m-2 0h4m-2 6h4m-3 -6h4m-3 3h4m-1 -3h4m-4 3h4m-4 4h4m-2 -5h4m-4 3h4m-3 -3h4m-4 5h4m-3 -5h4m-3 0h4m-4 2h4m-2 2h4m-3 -4h4m-4 2h4m-2 2h4m-3 -6h4m-3 6h4m-3 -6h4m-4 1h4m-1 3h4m-4 -1h4m-3 1h4m-2 -1h4m-3 -1h4m-340 11h4m-4 -4h4m-2 3h4m-4 1h4m-4 -3h4m-3 4h4m-4 -3h4m-3 -3h4m-2 0h4m-2 5h4m-3 0h4m-3 2h4m-4 -2h4m-2 -4h4m-3 3h4m-3 -3h4m-3 4h4m-4 1h4m-3 0h4m-3 -6h4m-2 6h4m-4 -3h4m-3 2h4m-4 -5h4m-3 0h4m-3 6h4m-3 -5h4m-3 6h4m-3 -4h4m-3 1h4m-4 2h4m-3 -1h4m-2 1h4m-4 1h4m0 -1h4m-4 -6h4m-3 0h4m-3 4h4m-2 -2h4m-4 5h4m-4 -1h4m-1 1h4m-2 0h4m-3 -4h4m-1 -2h4m-3 5h4m-3 -5h4m-4 4h4m-4 -1h4m-4 2h4m-3 -6h4m-4 4h4m-3 -1h4m-4 4h4m-3 -3h4m-2 3h4m-3 0h4m-4 -1h4m-3 -4h4m-2 0h4m-3 3h4m-2 2h4m-3 -1h4m-4 -5h4m-3 0h4m-4 4h4m-3 -5h4m-3 1h4m-3 1h4m-2 1h4m-2 2h4m-4 -1h4m-4 2h4m-4 -6h4m-2 0h4m-3 3h4m-3 -1h4m-2 1h4m-3 0h4m-4 -1h4m-3 -1h4m-4 2h4m-3 0h4m-3 -2h4m-4 3h4m-2 -2h4m-4 1h4m-2 1h4m-2 -3h4m-3 -1h4m-3 3h4m1 -3h4m-3 3h4m1 -3h4m-1 1h4m-4 3h4m-4 -4h4m0 2h4m-2 1h4m1 -2h4m-3 0h4m-3 0h4m-2 2h4m-4 1h4m-3 -1h4m-3 -3h4m-3 2h4m-3 -2h4m-4 2h4m-3 -2h4m-2 4h4m-1 -4h4m-4 4h4m-1 -4h4m-4 1h4m-3 0h4m-3 1h4m-4 -1h4m-3 2h4m-2 -1h4m-4 5h4m-3 -1h4m-4 -5h4m-3 0h4m-4 3h4m-3 3h4m-4 -6h4m-3 -1h4m-4 5h4m-2 1h4m-3 -1h4m-4 -4h4m-3 2h4m-4 1h4m-3 -4h4m-4 5h4m-1 -4h4m-4 3h4m-4 -1h4m-4 4h4m-3 -6h4m-4 4h4m-4 -3h4m-3 2h4m-4 3h4m-3 0h4m-4 -1h4m-3 -6h4m-3 3h4m0 -3h4m-4 1h4m-3 5h4m-3 -2h4m-3 1h4m-4 2h4m-1 -1h4m-2 -3h4m-4 4h4m-3 -1h4m-3 -5h4m-4 -1h4m-2 2h4m-4 4h4m-3 -2h4m-3 -1h4m-4 2h4m-4 -3h4m1 -2h4m-3 2h4m-4 3h4m-3 -2h4m-3 3h4m0 -1h4m-4 2h4m-2 -6h4m-4 6h4m-3 -3h4m-3 -3h4m-2 6h4m-3 -6h4m-4 3h4m-2 2h4m-3 -3h4m-1 1h4m-3 0h4m-4 2h4m-3 -6h4m-4 6h4m-4 -1h4m-4 2h4m-2 -5h4m-4 4h4m-3 -2h4m-4 -4h4m-3 5h4m-4 -5h4m-3 3h4m-2 -1h4m-4 -1h4m-3 -1h4m-4 3h4m-3 -1h4m-3 -2h4m-4 2h4m-4 2h4m-3 0h4m-3 2h4m-4 -5h4m-3 6h4m-3 -2h4m-3 0h4m-3 1h4m-3 -6h4m-3 2h4m-3 -1h4m-3 4h4m-2 -5h4m-4 1h4m-4 5h4m-2 -5h4m-3 3h4m-3 -3h4m-3 5h4m-3 -3h4m-4 1h4m-2 1h4m-2 -3h4m-4 1h4m-2 -1h4m-3 2h4m-4 2h4m-4 -1h4m-4 2h4m-3 -4h4m-4 4h4m-4 -6h4m-2 3h4m-2 -4h4m-4 1h4m-3 3h4m-3 1h4m-2 -1h4m-3 1h4m-4 -4h4m-3 0h4m-3 4h4m-2 -4h4m-4 -1h4m-3 1h4m-4 -1h4m0 4h4m-1 -1h4m-4 2h4m-3 -5h4m-4 4h4m-3 1h4m-3 -1h4m-3 -2h4m-1 1h4m0 -2h4m-3 1h4m-4 -2h4m-4 3h4m-2 2h4m-3 -2h4m-4 -3h4m-2 3h4m-4 1h4m-1 -1h4m-2 -1h4m-4 4h4m-3 -3h4m-3 1h4m-3 -2h4m-4 2h4m-3 3h4m-1 0h4m-3 -7h4m-4 4h4m-2 3h4m-3 0h4m-3 -2h4m-4 -5h4m-4 2h4m-3 -1h4m-2 2h4m-3 4h4m-2 -2h4m-3 -1h4m-3 -4h4m-4 5h4m-3 -1h4m-4 -3h4m-3 4h4m-3 0h4m-4 2h4m-2 -4h4m-4 2h4m-3 -4h4m-4 2h4m-2 -2h4m-3 3h4m-4 1h4m-2 0h4m-4 -1h4m-2 -4h4m-4 7h4m-3 0h4m-3 -3h4m-3 -4h4m-2 7h4m-3 -6h4m-4 1h4m-4 4h4m-3 -6h4m-4 3h4m-4 -1h4m-4 2h4m-4 -3h4m-3 0h4m-4 2h4m-3 4h4m-2 -4h4m0 -3h4m-4 1h4m-2 -1h4m-4 3h4m-2 -1h4m-4 5h4m-4 -1h4m-3 -2h4m-4 3h4m-3 0h4m-3 -7h4m-2 3h4m-4 -2h4m-3 3h4m-4 3h4m-2 -6h4m-4 -1h4m-3 4h4m-319 4h4m-2 0h4m113 0h4m3 0h4m9 0h4m6 0h4m4 0h4m5 0h4m21 0h4m10 0h4m-3 0h4m58 0h4m7 0h4m21 0h4m-1 0h4m-2 0h4m-1 0h4m-326 69h4m-3 0h4m18 1h4m0 -2h4m8 3h4m103 0h4m6 -3h4m2 3h4m13 -2h4m11 1h4m-3 -1h4m-2 2h4m-1 0h4m-2 -2h4m2 0h4m7 0h4m20 0h4m-3 2h4m-1 0h4m15 -2h4m6 2h4m-3 -1h4m22 1h4m4 -2h4m9 1h4m-331 5h4m8 -3h4m1 7h4m2 -3h4m1 -1h4m0 3h4m4 -3h4m-1 -2h4m-3 6h4m-1 -7h4m1 1h4m-1 -1h4m-4 4h4m9 2h4m3 0h4m0 0h4m6 0h4m-2 -2h4m15 0h4m20 3h4m-4 -5h4m3 2h4m-4 3h4m1 -5h4m2 3h4m-2 2h4m0 -5h4m-3 5h4m-3 0h4m-1 -6h4m-3 5h4m-3 -5h4m-4 2h4m4 1h4m-2 3h4m-2 -2h4m-1 2h4m0 0h4m2 -3h4m3 -2h4m-2 0h4m-3 3h4m-3 2h4m-1 -5h4m-3 3h4m-2 -1h4m-4 2h4m-2 -5h4m0 1h4m0 5h4m-3 -6h4m-1 6h4m-2 -2h4m4 -3h4m-2 4h4m-1 1h4m-3 -3h4m-1 1h4m-3 1h4m1 -6h4m-1 3h4m6 -1h4m-2 3h4m-1 -1h4m5 3h4m1 -1h4m2 -3h4m-4 3h4m-1 -5h4m-1 3h4m-3 -4h4m3 6h4m-4 -6h4m-2 0h4m7 1h4m9 4h4m-3 -4h4m-3 -1h4m-336 9h4m-3 -1h4m4 0h4m-1 2h4m2 3h4m-2 -3h4m-1 -2h4m-2 7h4m13 -6h4m-2 6h4m-2 -3h4m-3 -1h4m-2 -1h4m-1 1h4m2 4h4m-2 -2h4m-4 2h4m7 0h4m-1 -7h4m-3 2h4m0 5h4m-2 -3h4m-3 3h4m-4 -1h4m-1 -1h4m-3 1h4m-3 -1h4m-1 -5h4m-4 6h4m4 1h4m4 0h4m-3 -3h4m-3 -3h4m5 -1h4m-2 6h4m-3 1h4m-3 -1h4m-1 -5h4m-3 6h4m9 -2h4m3 -5h4m5 1h4m-3 2h4m1 -3h4m-4 3h4m1 3h4m-3 -6h4m-3 0h4m1 1h4m4 -1h4m5 3h4m-1 1h4m5 -2h4m-3 1h4m-3 1h4m-2 2h4m-2 -1h4m2 -2h4m3 3h4m5 1h4m1 -6h4m7 2h4m-3 0h4m1 2h4m-1 2h4m-4 -2h4m21 -2h4m-2 -2h4m3 3h4m3 2h4m-3 0h4m-2 -6h4m3 3h4m0 -2h4m-4 4h4m3 2h4m-2 -3h4m-4 -1h4m-1 3h4m-1 0h4m-1 -3h4m-1 0h4m-4 -1h4m-334 11h4m-3 -5h4m1 1h4m2 4h4m-1 -5h4m1 2h4m9 5h4m8 -3h4m-2 3h4m-1 -4h4m4 1h4m-3 3h4m0 -1h4m1 -5h4m0 3h4m8 -2h4m-4 2h4m-1 2h4m-4 -3h4m2 1h4m-3 -3h4m5 4h4m1 1h4m1 -1h4m3 -5h4m3 6h4m-4 -5h4m-1 5h4m3 -5h4m6 3h4m0 1h4m-1 2h4m6 0h4m2 -3h4m-1 -3h4m0 1h4m-2 2h4m-3 0h4m-1 2h4m3 -1h4m-3 -3h4m-3 -2h4m-3 3h4m0 3h4m2 -3h4m-4 -1h4m3 2h4m6 -4h4m-4 5h4m0 -4h4m-2 -1h4m-1 1h4m-2 -1h4m1 6h4m4 -3h4m-3 -1h4m-4 -1h4m0 4h4m0 2h4m-1 -1h4m1 -5h4m5 0h4m-3 -1h4m-3 3h4m0 0h4m-1 -1h4m-3 2h4m-2 -1h4m-1 -3h4m3 7h4m0 -2h4m-2 -2h4m-3 0h4m-1 2h4m-2 -2h4m-4 3h4m0 -6h4m3 7h4m5 -1h4m-4 1h4m-3 0h4m-3 -5h4m-316 6h4m12 1h4m4 1h4m-4 -1h4m13 -1h4m-3 2h4m8 -2h4m3 0h4m11 1h4m-3 -1h4m5 3h4m-2 -3h4m2 2h4m-2 -1h4m7 1h4m0 -1h4m2 0h4m13 0h4m-3 2h4m13 -1h4m48 -2h4m0 1h4m4 0h4m-2 0h4m3 0h4m1 0h4m15 -1h4m-4 2h4m20 -1h4m16 0h4m6 0h4m-3 1h4m-3 0h4m3 0h4m-1 0h4m-3 -2h4m-3 2h4" stroke="#707070" stroke-width="4" fill="none"/>
<path d="M195.8 312.8L190.8 312.8L185.2 312.2L180.8 311.1L177.0 309.6L173.9 307.6L172.0 305.3L171.6 304.1L171.4 302.8L172.0 300.6L173.0 299.1L174.8 297.5L177.0 296.1L179.8 295.0L185.8 293.4L192.8 292.9L198.5 293.2L206.2 294.6L213.2 294.6L218.8 295.3L220.5 295.1L224.8 293.9L228.8 293.2L232.8 293.1L236.5 293.4L241.0 294.4L244.5 295.9L247.1 298.1L248.4 300.3L248.5 301.6L248.3 302.8L247.7 304.1L246.6 305.3L245.0 306.5L243.2 307.5L239.0 308.9L235.5 309.5L231.2 309.7L227.8 309.4L223.0 308.5L221.2 308.5L215.5 309.9L207.9 310.6L201.0 312.2L195.8 312.8Z" fill="#fff" stroke="#1a1a1a" stroke-width="1.4"/>
<path d="M193.8 312.3L189.0 312.1L184.5 311.5L180.2 310.2L177.0 308.7L174.5 306.8L173.1 304.8L172.6 302.6L173.4 300.3L174.5 298.9L176.0 297.7L178.0 296.5L180.5 295.4L186.5 293.9L193.0 293.4L198.2 293.8L205.7 295.1L213.0 295.1L219.0 295.8L220.8 295.7L225.0 294.4L228.2 293.8L232.2 293.6L236.0 293.9L240.0 294.7L243.8 296.3L246.2 298.3L246.9 299.3L247.4 300.6L247.5 301.8L247.1 303.1L246.4 304.3L245.4 305.3L242.2 307.2L238.2 308.5L234.8 309.0L231.0 309.1L227.8 308.9L223.0 308.0L221.2 308.0L215.0 309.4L207.5 310.1L200.0 311.7L193.8 312.3Z" fill="rgba(0,0,0,0.13)" stroke="#1a1a1a" stroke-width="1.4"/>
<path d="M196.2 311.6L191.5 311.7L187.0 311.2L183.0 310.4L179.2 309.0L176.5 307.3L174.7 305.3L174.0 303.3L174.1 302.1L174.4 301.1L175.4 299.6L176.7 298.3L178.5 297.2L180.8 296.1L186.2 294.6L192.8 294.1L198.0 294.4L205.0 295.6L212.8 295.7L219.2 296.4L221.2 296.2L225.5 294.9L228.5 294.4L232.0 294.2L235.5 294.4L239.5 295.2L242.8 296.6L245.2 298.6L246.3 300.6L246.3 301.6L246.1 302.8L245.5 303.8L244.5 304.9L241.8 306.7L237.8 308.0L234.5 308.5L231.0 308.6L227.5 308.2L223.2 307.4L221.2 307.3L214.8 308.9L206.8 309.6L200.2 311.0L196.2 311.6Z" fill="rgba(0,0,0,0.13)" stroke="#1a1a1a" stroke-width="1.4"/>
<path d="M196.8 310.8L192.2 311.0L188.0 310.7L184.0 309.9L180.5 308.6L177.8 306.9L176.1 305.1L175.4 303.1L175.9 301.1L176.7 299.8L178.1 298.6L180.0 297.4L182.0 296.5L187.0 295.2L192.8 294.7L197.2 295.0L204.2 296.1L212.5 296.3L219.2 297.1L221.8 296.8L225.8 295.6L228.5 295.1L231.5 294.8L234.8 295.0L238.5 295.7L241.8 297.1L244.0 298.8L244.7 299.8L245.0 300.8L245.0 301.8L244.7 302.8L244.1 303.8L243.1 304.8L240.5 306.3L237.0 307.4L234.0 307.8L230.8 307.9L227.8 307.6L223.5 306.7L221.2 306.7L214.5 308.2L205.8 309.1L196.8 310.8Z" fill="rgba(0,0,0,0.13)" stroke="#1a1a1a" stroke-width="0.7"/>
<path d="M196.5 310.1L192.5 310.2L188.5 309.9L184.8 309.2L181.8 308.1L179.5 306.8L177.8 305.1L177.1 303.3L177.5 301.3L178.3 300.1L179.4 299.1L183.0 297.1L187.5 296.0L192.8 295.5L197.0 295.8L203.2 296.8L211.5 297.0L219.2 297.9L222.2 297.6L226.5 296.3L228.8 295.8L231.5 295.6L234.2 295.7L237.8 296.4L240.6 297.6L242.5 299.1L243.4 300.8L243.2 302.6L241.9 304.3L239.3 305.8L236.2 306.7L233.5 307.1L230.8 307.1L228.0 306.8L223.8 305.9L221.2 305.9L219.0 306.2L213.5 307.6L204.3 308.6L196.5 310.1Z" fill="rgba(0,0,0,0.13)" stroke="#1a1a1a" stroke-width="0.7"/>
<path d="M193.8 309.3L190.5 309.2L187.5 308.8L184.7 308.1L182.4 307.1L180.6 305.8L179.4 304.3L179.1 302.8L179.5 301.3L180.3 300.3L181.4 299.3L184.4 297.8L188.4 296.8L192.8 296.4L196.2 296.6L202.0 297.5L209.7 297.8L215.2 298.7L217.8 298.9L223.0 298.6L227.4 297.3L229.8 296.8L233.8 296.8L236.5 297.3L239.0 298.3L240.5 299.6L241.3 301.1L241.0 302.6L239.6 304.1L237.7 305.1L234.9 305.8L230.8 306.0L224.5 304.9L220.8 304.9L217.0 305.4L210.5 307.1L203.0 307.9L197.2 309.0L193.8 309.3Z" fill="rgba(0,0,0,0.13)" stroke="#1a1a1a" stroke-width="0.7"/>
<path d="M193.5 308.1L190.8 307.9L188.2 307.6L185.8 306.8L184.2 306.1L182.8 305.1L182.0 303.8L181.8 302.8L182.2 301.6L183.6 300.1L186.1 298.8L189.5 298.0L193.2 297.7L200.0 298.4L205.8 298.4L208.8 298.7L211.6 299.8L212.7 300.8L213.2 301.8L213.3 303.1L212.8 304.3L211.8 305.3L210.0 306.1L207.2 306.7L201.0 307.0L196.5 307.8L193.5 308.1ZM222.2 303.3L220.2 303.5L218.4 303.3L217.1 302.6L216.9 302.1L217.0 301.6L217.4 301.1L218.2 300.6L220.2 300.2L223.0 300.5L224.6 301.3L224.8 301.8L224.5 302.3L223.8 302.8L222.2 303.3Z" fill="rgba(0,0,0,0.13)" stroke="#1a1a1a" stroke-width="0.7"/>
<path d="M206.8 305.8L203.2 305.9L199.7 305.1L197.7 303.8L197.3 303.1L197.4 302.1L197.9 301.3L199.1 300.6L202.1 299.6L205.5 299.3L208.1 299.8L209.2 300.5L209.8 301.3L210.2 302.3L210.1 303.6L209.8 304.3L209.0 305.1L206.8 305.8Z" fill="rgba(0,0,0,0.13)" stroke="#1a1a1a" stroke-width="0.7"/>
<path d="M206.2 304.8L204.2 304.9L202.2 304.3L201.2 303.1L201.2 302.3L201.5 301.6L202.4 300.8L204.0 300.3L205.5 300.3L207.0 300.8L207.9 301.8L208.1 303.1L207.5 304.2L206.2 304.8Z" fill="rgba(0,0,0,0.13)" stroke="#1a1a1a" stroke-width="0.7"/>
<path d="M205.2 303.8L204.2 303.8L203.4 303.3L203.0 302.6L203.4 301.8L204.8 301.4L206.0 301.8L206.3 302.3L206.3 303.1L205.9 303.6L205.2 303.8Z" fill="rgba(255,255,255,0.25)" stroke="#1a1a1a" stroke-width="0.7"/>
</g>
<rect x="112.3" y="40.5" width="38.89999999999999" height="78.7" fill="none" stroke="#000" stroke-width="1.8"/>
<line x1="112.3" y1="87.7" x2="151.2" y2="87.7" stroke="#000" stroke-width="1.8"/>
<rect x="214.8" y="40.5" width="38.19999999999999" height="78.4" fill="none" stroke="#000" stroke-width="1.8"/>
<line x1="214.8" y1="87.4" x2="253" y2="87.4" stroke="#000" stroke-width="1.8"/>
<rect x="112.6" y="140.5" width="38.80000000000001" height="78.69999999999999" fill="none" stroke="#000" stroke-width="1.8"/>
<line x1="112.6" y1="187.5" x2="151.4" y2="187.5" stroke="#000" stroke-width="1.8"/>
<rect x="214.8" y="140.5" width="38.5" height="78.69999999999999" fill="none" stroke="#000" stroke-width="1.8"/>
<line x1="214.8" y1="187.6" x2="253.3" y2="187.6" stroke="#000" stroke-width="1.8"/>
<rect x="112.6" y="240.5" width="38.400000000000006" height="78.10000000000002" fill="none" stroke="#000" stroke-width="1.8"/>
<line x1="112.6" y1="287" x2="151" y2="287" stroke="#000" stroke-width="1.8"/>
<rect x="214.8" y="241" width="38.5" height="77.80000000000001" fill="none" stroke="#000" stroke-width="1.8"/>
<line x1="214.8" y1="288.2" x2="253.3" y2="288.2" stroke="#000" stroke-width="1.8"/>
<text x="158.3" y="50.8" font-size="11" font-weight="bold" text-anchor="middle" fill="#000">33</text>
<text x="158.5" y="114" font-size="11" font-weight="bold" text-anchor="middle" fill="#000">53</text>
<text x="262" y="51" font-size="11" font-weight="bold" text-anchor="middle" fill="#000">14</text>
<text x="262" y="113.4" font-size="11" font-weight="bold" text-anchor="middle" fill="#000">56</text>
<text x="158" y="155" font-size="11" font-weight="bold" text-anchor="middle" fill="#000">29</text>
<text x="158" y="216" font-size="11" font-weight="bold" text-anchor="middle" fill="#000">14</text>
<text x="258" y="154" font-size="11" font-weight="bold" text-anchor="middle" fill="#000">1</text>
<text x="258.4" y="217.5" font-size="11" font-weight="bold" text-anchor="middle" fill="#000">5</text>
<text x="159" y="252.2" font-size="11" font-weight="bold" text-anchor="middle" fill="#000">0.3</text>
<text x="157.8" y="316.4" font-size="11" font-weight="bold" text-anchor="middle" fill="#000">7</text>
<text x="263" y="252.3" font-size="11" font-weight="bold" text-anchor="middle" fill="#000">0.2</text>
<text x="262.7" y="316.5" font-size="11" font-weight="bold" text-anchor="middle" fill="#000">20</text>
<line x1="62" y1="20.6" x2="166.5" y2="20.6" stroke="#8a8a8a" stroke-width="1.3"/>
<line x1="166.5" y1="20.6" x2="166.5" y2="120" stroke="#8a8a8a" stroke-width="1.3"/>
<line x1="62" y1="120" x2="166.5" y2="120" stroke="#222" stroke-width="1.6"/>
<line x1="62" y1="20.6" x2="62" y2="120" stroke="#333" stroke-width="1.6"/>
<line x1="60.8" y1="112.51940460775006" x2="62" y2="112.51940460775006" stroke="#555" stroke-width="0.6"/>
<line x1="60.8" y1="108.14353682021638" x2="62" y2="108.14353682021638" stroke="#555" stroke-width="0.6"/>
<line x1="60.8" y1="105.03880921550014" x2="62" y2="105.03880921550014" stroke="#555" stroke-width="0.6"/>
<line x1="60.8" y1="102.63059539224993" x2="62" y2="102.63059539224993" stroke="#555" stroke-width="0.6"/>
<line x1="60.8" y1="100.66294142796646" x2="62" y2="100.66294142796646" stroke="#555" stroke-width="0.6"/>
<line x1="60.8" y1="98.99931370564572" x2="62" y2="98.99931370564572" stroke="#555" stroke-width="0.6"/>
<line x1="60.8" y1="97.5582138232502" x2="62" y2="97.5582138232502" stroke="#555" stroke-width="0.6"/>
<line x1="60.8" y1="96.28707364043278" x2="62" y2="96.28707364043278" stroke="#555" stroke-width="0.6"/>
<line x1="60.8" y1="87.66940460775007" x2="62" y2="87.66940460775007" stroke="#555" stroke-width="0.6"/>
<line x1="60.8" y1="83.29353682021639" x2="62" y2="83.29353682021639" stroke="#555" stroke-width="0.6"/>
<line x1="60.8" y1="80.18880921550013" x2="62" y2="80.18880921550013" stroke="#555" stroke-width="0.6"/>
<line x1="60.8" y1="77.78059539224992" x2="62" y2="77.78059539224992" stroke="#555" stroke-width="0.6"/>
<line x1="60.8" y1="75.81294142796645" x2="62" y2="75.81294142796645" stroke="#555" stroke-width="0.6"/>
<line x1="60.8" y1="74.14931370564571" x2="62" y2="74.14931370564571" stroke="#555" stroke-width="0.6"/>
<line x1="60.8" y1="72.70821382325019" x2="62" y2="72.70821382325019" stroke="#555" stroke-width="0.6"/>
<line x1="60.8" y1="71.43707364043277" x2="62" y2="71.43707364043277" stroke="#555" stroke-width="0.6"/>
<line x1="60.8" y1="62.819404607750066" x2="62" y2="62.819404607750066" stroke="#555" stroke-width="0.6"/>
<line x1="60.8" y1="58.44353682021638" x2="62" y2="58.44353682021638" stroke="#555" stroke-width="0.6"/>
<line x1="60.8" y1="55.338809215500135" x2="62" y2="55.338809215500135" stroke="#555" stroke-width="0.6"/>
<line x1="60.8" y1="52.93059539224993" x2="62" y2="52.93059539224993" stroke="#555" stroke-width="0.6"/>
<line x1="60.8" y1="50.96294142796644" x2="62" y2="50.96294142796644" stroke="#555" stroke-width="0.6"/>
<line x1="60.8" y1="49.299313705645716" x2="62" y2="49.299313705645716" stroke="#555" stroke-width="0.6"/>
<line x1="60.8" y1="47.858213823250196" x2="62" y2="47.858213823250196" stroke="#555" stroke-width="0.6"/>
<line x1="60.8" y1="46.58707364043278" x2="62" y2="46.58707364043278" stroke="#555" stroke-width="0.6"/>
<line x1="60.8" y1="37.969404607750064" x2="62" y2="37.969404607750064" stroke="#555" stroke-width="0.6"/>
<line x1="60.8" y1="33.593536820216386" x2="62" y2="33.593536820216386" stroke="#555" stroke-width="0.6"/>
<line x1="60.8" y1="30.488809215500126" x2="62" y2="30.488809215500126" stroke="#555" stroke-width="0.6"/>
<line x1="60.8" y1="28.080595392249933" x2="62" y2="28.080595392249933" stroke="#555" stroke-width="0.6"/>
<line x1="60.8" y1="26.112941427966447" x2="62" y2="26.112941427966447" stroke="#555" stroke-width="0.6"/>
<line x1="60.8" y1="24.449313705645707" x2="62" y2="24.449313705645707" stroke="#555" stroke-width="0.6"/>
<line x1="60.8" y1="23.008213823250188" x2="62" y2="23.008213823250188" stroke="#555" stroke-width="0.6"/>
<line x1="60.8" y1="21.73707364043277" x2="62" y2="21.73707364043277" stroke="#555" stroke-width="0.6"/>
<line x1="166.5" y1="20.6" x2="270.6" y2="20.6" stroke="#8a8a8a" stroke-width="1.3"/>
<line x1="270.6" y1="20.6" x2="270.6" y2="120" stroke="#8a8a8a" stroke-width="1.3"/>
<line x1="166.5" y1="120" x2="270.6" y2="120" stroke="#222" stroke-width="1.6"/>
<line x1="166.5" y1="20.6" x2="166.5" y2="120" stroke="#777" stroke-width="1.5"/>
<line x1="165.3" y1="112.51940460775006" x2="166.5" y2="112.51940460775006" stroke="#555" stroke-width="0.6"/>
<line x1="165.3" y1="108.14353682021638" x2="166.5" y2="108.14353682021638" stroke="#555" stroke-width="0.6"/>
<line x1="165.3" y1="105.03880921550014" x2="166.5" y2="105.03880921550014" stroke="#555" stroke-width="0.6"/>
<line x1="165.3" y1="102.63059539224993" x2="166.5" y2="102.63059539224993" stroke="#555" stroke-width="0.6"/>
<line x1="165.3" y1="100.66294142796646" x2="166.5" y2="100.66294142796646" stroke="#555" stroke-width="0.6"/>
<line x1="165.3" y1="98.99931370564572" x2="166.5" y2="98.99931370564572" stroke="#555" stroke-width="0.6"/>
<line x1="165.3" y1="97.5582138232502" x2="166.5" y2="97.5582138232502" stroke="#555" stroke-width="0.6"/>
<line x1="165.3" y1="96.28707364043278" x2="166.5" y2="96.28707364043278" stroke="#555" stroke-width="0.6"/>
<line x1="165.3" y1="87.66940460775007" x2="166.5" y2="87.66940460775007" stroke="#555" stroke-width="0.6"/>
<line x1="165.3" y1="83.29353682021639" x2="166.5" y2="83.29353682021639" stroke="#555" stroke-width="0.6"/>
<line x1="165.3" y1="80.18880921550013" x2="166.5" y2="80.18880921550013" stroke="#555" stroke-width="0.6"/>
<line x1="165.3" y1="77.78059539224992" x2="166.5" y2="77.78059539224992" stroke="#555" stroke-width="0.6"/>
<line x1="165.3" y1="75.81294142796645" x2="166.5" y2="75.81294142796645" stroke="#555" stroke-width="0.6"/>
<line x1="165.3" y1="74.14931370564571" x2="166.5" y2="74.14931370564571" stroke="#555" stroke-width="0.6"/>
<line x1="165.3" y1="72.70821382325019" x2="166.5" y2="72.70821382325019" stroke="#555" stroke-width="0.6"/>
<line x1="165.3" y1="71.43707364043277" x2="166.5" y2="71.43707364043277" stroke="#555" stroke-width="0.6"/>
<line x1="165.3" y1="62.819404607750066" x2="166.5" y2="62.819404607750066" stroke="#555" stroke-width="0.6"/>
<line x1="165.3" y1="58.44353682021638" x2="166.5" y2="58.44353682021638" stroke="#555" stroke-width="0.6"/>
<line x1="165.3" y1="55.338809215500135" x2="166.5" y2="55.338809215500135" stroke="#555" stroke-width="0.6"/>
<line x1="165.3" y1="52.93059539224993" x2="166.5" y2="52.93059539224993" stroke="#555" stroke-width="0.6"/>
<line x1="165.3" y1="50.96294142796644" x2="166.5" y2="50.96294142796644" stroke="#555" stroke-width="0.6"/>
<line x1="165.3" y1="49.299313705645716" x2="166.5" y2="49.299313705645716" stroke="#555" stroke-width="0.6"/>
<line x1="165.3" y1="47.858213823250196" x2="166.5" y2="47.858213823250196" stroke="#555" stroke-width="0.6"/>
<line x1="165.3" y1="46.58707364043278" x2="166.5" y2="46.58707364043278" stroke="#555" stroke-width="0.6"/>
<line x1="165.3" y1="37.969404607750064" x2="166.5" y2="37.969404607750064" stroke="#555" stroke-width="0.6"/>
<line x1="165.3" y1="33.593536820216386" x2="166.5" y2="33.593536820216386" stroke="#555" stroke-width="0.6"/>
<line x1="165.3" y1="30.488809215500126" x2="166.5" y2="30.488809215500126" stroke="#555" stroke-width="0.6"/>
<line x1="165.3" y1="28.080595392249933" x2="166.5" y2="28.080595392249933" stroke="#555" stroke-width="0.6"/>
<line x1="165.3" y1="26.112941427966447" x2="166.5" y2="26.112941427966447" stroke="#555" stroke-width="0.6"/>
<line x1="165.3" y1="24.449313705645707" x2="166.5" y2="24.449313705645707" stroke="#555" stroke-width="0.6"/>
<line x1="165.3" y1="23.008213823250188" x2="166.5" y2="23.008213823250188" stroke="#555" stroke-width="0.6"/>
<line x1="165.3" y1="21.73707364043277" x2="166.5" y2="21.73707364043277" stroke="#555" stroke-width="0.6"/>
<text x="62.6" y="25.6" font-size="7" font-weight="bold" text-anchor="end" fill="#000">10000</text>
<text x="62.6" y="50.45" font-size="7" font-weight="bold" text-anchor="end" fill="#000">1000</text>
<text x="62.6" y="75.30000000000001" font-size="7" font-weight="bold" text-anchor="end" fill="#000">100</text>
<text x="62.6" y="100.15" font-size="7" font-weight="bold" text-anchor="end" fill="#000">10</text>
<line x1="166.5" y1="120" x2="166.5" y2="220.3" stroke="#8a8a8a" stroke-width="1.3"/>
<line x1="62" y1="220.3" x2="166.5" y2="220.3" stroke="#222" stroke-width="1.6"/>
<line x1="62" y1="120" x2="62" y2="220.3" stroke="#333" stroke-width="1.6"/>
<line x1="60.8" y1="212.75167285872567" x2="62" y2="212.75167285872567" stroke="#555" stroke-width="0.6"/>
<line x1="60.8" y1="208.33618453790447" x2="62" y2="208.33618453790447" stroke="#555" stroke-width="0.6"/>
<line x1="60.8" y1="205.20334571745136" x2="62" y2="205.20334571745136" stroke="#555" stroke-width="0.6"/>
<line x1="60.8" y1="202.77332714127434" x2="62" y2="202.77332714127434" stroke="#555" stroke-width="0.6"/>
<line x1="60.8" y1="200.78785739663016" x2="62" y2="200.78785739663016" stroke="#555" stroke-width="0.6"/>
<line x1="60.8" y1="199.1091666466425" x2="62" y2="199.1091666466425" stroke="#555" stroke-width="0.6"/>
<line x1="60.8" y1="197.655018576177" x2="62" y2="197.655018576177" stroke="#555" stroke-width="0.6"/>
<line x1="60.8" y1="196.37236907580893" x2="62" y2="196.37236907580893" stroke="#555" stroke-width="0.6"/>
<line x1="60.8" y1="187.67667285872568" x2="62" y2="187.67667285872568" stroke="#555" stroke-width="0.6"/>
<line x1="60.8" y1="183.26118453790446" x2="62" y2="183.26118453790446" stroke="#555" stroke-width="0.6"/>
<line x1="60.8" y1="180.12834571745134" x2="62" y2="180.12834571745134" stroke="#555" stroke-width="0.6"/>
<line x1="60.8" y1="177.69832714127432" x2="62" y2="177.69832714127432" stroke="#555" stroke-width="0.6"/>
<line x1="60.8" y1="175.71285739663014" x2="62" y2="175.71285739663014" stroke="#555" stroke-width="0.6"/>
<line x1="60.8" y1="174.03416664664252" x2="62" y2="174.03416664664252" stroke="#555" stroke-width="0.6"/>
<line x1="60.8" y1="172.58001857617703" x2="62" y2="172.58001857617703" stroke="#555" stroke-width="0.6"/>
<line x1="60.8" y1="171.29736907580894" x2="62" y2="171.29736907580894" stroke="#555" stroke-width="0.6"/>
<line x1="60.8" y1="162.6016728587257" x2="62" y2="162.6016728587257" stroke="#555" stroke-width="0.6"/>
<line x1="60.8" y1="158.18618453790447" x2="62" y2="158.18618453790447" stroke="#555" stroke-width="0.6"/>
<line x1="60.8" y1="155.05334571745135" x2="62" y2="155.05334571745135" stroke="#555" stroke-width="0.6"/>
<line x1="60.8" y1="152.62332714127433" x2="62" y2="152.62332714127433" stroke="#555" stroke-width="0.6"/>
<line x1="60.8" y1="150.63785739663012" x2="62" y2="150.63785739663012" stroke="#555" stroke-width="0.6"/>
<line x1="60.8" y1="148.95916664664253" x2="62" y2="148.95916664664253" stroke="#555" stroke-width="0.6"/>
<line x1="60.8" y1="147.505018576177" x2="62" y2="147.505018576177" stroke="#555" stroke-width="0.6"/>
<line x1="60.8" y1="146.22236907580893" x2="62" y2="146.22236907580893" stroke="#555" stroke-width="0.6"/>
<line x1="60.8" y1="137.52667285872568" x2="62" y2="137.52667285872568" stroke="#555" stroke-width="0.6"/>
<line x1="60.8" y1="133.11118453790448" x2="62" y2="133.11118453790448" stroke="#555" stroke-width="0.6"/>
<line x1="60.8" y1="129.97834571745136" x2="62" y2="129.97834571745136" stroke="#555" stroke-width="0.6"/>
<line x1="60.8" y1="127.54832714127433" x2="62" y2="127.54832714127433" stroke="#555" stroke-width="0.6"/>
<line x1="60.8" y1="125.56285739663014" x2="62" y2="125.56285739663014" stroke="#555" stroke-width="0.6"/>
<line x1="60.8" y1="123.88416664664251" x2="62" y2="123.88416664664251" stroke="#555" stroke-width="0.6"/>
<line x1="60.8" y1="122.430018576177" x2="62" y2="122.430018576177" stroke="#555" stroke-width="0.6"/>
<line x1="60.8" y1="121.14736907580892" x2="62" y2="121.14736907580892" stroke="#555" stroke-width="0.6"/>
<line x1="270.6" y1="120" x2="270.6" y2="220.3" stroke="#8a8a8a" stroke-width="1.3"/>
<line x1="166.5" y1="220.3" x2="270.6" y2="220.3" stroke="#222" stroke-width="1.6"/>
<line x1="166.5" y1="120" x2="166.5" y2="220.3" stroke="#777" stroke-width="1.5"/>
<line x1="165.3" y1="212.75167285872567" x2="166.5" y2="212.75167285872567" stroke="#555" stroke-width="0.6"/>
<line x1="165.3" y1="208.33618453790447" x2="166.5" y2="208.33618453790447" stroke="#555" stroke-width="0.6"/>
<line x1="165.3" y1="205.20334571745136" x2="166.5" y2="205.20334571745136" stroke="#555" stroke-width="0.6"/>
<line x1="165.3" y1="202.77332714127434" x2="166.5" y2="202.77332714127434" stroke="#555" stroke-width="0.6"/>
<line x1="165.3" y1="200.78785739663016" x2="166.5" y2="200.78785739663016" stroke="#555" stroke-width="0.6"/>
<line x1="165.3" y1="199.1091666466425" x2="166.5" y2="199.1091666466425" stroke="#555" stroke-width="0.6"/>
<line x1="165.3" y1="197.655018576177" x2="166.5" y2="197.655018576177" stroke="#555" stroke-width="0.6"/>
<line x1="165.3" y1="196.37236907580893" x2="166.5" y2="196.37236907580893" stroke="#555" stroke-width="0.6"/>
<line x1="165.3" y1="187.67667285872568" x2="166.5" y2="187.67667285872568" stroke="#555" stroke-width="0.6"/>
<line x1="165.3" y1="183.26118453790446" x2="166.5" y2="183.26118453790446" stroke="#555" stroke-width="0.6"/>
<line x1="165.3" y1="180.12834571745134" x2="166.5" y2="180.12834571745134" stroke="#555" stroke-width="0.6"/>
<line x1="165.3" y1="177.69832714127432" x2="166.5" y2="177.69832714127432" stroke="#555" stroke-width="0.6"/>
<line x1="165.3" y1="175.71285739663014" x2="166.5" y2="175.71285739663014" stroke="#555" stroke-width="0.6"/>
<line x1="165.3" y1="174.03416664664252" x2="166.5" y2="174.03416664664252" stroke="#555" stroke-width="0.6"/>
<line x1="165.3" y1="172.58001857617703" x2="166.5" y2="172.58001857617703" stroke="#555" stroke-width="0.6"/>
<line x1="165.3" y1="171.29736907580894" x2="166.5" y2="171.29736907580894" stroke="#555" stroke-width="0.6"/>
<line x1="165.3" y1="162.6016728587257" x2="166.5" y2="162.6016728587257" stroke="#555" stroke-width="0.6"/>
<line x1="165.3" y1="158.18618453790447" x2="166.5" y2="158.18618453790447" stroke="#555" stroke-width="0.6"/>
<line x1="165.3" y1="155.05334571745135" x2="166.5" y2="155.05334571745135" stroke="#555" stroke-width="0.6"/>
<line x1="165.3" y1="152.62332714127433" x2="166.5" y2="152.62332714127433" stroke="#555" stroke-width="0.6"/>
<line x1="165.3" y1="150.63785739663012" x2="166.5" y2="150.63785739663012" stroke="#555" stroke-width="0.6"/>
<line x1="165.3" y1="148.95916664664253" x2="166.5" y2="148.95916664664253" stroke="#555" stroke-width="0.6"/>
<line x1="165.3" y1="147.505018576177" x2="166.5" y2="147.505018576177" stroke="#555" stroke-width="0.6"/>
<line x1="165.3" y1="146.22236907580893" x2="166.5" y2="146.22236907580893" stroke="#555" stroke-width="0.6"/>
<line x1="165.3" y1="137.52667285872568" x2="166.5" y2="137.52667285872568" stroke="#555" stroke-width="0.6"/>
<line x1="165.3" y1="133.11118453790448" x2="166.5" y2="133.11118453790448" stroke="#555" stroke-width="0.6"/>
<line x1="165.3" y1="129.97834571745136" x2="166.5" y2="129.97834571745136" stroke="#555" stroke-width="0.6"/>
<line x1="165.3" y1="127.54832714127433" x2="166.5" y2="127.54832714127433" stroke="#555" stroke-width="0.6"/>
<line x1="165.3" y1="125.56285739663014" x2="166.5" y2="125.56285739663014" stroke="#555" stroke-width="0.6"/>
<line x1="165.3" y1="123.88416664664251" x2="166.5" y2="123.88416664664251" stroke="#555" stroke-width="0.6"/>
<line x1="165.3" y1="122.430018576177" x2="166.5" y2="122.430018576177" stroke="#555" stroke-width="0.6"/>
<line x1="165.3" y1="121.14736907580892" x2="166.5" y2="121.14736907580892" stroke="#555" stroke-width="0.6"/>
<text x="62.6" y="125.0" font-size="7" font-weight="bold" text-anchor="end" fill="#000">10000</text>
<text x="62.6" y="150.075" font-size="7" font-weight="bold" text-anchor="end" fill="#000">1000</text>
<text x="62.6" y="175.15" font-size="7" font-weight="bold" text-anchor="end" fill="#000">100</text>
<text x="62.6" y="200.22500000000002" font-size="7" font-weight="bold" text-anchor="end" fill="#000">10</text>
<line x1="166.5" y1="220.3" x2="166.5" y2="319.2" stroke="#8a8a8a" stroke-width="1.3"/>
<line x1="62" y1="319.2" x2="166.5" y2="319.2" stroke="#222" stroke-width="1.6"/>
<line x1="62" y1="220.3" x2="62" y2="319.2" stroke="#333" stroke-width="1.6"/>
<line x1="60.8" y1="311.75703335720806" x2="62" y2="311.75703335720806" stroke="#555" stroke-width="0.6"/>
<line x1="60.8" y1="307.4031769770563" x2="62" y2="307.4031769770563" stroke="#555" stroke-width="0.6"/>
<line x1="60.8" y1="304.31406671441613" x2="62" y2="304.31406671441613" stroke="#555" stroke-width="0.6"/>
<line x1="60.8" y1="301.91796664279195" x2="62" y2="301.91796664279195" stroke="#555" stroke-width="0.6"/>
<line x1="60.8" y1="299.9602103342644" x2="62" y2="299.9602103342644" stroke="#555" stroke-width="0.6"/>
<line x1="60.8" y1="298.3049509606475" x2="62" y2="298.3049509606475" stroke="#555" stroke-width="0.6"/>
<line x1="60.8" y1="296.8711000716242" x2="62" y2="296.8711000716242" stroke="#555" stroke-width="0.6"/>
<line x1="60.8" y1="295.6063539541127" x2="62" y2="295.6063539541127" stroke="#555" stroke-width="0.6"/>
<line x1="60.8" y1="287.03203335720804" x2="62" y2="287.03203335720804" stroke="#555" stroke-width="0.6"/>
<line x1="60.8" y1="282.67817697705635" x2="62" y2="282.67817697705635" stroke="#555" stroke-width="0.6"/>
<line x1="60.8" y1="279.5890667144161" x2="62" y2="279.5890667144161" stroke="#555" stroke-width="0.6"/>
<line x1="60.8" y1="277.19296664279193" x2="62" y2="277.19296664279193" stroke="#555" stroke-width="0.6"/>
<line x1="60.8" y1="275.2352103342644" x2="62" y2="275.2352103342644" stroke="#555" stroke-width="0.6"/>
<line x1="60.8" y1="273.57995096064747" x2="62" y2="273.57995096064747" stroke="#555" stroke-width="0.6"/>
<line x1="60.8" y1="272.1461000716242" x2="62" y2="272.1461000716242" stroke="#555" stroke-width="0.6"/>
<line x1="60.8" y1="270.8813539541127" x2="62" y2="270.8813539541127" stroke="#555" stroke-width="0.6"/>
<line x1="60.8" y1="262.30703335720807" x2="62" y2="262.30703335720807" stroke="#555" stroke-width="0.6"/>
<line x1="60.8" y1="257.95317697705633" x2="62" y2="257.95317697705633" stroke="#555" stroke-width="0.6"/>
<line x1="60.8" y1="254.86406671441614" x2="62" y2="254.86406671441614" stroke="#555" stroke-width="0.6"/>
<line x1="60.8" y1="252.46796664279194" x2="62" y2="252.46796664279194" stroke="#555" stroke-width="0.6"/>
<line x1="60.8" y1="250.5102103342644" x2="62" y2="250.5102103342644" stroke="#555" stroke-width="0.6"/>
<line x1="60.8" y1="248.8549509606475" x2="62" y2="248.8549509606475" stroke="#555" stroke-width="0.6"/>
<line x1="60.8" y1="247.4211000716242" x2="62" y2="247.4211000716242" stroke="#555" stroke-width="0.6"/>
<line x1="60.8" y1="246.15635395411272" x2="62" y2="246.15635395411272" stroke="#555" stroke-width="0.6"/>
<line x1="60.8" y1="237.58203335720808" x2="62" y2="237.58203335720808" stroke="#555" stroke-width="0.6"/>
<line x1="60.8" y1="233.22817697705636" x2="62" y2="233.22817697705636" stroke="#555" stroke-width="0.6"/>
<line x1="60.8" y1="230.13906671441612" x2="62" y2="230.13906671441612" stroke="#555" stroke-width="0.6"/>
<line x1="60.8" y1="227.74296664279194" x2="62" y2="227.74296664279194" stroke="#555" stroke-width="0.6"/>
<line x1="60.8" y1="225.78521033426443" x2="62" y2="225.78521033426443" stroke="#555" stroke-width="0.6"/>
<line x1="60.8" y1="224.1299509606475" x2="62" y2="224.1299509606475" stroke="#555" stroke-width="0.6"/>
<line x1="60.8" y1="222.6961000716242" x2="62" y2="222.6961000716242" stroke="#555" stroke-width="0.6"/>
<line x1="60.8" y1="221.4313539541127" x2="62" y2="221.4313539541127" stroke="#555" stroke-width="0.6"/>
<line x1="270.6" y1="220.3" x2="270.6" y2="319.2" stroke="#8a8a8a" stroke-width="1.3"/>
<line x1="166.5" y1="319.2" x2="270.6" y2="319.2" stroke="#222" stroke-width="1.6"/>
<line x1="166.5" y1="220.3" x2="166.5" y2="319.2" stroke="#777" stroke-width="1.5"/>
<line x1="165.3" y1="311.75703335720806" x2="166.5" y2="311.75703335720806" stroke="#555" stroke-width="0.6"/>
<line x1="165.3" y1="307.4031769770563" x2="166.5" y2="307.4031769770563" stroke="#555" stroke-width="0.6"/>
<line x1="165.3" y1="304.31406671441613" x2="166.5" y2="304.31406671441613" stroke="#555" stroke-width="0.6"/>
<line x1="165.3" y1="301.91796664279195" x2="166.5" y2="301.91796664279195" stroke="#555" stroke-width="0.6"/>
<line x1="165.3" y1="299.9602103342644" x2="166.5" y2="299.9602103342644" stroke="#555" stroke-width="0.6"/>
<line x1="165.3" y1="298.3049509606475" x2="166.5" y2="298.3049509606475" stroke="#555" stroke-width="0.6"/>
<line x1="165.3" y1="296.8711000716242" x2="166.5" y2="296.8711000716242" stroke="#555" stroke-width="0.6"/>
<line x1="165.3" y1="295.6063539541127" x2="166.5" y2="295.6063539541127" stroke="#555" stroke-width="0.6"/>
<line x1="165.3" y1="287.03203335720804" x2="166.5" y2="287.03203335720804" stroke="#555" stroke-width="0.6"/>
<line x1="165.3" y1="282.67817697705635" x2="166.5" y2="282.67817697705635" stroke="#555" stroke-width="0.6"/>
<line x1="165.3" y1="279.5890667144161" x2="166.5" y2="279.5890667144161" stroke="#555" stroke-width="0.6"/>
<line x1="165.3" y1="277.19296664279193" x2="166.5" y2="277.19296664279193" stroke="#555" stroke-width="0.6"/>
<line x1="165.3" y1="275.2352103342644" x2="166.5" y2="275.2352103342644" stroke="#555" stroke-width="0.6"/>
<line x1="165.3" y1="273.57995096064747" x2="166.5" y2="273.57995096064747" stroke="#555" stroke-width="0.6"/>
<line x1="165.3" y1="272.1461000716242" x2="166.5" y2="272.1461000716242" stroke="#555" stroke-width="0.6"/>
<line x1="165.3" y1="270.8813539541127" x2="166.5" y2="270.8813539541127" stroke="#555" stroke-width="0.6"/>
<line x1="165.3" y1="262.30703335720807" x2="166.5" y2="262.30703335720807" stroke="#555" stroke-width="0.6"/>
<line x1="165.3" y1="257.95317697705633" x2="166.5" y2="257.95317697705633" stroke="#555" stroke-width="0.6"/>
<line x1="165.3" y1="254.86406671441614" x2="166.5" y2="254.86406671441614" stroke="#555" stroke-width="0.6"/>
<line x1="165.3" y1="252.46796664279194" x2="166.5" y2="252.46796664279194" stroke="#555" stroke-width="0.6"/>
<line x1="165.3" y1="250.5102103342644" x2="166.5" y2="250.5102103342644" stroke="#555" stroke-width="0.6"/>
<line x1="165.3" y1="248.8549509606475" x2="166.5" y2="248.8549509606475" stroke="#555" stroke-width="0.6"/>
<line x1="165.3" y1="247.4211000716242" x2="166.5" y2="247.4211000716242" stroke="#555" stroke-width="0.6"/>
<line x1="165.3" y1="246.15635395411272" x2="166.5" y2="246.15635395411272" stroke="#555" stroke-width="0.6"/>
<line x1="165.3" y1="237.58203335720808" x2="166.5" y2="237.58203335720808" stroke="#555" stroke-width="0.6"/>
<line x1="165.3" y1="233.22817697705636" x2="166.5" y2="233.22817697705636" stroke="#555" stroke-width="0.6"/>
<line x1="165.3" y1="230.13906671441612" x2="166.5" y2="230.13906671441612" stroke="#555" stroke-width="0.6"/>
<line x1="165.3" y1="227.74296664279194" x2="166.5" y2="227.74296664279194" stroke="#555" stroke-width="0.6"/>
<line x1="165.3" y1="225.78521033426443" x2="166.5" y2="225.78521033426443" stroke="#555" stroke-width="0.6"/>
<line x1="165.3" y1="224.1299509606475" x2="166.5" y2="224.1299509606475" stroke="#555" stroke-width="0.6"/>
<line x1="165.3" y1="222.6961000716242" x2="166.5" y2="222.6961000716242" stroke="#555" stroke-width="0.6"/>
<line x1="165.3" y1="221.4313539541127" x2="166.5" y2="221.4313539541127" stroke="#555" stroke-width="0.6"/>
<text x="62.6" y="225.3" font-size="7" font-weight="bold" text-anchor="end" fill="#000">10000</text>
<text x="62.6" y="250.025" font-size="7" font-weight="bold" text-anchor="end" fill="#000">1000</text>
<text x="62.6" y="274.75" font-size="7" font-weight="bold" text-anchor="end" fill="#000">100</text>
<text x="62.6" y="299.475" font-size="7" font-weight="bold" text-anchor="end" fill="#000">10</text>
<text x="59.5" y="323.2" font-size="7" font-weight="bold" text-anchor="end" fill="#000">1</text>
<text x="62.0" y="331" font-size="7" font-weight="bold" text-anchor="middle" fill="#000">1</text>
<text x="88.125" y="331" font-size="7" font-weight="bold" text-anchor="middle" fill="#000">10</text>
<text x="114.25" y="331" font-size="7" font-weight="bold" text-anchor="middle" fill="#000">100</text>
<text x="140.375" y="331" font-size="7" font-weight="bold" text-anchor="middle" fill="#000">1000</text>
<text x="166.5" y="331" font-size="7" font-weight="bold" text-anchor="middle" fill="#000">10000</text>
<line x1="62.0" y1="319.2" x2="62.0" y2="320.7" stroke="#444" stroke-width="0.6"/>
<line x1="69.8644086367215" y1="319.2" x2="69.8644086367215" y2="320.7" stroke="#444" stroke-width="0.6"/>
<line x1="74.46479277955117" y1="319.2" x2="74.46479277955117" y2="320.7" stroke="#444" stroke-width="0.6"/>
<line x1="77.72881727344301" y1="319.2" x2="77.72881727344301" y2="320.7" stroke="#444" stroke-width="0.6"/>
<line x1="80.2605913632785" y1="319.2" x2="80.2605913632785" y2="320.7" stroke="#444" stroke-width="0.6"/>
<line x1="82.3292014162727" y1="319.2" x2="82.3292014162727" y2="320.7" stroke="#444" stroke-width="0.6"/>
<line x1="84.07818629537246" y1="319.2" x2="84.07818629537246" y2="320.7" stroke="#444" stroke-width="0.6"/>
<line x1="85.59322591016452" y1="319.2" x2="85.59322591016452" y2="320.7" stroke="#444" stroke-width="0.6"/>
<line x1="86.92958555910236" y1="319.2" x2="86.92958555910236" y2="320.7" stroke="#444" stroke-width="0.6"/>
<line x1="88.125" y1="319.2" x2="88.125" y2="320.7" stroke="#444" stroke-width="0.6"/>
<line x1="95.9894086367215" y1="319.2" x2="95.9894086367215" y2="320.7" stroke="#444" stroke-width="0.6"/>
<line x1="100.58979277955117" y1="319.2" x2="100.58979277955117" y2="320.7" stroke="#444" stroke-width="0.6"/>
<line x1="103.85381727344301" y1="319.2" x2="103.85381727344301" y2="320.7" stroke="#444" stroke-width="0.6"/>
<line x1="106.3855913632785" y1="319.2" x2="106.3855913632785" y2="320.7" stroke="#444" stroke-width="0.6"/>
<line x1="108.4542014162727" y1="319.2" x2="108.4542014162727" y2="320.7" stroke="#444" stroke-width="0.6"/>
<line x1="110.20318629537246" y1="319.2" x2="110.20318629537246" y2="320.7" stroke="#444" stroke-width="0.6"/>
<line x1="111.71822591016453" y1="319.2" x2="111.71822591016453" y2="320.7" stroke="#444" stroke-width="0.6"/>
<line x1="113.05458555910235" y1="319.2" x2="113.05458555910235" y2="320.7" stroke="#444" stroke-width="0.6"/>
<line x1="114.25" y1="319.2" x2="114.25" y2="320.7" stroke="#444" stroke-width="0.6"/>
<line x1="122.1144086367215" y1="319.2" x2="122.1144086367215" y2="320.7" stroke="#444" stroke-width="0.6"/>
<line x1="126.71479277955119" y1="319.2" x2="126.71479277955119" y2="320.7" stroke="#444" stroke-width="0.6"/>
<line x1="129.978817273443" y1="319.2" x2="129.978817273443" y2="320.7" stroke="#444" stroke-width="0.6"/>
<line x1="132.51059136327848" y1="319.2" x2="132.51059136327848" y2="320.7" stroke="#444" stroke-width="0.6"/>
<line x1="134.5792014162727" y1="319.2" x2="134.5792014162727" y2="320.7" stroke="#444" stroke-width="0.6"/>
<line x1="136.32818629537246" y1="319.2" x2="136.32818629537246" y2="320.7" stroke="#444" stroke-width="0.6"/>
<line x1="137.84322591016453" y1="319.2" x2="137.84322591016453" y2="320.7" stroke="#444" stroke-width="0.6"/>
<line x1="139.17958555910235" y1="319.2" x2="139.17958555910235" y2="320.7" stroke="#444" stroke-width="0.6"/>
<line x1="140.375" y1="319.2" x2="140.375" y2="320.7" stroke="#444" stroke-width="0.6"/>
<line x1="148.23940863672152" y1="319.2" x2="148.23940863672152" y2="320.7" stroke="#444" stroke-width="0.6"/>
<line x1="152.8397927795512" y1="319.2" x2="152.8397927795512" y2="320.7" stroke="#444" stroke-width="0.6"/>
<line x1="156.103817273443" y1="319.2" x2="156.103817273443" y2="320.7" stroke="#444" stroke-width="0.6"/>
<line x1="158.63559136327848" y1="319.2" x2="158.63559136327848" y2="320.7" stroke="#444" stroke-width="0.6"/>
<line x1="160.7042014162727" y1="319.2" x2="160.7042014162727" y2="320.7" stroke="#444" stroke-width="0.6"/>
<line x1="162.45318629537246" y1="319.2" x2="162.45318629537246" y2="320.7" stroke="#444" stroke-width="0.6"/>
<line x1="163.96822591016453" y1="319.2" x2="163.96822591016453" y2="320.7" stroke="#444" stroke-width="0.6"/>
<line x1="165.30458555910235" y1="319.2" x2="165.30458555910235" y2="320.7" stroke="#444" stroke-width="0.6"/>
<text x="192.525" y="331" font-size="7" font-weight="bold" text-anchor="middle" fill="#000">10</text>
<text x="218.55" y="331" font-size="7" font-weight="bold" text-anchor="middle" fill="#000">100</text>
<text x="244.57500000000002" y="331" font-size="7" font-weight="bold" text-anchor="middle" fill="#000">1000</text>
<text x="270.6" y="331" font-size="7" font-weight="bold" text-anchor="middle" fill="#000">10000</text>
<line x1="166.5" y1="319.2" x2="166.5" y2="320.7" stroke="#444" stroke-width="0.6"/>
<line x1="174.33430563715513" y1="319.2" x2="174.33430563715513" y2="320.7" stroke="#444" stroke-width="0.6"/>
<line x1="178.91708065407923" y1="319.2" x2="178.91708065407923" y2="320.7" stroke="#444" stroke-width="0.6"/>
<line x1="182.16861127431022" y1="319.2" x2="182.16861127431022" y2="320.7" stroke="#444" stroke-width="0.6"/>
<line x1="184.6906943628449" y1="319.2" x2="184.6906943628449" y2="320.7" stroke="#444" stroke-width="0.6"/>
<line x1="186.75138629123433" y1="319.2" x2="186.75138629123433" y2="320.7" stroke="#444" stroke-width="0.6"/>
<line x1="188.49367649137105" y1="319.2" x2="188.49367649137105" y2="320.7" stroke="#444" stroke-width="0.6"/>
<line x1="190.00291691146532" y1="319.2" x2="190.00291691146532" y2="320.7" stroke="#444" stroke-width="0.6"/>
<line x1="191.33416130815843" y1="319.2" x2="191.33416130815843" y2="320.7" stroke="#444" stroke-width="0.6"/>
<line x1="192.525" y1="319.2" x2="192.525" y2="320.7" stroke="#444" stroke-width="0.6"/>
<line x1="200.3593056371551" y1="319.2" x2="200.3593056371551" y2="320.7" stroke="#444" stroke-width="0.6"/>
<line x1="204.94208065407923" y1="319.2" x2="204.94208065407923" y2="320.7" stroke="#444" stroke-width="0.6"/>
<line x1="208.19361127431023" y1="319.2" x2="208.19361127431023" y2="320.7" stroke="#444" stroke-width="0.6"/>
<line x1="210.71569436284489" y1="319.2" x2="210.71569436284489" y2="320.7" stroke="#444" stroke-width="0.6"/>
<line x1="212.77638629123433" y1="319.2" x2="212.77638629123433" y2="320.7" stroke="#444" stroke-width="0.6"/>
<line x1="214.51867649137105" y1="319.2" x2="214.51867649137105" y2="320.7" stroke="#444" stroke-width="0.6"/>
<line x1="216.02791691146535" y1="319.2" x2="216.02791691146535" y2="320.7" stroke="#444" stroke-width="0.6"/>
<line x1="217.35916130815843" y1="319.2" x2="217.35916130815843" y2="320.7" stroke="#444" stroke-width="0.6"/>
<line x1="218.55" y1="319.2" x2="218.55" y2="320.7" stroke="#444" stroke-width="0.6"/>
<line x1="226.38430563715514" y1="319.2" x2="226.38430563715514" y2="320.7" stroke="#444" stroke-width="0.6"/>
<line x1="230.96708065407924" y1="319.2" x2="230.96708065407924" y2="320.7" stroke="#444" stroke-width="0.6"/>
<line x1="234.21861127431023" y1="319.2" x2="234.21861127431023" y2="320.7" stroke="#444" stroke-width="0.6"/>
<line x1="236.74069436284492" y1="319.2" x2="236.74069436284492" y2="320.7" stroke="#444" stroke-width="0.6"/>
<line x1="238.80138629123434" y1="319.2" x2="238.80138629123434" y2="320.7" stroke="#444" stroke-width="0.6"/>
<line x1="240.54367649137106" y1="319.2" x2="240.54367649137106" y2="320.7" stroke="#444" stroke-width="0.6"/>
<line x1="242.05291691146536" y1="319.2" x2="242.05291691146536" y2="320.7" stroke="#444" stroke-width="0.6"/>
<line x1="243.38416130815844" y1="319.2" x2="243.38416130815844" y2="320.7" stroke="#444" stroke-width="0.6"/>
<line x1="244.57500000000002" y1="319.2" x2="244.57500000000002" y2="320.7" stroke="#444" stroke-width="0.6"/>
<line x1="252.40930563715511" y1="319.2" x2="252.40930563715511" y2="320.7" stroke="#444" stroke-width="0.6"/>
<line x1="256.99208065407925" y1="319.2" x2="256.99208065407925" y2="320.7" stroke="#444" stroke-width="0.6"/>
<line x1="260.24361127431024" y1="319.2" x2="260.24361127431024" y2="320.7" stroke="#444" stroke-width="0.6"/>
<line x1="262.7656943628449" y1="319.2" x2="262.7656943628449" y2="320.7" stroke="#444" stroke-width="0.6"/>
<line x1="264.82638629123437" y1="319.2" x2="264.82638629123437" y2="320.7" stroke="#444" stroke-width="0.6"/>
<line x1="266.5686764913711" y1="319.2" x2="266.5686764913711" y2="320.7" stroke="#444" stroke-width="0.6"/>
<line x1="268.07791691146537" y1="319.2" x2="268.07791691146537" y2="320.7" stroke="#444" stroke-width="0.6"/>
<line x1="269.40916130815845" y1="319.2" x2="269.40916130815845" y2="320.7" stroke="#444" stroke-width="0.6"/>
<text x="25.6" y="65.6" font-size="17" font-weight="bold" text-anchor="middle" fill="#000" transform="rotate(-90 25.6 65.6)">LP</text>
<text x="25.8" y="164.8" font-size="17" font-weight="bold" text-anchor="middle" fill="#000" transform="rotate(-90 25.8 164.8)">MLN</text>
<text x="25.8" y="263.5" font-size="17" font-weight="bold" text-anchor="middle" fill="#000" transform="rotate(-90 25.8 263.5)">SPL</text>
<text x="45.8" y="167" font-size="17.5" font-weight="bold" text-anchor="middle" textLength="50.5" lengthAdjust="spacingAndGlyphs" transform="rotate(-90 45.8 167)">CCR7</text>
<line x1="39.5" y1="28" x2="39.5" y2="135.4" stroke="#000" stroke-width="1.8"/>
<line x1="39.5" y1="199.2" x2="39.5" y2="314" stroke="#000" stroke-width="1.8"/>
<path d="M35.7,29.6 L39.5,21.8 L43.4,29.6 Z" fill="#000" stroke="#000" stroke-width="0.5" stroke-linejoin="round"/>
<path d="M36.2,313.5 L39.5,320.6 L42.7,313.5 Z" fill="#000" stroke="#000" stroke-width="0.5" stroke-linejoin="round"/>
<text x="164.6" y="342.3" font-size="17" font-weight="bold" text-anchor="middle" fill="#000">CD103</text>
<line x1="66" y1="340.4" x2="134" y2="340.4" stroke="#000" stroke-width="1.8"/>
<line x1="195" y1="340.4" x2="262" y2="340.4" stroke="#000" stroke-width="1.8"/>
<path d="M60.4,340.4 L67.5,337.0 L67.5,343.8 Z" fill="#000" stroke="#000" stroke-width="0.5" stroke-linejoin="round"/>
<path d="M268.6,340.4 L261.5,337.0 L261.5,343.8 Z" fill="#000" stroke="#000" stroke-width="0.5" stroke-linejoin="round"/>
<text x="288" y="10.9" font-size="14" font-weight="bold" text-anchor="start" fill="#000">D</text>
<text x="361.5" y="14.5" font-size="17" font-weight="bold" text-anchor="middle" fill="#000">PBS</text>
<text x="455.5" y="13.4" font-size="17" font-weight="bold" text-anchor="middle" fill="#000">Anti-CD3</text>
<path d="M314.3,56.5 L316.0,99.3 L317.5,106.8 L319.6,103.5 L321.8,90.7 L323.9,87.5 L326.0,88.6 L328.2,73.6 L329.2,61.8 L331.4,59.7 L332.5,49.0 L334.0,51.1 L334.6,46.9 L335.7,21.2 L336.7,20.1 L337.4,30.8 L338.2,60.8 L338.9,80.0 L339.9,75.7 L341.7,77.9 L343.1,91.8 L344.2,98.2 L345.3,90.7 L346.4,82.2 L347.4,88.6 L348.5,81.1 L349.6,75.7 L350.6,84.3 L351.7,77.9 L353.8,69.3 L356.0,54.4 L358.1,45.8 L359.2,42.6 L361.3,41.5 L363.0,34.0 L363.9,35.1 L365.2,56.5 L366.7,73.6 L368.8,86.4 L372.0,103.5 L375.2,118.5" fill="none" stroke="#444" stroke-width="1.0" stroke-linejoin="round"/>
<line x1="344.2" y1="71.9" x2="408.8" y2="71.9" stroke="#3a3a3a" stroke-width="1.7"/>
<line x1="344.2" y1="69.9" x2="344.2" y2="73.9" stroke="#3a3a3a" stroke-width="1"/>
<line x1="408.8" y1="69.9" x2="408.8" y2="73.9" stroke="#3a3a3a" stroke-width="1"/>
<text x="391.5" y="68.9" font-size="11" font-weight="bold" text-anchor="middle" fill="#000">51.5</text>
<path d="M409.4,102.5 L410.3,107.8 L411.3,113.2 L413.5,108.9 L415.0,112.1 L416.7,103.5 L418.4,105.7 L419.9,101.4 L421.4,88.6 L423.1,72.5 L424.8,65.0 L425.9,53.3 L427.4,59.7 L428.5,55.4 L429.5,41.5 L430.6,24.4 L431.2,20.1 L432.1,26.6 L432.9,50.1 L434.2,56.5 L435.5,64.0 L437.0,61.8 L438.5,71.5 L439.1,87.5 L440.2,80.0 L441.3,82.2 L442.4,86.4 L443.4,81.1 L444.5,84.3 L446.6,88.6 L448.3,77.9 L449.8,65.0 L451.3,73.6 L452.6,75.7 L454.1,69.3 L455.2,72.5 L457.3,65.0 L459.0,50.1 L459.9,52.2 L461.2,67.2 L462.0,53.3 L462.9,54.4 L463.7,71.5 L464.8,95.0 L466.9,101.4 L468.4,107.8 L470.2,114.2 L472.3,117.4 L474.4,118.5" fill="none" stroke="#444" stroke-width="1.0" stroke-linejoin="round"/>
<line x1="438.5" y1="71.5" x2="503.3" y2="71.5" stroke="#3a3a3a" stroke-width="1.7"/>
<line x1="438.5" y1="69.5" x2="438.5" y2="73.5" stroke="#3a3a3a" stroke-width="1"/>
<line x1="503.3" y1="69.5" x2="503.3" y2="73.5" stroke="#3a3a3a" stroke-width="1"/>
<text x="483.2" y="68.3" font-size="11" font-weight="bold" text-anchor="middle" fill="#000">52.4</text>
<path d="M314.7,215.3 L316.4,212.1 L319.6,205.7 L322.8,197.1 L325.0,186.4 L327.1,171.5 L328.8,162.9 L330.3,150.1 L331.4,141.5 L332.5,135.1 L333.5,130.8 L334.6,126.6 L335.2,133.0 L336.1,127.6 L336.7,126.6 L337.4,130.8 L338.2,137.2 L339.5,145.8 L340.4,152.2 L341.0,158.6 L342.1,153.3 L343.1,158.6 L344.2,156.5 L345.3,158.6 L346.4,156.5 L347.4,152.2 L348.5,147.9 L349.6,149.0 L350.6,141.5 L351.7,138.3 L352.8,133.0 L353.8,128.7 L354.9,134.0 L356.0,137.2 L357.0,145.8 L358.1,144.7 L359.2,147.9 L360.3,150.1 L361.3,145.8 L362.4,153.3 L363.5,155.4 L364.5,156.5 L365.6,156.5 L366.2,158.6 L366.7,171.5 L367.7,182.2 L369.9,199.3 L372.0,210.0 L374.2,217.4 L376.3,218.9" fill="none" stroke="#444" stroke-width="1.0" stroke-linejoin="round"/>
<line x1="344.2" y1="175.7" x2="408.8" y2="175.7" stroke="#3a3a3a" stroke-width="1.7"/>
<line x1="344.2" y1="173.7" x2="344.2" y2="177.7" stroke="#3a3a3a" stroke-width="1"/>
<line x1="408.8" y1="173.7" x2="408.8" y2="177.7" stroke="#3a3a3a" stroke-width="1"/>
<text x="391.5" y="170.4" font-size="11" font-weight="bold" text-anchor="middle" fill="#000">54.3</text>
<path d="M409.8,207.8 L411.3,203.5 L413.5,188.6 L415.6,173.6 L417.8,160.8 L418.8,152.2 L421.0,147.9 L422.0,141.5 L423.1,135.1 L424.2,130.8 L425.2,127.6 L426.3,127.0 L427.4,127.6 L428.0,130.8 L428.7,138.3 L429.5,141.5 L430.6,150.1 L431.7,158.6 L432.7,169.3 L433.8,177.9 L434.9,184.3 L435.9,190.7 L437.0,193.9 L438.1,196.1 L439.1,199.3 L440.2,202.5 L441.3,203.5 L442.4,204.6 L443.4,203.5 L444.5,204.6 L445.6,203.5 L446.6,205.7 L448.8,205.7 L449.8,206.8 L450.9,207.8 L452.0,210.0 L453.0,208.9 L454.1,211.0 L455.2,212.1 L457.3,214.2 L461.6,216.4 L465.9,218.5 L470.2,218.9" fill="none" stroke="#444" stroke-width="1.0" stroke-linejoin="round"/>
<line x1="440.2" y1="175.7" x2="503.3" y2="175.7" stroke="#3a3a3a" stroke-width="1.7"/>
<line x1="440.2" y1="173.7" x2="440.2" y2="177.7" stroke="#3a3a3a" stroke-width="1"/>
<line x1="503.3" y1="173.7" x2="503.3" y2="177.7" stroke="#3a3a3a" stroke-width="1"/>
<text x="483.7" y="169.3" font-size="11" font-weight="bold" text-anchor="middle" fill="#000">15</text>
<path d="M314.8,314.9 L316.2,313.8 L317.7,308.3 L319.3,307.2 L320.6,306.1 L321.5,301.7 L322.8,292.9 L324.3,281.9 L325.9,270.9 L327.6,259.9 L328.7,253.3 L329.8,246.6 L330.9,245.5 L331.6,251.0 L332.5,257.7 L333.8,257.7 L334.7,258.8 L335.6,255.5 L336.4,259.9 L337.3,256.6 L338.2,265.4 L339.1,262.1 L340.0,265.4 L340.8,262.1 L341.9,263.2 L343.0,259.9 L344.1,261.0 L345.3,258.8 L346.4,251.0 L347.5,237.8 L348.6,235.6 L349.2,231.2 L350.1,230.1 L351.0,226.8 L351.9,233.4 L353.0,237.8 L354.1,242.2 L355.2,251.0 L356.3,262.1 L357.4,273.1 L358.5,284.1 L359.6,295.1 L360.7,303.9 L362.9,312.7 L365.1,317.1 L368.4,319.3 L371.7,319.8 L382.7,319.8 L389.3,319.3 L398.1,319.8 L408.0,319.8" fill="none" stroke="#444" stroke-width="1.0" stroke-linejoin="round"/>
<line x1="340.4" y1="277" x2="408" y2="277" stroke="#3a3a3a" stroke-width="1.7"/>
<line x1="340.4" y1="275" x2="340.4" y2="279" stroke="#3a3a3a" stroke-width="1"/>
<line x1="408" y1="275" x2="408" y2="279" stroke="#3a3a3a" stroke-width="1"/>
<text x="385.7" y="272" font-size="11" font-weight="bold" text-anchor="middle" fill="#000">57.4</text>
<path d="M410.0,308.3 L410.8,307.2 L412.2,310.5 L413.1,306.1 L414.4,292.9 L415.9,275.3 L417.5,257.7 L418.8,244.4 L419.7,235.6 L421.0,231.2 L421.9,229.0 L423.2,227.9 L424.1,226.8 L424.9,230.1 L425.8,234.5 L426.9,238.9 L427.6,246.6 L428.5,255.5 L429.4,266.5 L430.2,277.5 L431.3,288.5 L432.4,299.5 L433.5,306.1 L434.6,310.5 L435.7,312.7 L436.8,314.9 L437.9,316.0 L440.1,316.7 L442.4,314.9 L444.6,315.4 L446.8,314.9 L449.0,315.6 L451.2,314.9 L453.4,314.5 L455.6,314.9 L457.8,316.0 L460.0,317.1 L462.2,318.2 L465.5,319.8 L469.9,320.4 L503.4,320.4" fill="none" stroke="#444" stroke-width="1.0" stroke-linejoin="round"/>
<line x1="435.7" y1="277" x2="503.4" y2="277" stroke="#3a3a3a" stroke-width="1.7"/>
<line x1="435.7" y1="275" x2="435.7" y2="279" stroke="#3a3a3a" stroke-width="1"/>
<line x1="503.4" y1="275" x2="503.4" y2="279" stroke="#3a3a3a" stroke-width="1"/>
<text x="483.7" y="272" font-size="11" font-weight="bold" text-anchor="middle" fill="#000">10</text>
<line x1="314.4" y1="20.2" x2="409" y2="20.2" stroke="#777" stroke-width="1.2"/>
<line x1="409" y1="20.2" x2="409" y2="120.1" stroke="#777" stroke-width="1.2"/>
<line x1="409" y1="20.2" x2="503.4" y2="20.2" stroke="#777" stroke-width="1.2"/>
<line x1="503.4" y1="20.2" x2="503.4" y2="120.1" stroke="#777" stroke-width="1.2"/>
<line x1="314.4" y1="120.1" x2="409" y2="120.1" stroke="#777" stroke-width="1.2"/>
<line x1="409" y1="120.1" x2="409" y2="220.2" stroke="#777" stroke-width="1.2"/>
<line x1="409" y1="120.1" x2="503.4" y2="120.1" stroke="#777" stroke-width="1.2"/>
<line x1="503.4" y1="120.1" x2="503.4" y2="220.2" stroke="#777" stroke-width="1.2"/>
<line x1="314.4" y1="220.2" x2="409" y2="220.2" stroke="#777" stroke-width="1.2"/>
<line x1="409" y1="220.2" x2="409" y2="320.6" stroke="#777" stroke-width="1.2"/>
<line x1="409" y1="220.2" x2="503.4" y2="220.2" stroke="#777" stroke-width="1.2"/>
<line x1="503.4" y1="220.2" x2="503.4" y2="320.6" stroke="#777" stroke-width="1.2"/>
<line x1="314.4" y1="120.1" x2="409" y2="120.1" stroke="#222" stroke-width="1.6"/>
<line x1="314.4" y1="20.2" x2="314.4" y2="120.1" stroke="#444" stroke-width="1.3"/>
<line x1="312.4" y1="114.39142857142856" x2="314.4" y2="114.39142857142856" stroke="#777" stroke-width="0.6"/>
<line x1="312.4" y1="108.68285714285713" x2="314.4" y2="108.68285714285713" stroke="#777" stroke-width="0.6"/>
<line x1="312.4" y1="102.97428571428571" x2="314.4" y2="102.97428571428571" stroke="#777" stroke-width="0.6"/>
<line x1="312.4" y1="97.26571428571428" x2="314.4" y2="97.26571428571428" stroke="#777" stroke-width="0.6"/>
<line x1="312.4" y1="91.55714285714285" x2="314.4" y2="91.55714285714285" stroke="#777" stroke-width="0.6"/>
<line x1="312.4" y1="85.84857142857143" x2="314.4" y2="85.84857142857143" stroke="#777" stroke-width="0.6"/>
<line x1="312.4" y1="80.13999999999999" x2="314.4" y2="80.13999999999999" stroke="#777" stroke-width="0.6"/>
<line x1="312.4" y1="74.43142857142857" x2="314.4" y2="74.43142857142857" stroke="#777" stroke-width="0.6"/>
<line x1="312.4" y1="68.72285714285715" x2="314.4" y2="68.72285714285715" stroke="#777" stroke-width="0.6"/>
<line x1="312.4" y1="63.01428571428571" x2="314.4" y2="63.01428571428571" stroke="#777" stroke-width="0.6"/>
<line x1="312.4" y1="57.30571428571429" x2="314.4" y2="57.30571428571429" stroke="#777" stroke-width="0.6"/>
<line x1="312.4" y1="51.597142857142856" x2="314.4" y2="51.597142857142856" stroke="#777" stroke-width="0.6"/>
<line x1="312.4" y1="45.88857142857144" x2="314.4" y2="45.88857142857144" stroke="#777" stroke-width="0.6"/>
<line x1="312.4" y1="40.17999999999999" x2="314.4" y2="40.17999999999999" stroke="#777" stroke-width="0.6"/>
<line x1="312.4" y1="34.471428571428575" x2="314.4" y2="34.471428571428575" stroke="#777" stroke-width="0.6"/>
<line x1="312.4" y1="28.762857142857143" x2="314.4" y2="28.762857142857143" stroke="#777" stroke-width="0.6"/>
<line x1="312.4" y1="23.05428571428571" x2="314.4" y2="23.05428571428571" stroke="#777" stroke-width="0.6"/>
<line x1="316.765" y1="120.1" x2="316.765" y2="121.3" stroke="#666" stroke-width="0.5"/>
<line x1="319.13" y1="120.1" x2="319.13" y2="121.3" stroke="#666" stroke-width="0.5"/>
<line x1="321.495" y1="120.1" x2="321.495" y2="121.3" stroke="#666" stroke-width="0.5"/>
<line x1="323.85999999999996" y1="120.1" x2="323.85999999999996" y2="121.3" stroke="#666" stroke-width="0.5"/>
<line x1="326.22499999999997" y1="120.1" x2="326.22499999999997" y2="121.3" stroke="#666" stroke-width="0.5"/>
<line x1="328.59" y1="120.1" x2="328.59" y2="121.3" stroke="#666" stroke-width="0.5"/>
<line x1="330.955" y1="120.1" x2="330.955" y2="121.3" stroke="#666" stroke-width="0.5"/>
<line x1="333.32" y1="120.1" x2="333.32" y2="121.3" stroke="#666" stroke-width="0.5"/>
<line x1="335.685" y1="120.1" x2="335.685" y2="121.3" stroke="#666" stroke-width="0.5"/>
<line x1="338.04999999999995" y1="120.1" x2="338.04999999999995" y2="121.3" stroke="#666" stroke-width="0.5"/>
<line x1="340.41499999999996" y1="120.1" x2="340.41499999999996" y2="121.3" stroke="#666" stroke-width="0.5"/>
<line x1="342.78" y1="120.1" x2="342.78" y2="121.3" stroke="#666" stroke-width="0.5"/>
<line x1="345.145" y1="120.1" x2="345.145" y2="121.3" stroke="#666" stroke-width="0.5"/>
<line x1="347.51" y1="120.1" x2="347.51" y2="121.3" stroke="#666" stroke-width="0.5"/>
<line x1="349.875" y1="120.1" x2="349.875" y2="121.3" stroke="#666" stroke-width="0.5"/>
<line x1="352.24" y1="120.1" x2="352.24" y2="121.3" stroke="#666" stroke-width="0.5"/>
<line x1="354.60499999999996" y1="120.1" x2="354.60499999999996" y2="121.3" stroke="#666" stroke-width="0.5"/>
<line x1="356.96999999999997" y1="120.1" x2="356.96999999999997" y2="121.3" stroke="#666" stroke-width="0.5"/>
<line x1="359.335" y1="120.1" x2="359.335" y2="121.3" stroke="#666" stroke-width="0.5"/>
<line x1="361.7" y1="120.1" x2="361.7" y2="121.3" stroke="#666" stroke-width="0.5"/>
<line x1="364.065" y1="120.1" x2="364.065" y2="121.3" stroke="#666" stroke-width="0.5"/>
<line x1="366.43" y1="120.1" x2="366.43" y2="121.3" stroke="#666" stroke-width="0.5"/>
<line x1="368.795" y1="120.1" x2="368.795" y2="121.3" stroke="#666" stroke-width="0.5"/>
<line x1="371.15999999999997" y1="120.1" x2="371.15999999999997" y2="121.3" stroke="#666" stroke-width="0.5"/>
<line x1="373.525" y1="120.1" x2="373.525" y2="121.3" stroke="#666" stroke-width="0.5"/>
<line x1="375.89" y1="120.1" x2="375.89" y2="121.3" stroke="#666" stroke-width="0.5"/>
<line x1="378.255" y1="120.1" x2="378.255" y2="121.3" stroke="#666" stroke-width="0.5"/>
<line x1="380.62" y1="120.1" x2="380.62" y2="121.3" stroke="#666" stroke-width="0.5"/>
<line x1="382.985" y1="120.1" x2="382.985" y2="121.3" stroke="#666" stroke-width="0.5"/>
<line x1="385.35" y1="120.1" x2="385.35" y2="121.3" stroke="#666" stroke-width="0.5"/>
<line x1="387.71500000000003" y1="120.1" x2="387.71500000000003" y2="121.3" stroke="#666" stroke-width="0.5"/>
<line x1="390.08" y1="120.1" x2="390.08" y2="121.3" stroke="#666" stroke-width="0.5"/>
<line x1="392.445" y1="120.1" x2="392.445" y2="121.3" stroke="#666" stroke-width="0.5"/>
<line x1="394.81" y1="120.1" x2="394.81" y2="121.3" stroke="#666" stroke-width="0.5"/>
<line x1="397.175" y1="120.1" x2="397.175" y2="121.3" stroke="#666" stroke-width="0.5"/>
<line x1="399.53999999999996" y1="120.1" x2="399.53999999999996" y2="121.3" stroke="#666" stroke-width="0.5"/>
<line x1="401.905" y1="120.1" x2="401.905" y2="121.3" stroke="#666" stroke-width="0.5"/>
<line x1="404.27" y1="120.1" x2="404.27" y2="121.3" stroke="#666" stroke-width="0.5"/>
<line x1="406.635" y1="120.1" x2="406.635" y2="121.3" stroke="#666" stroke-width="0.5"/>
<line x1="409" y1="120.1" x2="503.4" y2="120.1" stroke="#222" stroke-width="1.6"/>
<line x1="409" y1="20.2" x2="409" y2="120.1" stroke="#444" stroke-width="1.3"/>
<line x1="407" y1="114.39142857142856" x2="409" y2="114.39142857142856" stroke="#777" stroke-width="0.6"/>
<line x1="407" y1="108.68285714285713" x2="409" y2="108.68285714285713" stroke="#777" stroke-width="0.6"/>
<line x1="407" y1="102.97428571428571" x2="409" y2="102.97428571428571" stroke="#777" stroke-width="0.6"/>
<line x1="407" y1="97.26571428571428" x2="409" y2="97.26571428571428" stroke="#777" stroke-width="0.6"/>
<line x1="407" y1="91.55714285714285" x2="409" y2="91.55714285714285" stroke="#777" stroke-width="0.6"/>
<line x1="407" y1="85.84857142857143" x2="409" y2="85.84857142857143" stroke="#777" stroke-width="0.6"/>
<line x1="407" y1="80.13999999999999" x2="409" y2="80.13999999999999" stroke="#777" stroke-width="0.6"/>
<line x1="407" y1="74.43142857142857" x2="409" y2="74.43142857142857" stroke="#777" stroke-width="0.6"/>
<line x1="407" y1="68.72285714285715" x2="409" y2="68.72285714285715" stroke="#777" stroke-width="0.6"/>
<line x1="407" y1="63.01428571428571" x2="409" y2="63.01428571428571" stroke="#777" stroke-width="0.6"/>
<line x1="407" y1="57.30571428571429" x2="409" y2="57.30571428571429" stroke="#777" stroke-width="0.6"/>
<line x1="407" y1="51.597142857142856" x2="409" y2="51.597142857142856" stroke="#777" stroke-width="0.6"/>
<line x1="407" y1="45.88857142857144" x2="409" y2="45.88857142857144" stroke="#777" stroke-width="0.6"/>
<line x1="407" y1="40.17999999999999" x2="409" y2="40.17999999999999" stroke="#777" stroke-width="0.6"/>
<line x1="407" y1="34.471428571428575" x2="409" y2="34.471428571428575" stroke="#777" stroke-width="0.6"/>
<line x1="407" y1="28.762857142857143" x2="409" y2="28.762857142857143" stroke="#777" stroke-width="0.6"/>
<line x1="407" y1="23.05428571428571" x2="409" y2="23.05428571428571" stroke="#777" stroke-width="0.6"/>
<line x1="411.36" y1="120.1" x2="411.36" y2="121.3" stroke="#666" stroke-width="0.5"/>
<line x1="413.72" y1="120.1" x2="413.72" y2="121.3" stroke="#666" stroke-width="0.5"/>
<line x1="416.08" y1="120.1" x2="416.08" y2="121.3" stroke="#666" stroke-width="0.5"/>
<line x1="418.44" y1="120.1" x2="418.44" y2="121.3" stroke="#666" stroke-width="0.5"/>
<line x1="420.8" y1="120.1" x2="420.8" y2="121.3" stroke="#666" stroke-width="0.5"/>
<line x1="423.15999999999997" y1="120.1" x2="423.15999999999997" y2="121.3" stroke="#666" stroke-width="0.5"/>
<line x1="425.52" y1="120.1" x2="425.52" y2="121.3" stroke="#666" stroke-width="0.5"/>
<line x1="427.88" y1="120.1" x2="427.88" y2="121.3" stroke="#666" stroke-width="0.5"/>
<line x1="430.24" y1="120.1" x2="430.24" y2="121.3" stroke="#666" stroke-width="0.5"/>
<line x1="432.6" y1="120.1" x2="432.6" y2="121.3" stroke="#666" stroke-width="0.5"/>
<line x1="434.96" y1="120.1" x2="434.96" y2="121.3" stroke="#666" stroke-width="0.5"/>
<line x1="437.32" y1="120.1" x2="437.32" y2="121.3" stroke="#666" stroke-width="0.5"/>
<line x1="439.68" y1="120.1" x2="439.68" y2="121.3" stroke="#666" stroke-width="0.5"/>
<line x1="442.03999999999996" y1="120.1" x2="442.03999999999996" y2="121.3" stroke="#666" stroke-width="0.5"/>
<line x1="444.4" y1="120.1" x2="444.4" y2="121.3" stroke="#666" stroke-width="0.5"/>
<line x1="446.76" y1="120.1" x2="446.76" y2="121.3" stroke="#666" stroke-width="0.5"/>
<line x1="449.12" y1="120.1" x2="449.12" y2="121.3" stroke="#666" stroke-width="0.5"/>
<line x1="451.48" y1="120.1" x2="451.48" y2="121.3" stroke="#666" stroke-width="0.5"/>
<line x1="453.84" y1="120.1" x2="453.84" y2="121.3" stroke="#666" stroke-width="0.5"/>
<line x1="456.2" y1="120.1" x2="456.2" y2="121.3" stroke="#666" stroke-width="0.5"/>
<line x1="458.56" y1="120.1" x2="458.56" y2="121.3" stroke="#666" stroke-width="0.5"/>
<line x1="460.91999999999996" y1="120.1" x2="460.91999999999996" y2="121.3" stroke="#666" stroke-width="0.5"/>
<line x1="463.28" y1="120.1" x2="463.28" y2="121.3" stroke="#666" stroke-width="0.5"/>
<line x1="465.64" y1="120.1" x2="465.64" y2="121.3" stroke="#666" stroke-width="0.5"/>
<line x1="468.0" y1="120.1" x2="468.0" y2="121.3" stroke="#666" stroke-width="0.5"/>
<line x1="470.36" y1="120.1" x2="470.36" y2="121.3" stroke="#666" stroke-width="0.5"/>
<line x1="472.71999999999997" y1="120.1" x2="472.71999999999997" y2="121.3" stroke="#666" stroke-width="0.5"/>
<line x1="475.08" y1="120.1" x2="475.08" y2="121.3" stroke="#666" stroke-width="0.5"/>
<line x1="477.44" y1="120.1" x2="477.44" y2="121.3" stroke="#666" stroke-width="0.5"/>
<line x1="479.79999999999995" y1="120.1" x2="479.79999999999995" y2="121.3" stroke="#666" stroke-width="0.5"/>
<line x1="482.15999999999997" y1="120.1" x2="482.15999999999997" y2="121.3" stroke="#666" stroke-width="0.5"/>
<line x1="484.52" y1="120.1" x2="484.52" y2="121.3" stroke="#666" stroke-width="0.5"/>
<line x1="486.88" y1="120.1" x2="486.88" y2="121.3" stroke="#666" stroke-width="0.5"/>
<line x1="489.24" y1="120.1" x2="489.24" y2="121.3" stroke="#666" stroke-width="0.5"/>
<line x1="491.59999999999997" y1="120.1" x2="491.59999999999997" y2="121.3" stroke="#666" stroke-width="0.5"/>
<line x1="493.96" y1="120.1" x2="493.96" y2="121.3" stroke="#666" stroke-width="0.5"/>
<line x1="496.32" y1="120.1" x2="496.32" y2="121.3" stroke="#666" stroke-width="0.5"/>
<line x1="498.67999999999995" y1="120.1" x2="498.67999999999995" y2="121.3" stroke="#666" stroke-width="0.5"/>
<line x1="501.03999999999996" y1="120.1" x2="501.03999999999996" y2="121.3" stroke="#666" stroke-width="0.5"/>
<line x1="314.4" y1="220.2" x2="409" y2="220.2" stroke="#222" stroke-width="1.6"/>
<line x1="314.4" y1="120.1" x2="314.4" y2="220.2" stroke="#444" stroke-width="1.3"/>
<line x1="312.4" y1="214.48" x2="314.4" y2="214.48" stroke="#777" stroke-width="0.6"/>
<line x1="312.4" y1="208.76" x2="314.4" y2="208.76" stroke="#777" stroke-width="0.6"/>
<line x1="312.4" y1="203.04" x2="314.4" y2="203.04" stroke="#777" stroke-width="0.6"/>
<line x1="312.4" y1="197.32" x2="314.4" y2="197.32" stroke="#777" stroke-width="0.6"/>
<line x1="312.4" y1="191.6" x2="314.4" y2="191.6" stroke="#777" stroke-width="0.6"/>
<line x1="312.4" y1="185.88" x2="314.4" y2="185.88" stroke="#777" stroke-width="0.6"/>
<line x1="312.4" y1="180.16" x2="314.4" y2="180.16" stroke="#777" stroke-width="0.6"/>
<line x1="312.4" y1="174.44" x2="314.4" y2="174.44" stroke="#777" stroke-width="0.6"/>
<line x1="312.4" y1="168.72" x2="314.4" y2="168.72" stroke="#777" stroke-width="0.6"/>
<line x1="312.4" y1="163.0" x2="314.4" y2="163.0" stroke="#777" stroke-width="0.6"/>
<line x1="312.4" y1="157.28" x2="314.4" y2="157.28" stroke="#777" stroke-width="0.6"/>
<line x1="312.4" y1="151.56" x2="314.4" y2="151.56" stroke="#777" stroke-width="0.6"/>
<line x1="312.4" y1="145.83999999999997" x2="314.4" y2="145.83999999999997" stroke="#777" stroke-width="0.6"/>
<line x1="312.4" y1="140.12" x2="314.4" y2="140.12" stroke="#777" stroke-width="0.6"/>
<line x1="312.4" y1="134.39999999999998" x2="314.4" y2="134.39999999999998" stroke="#777" stroke-width="0.6"/>
<line x1="312.4" y1="128.68" x2="314.4" y2="128.68" stroke="#777" stroke-width="0.6"/>
<line x1="312.4" y1="122.96" x2="314.4" y2="122.96" stroke="#777" stroke-width="0.6"/>
<line x1="316.765" y1="220.2" x2="316.765" y2="221.39999999999998" stroke="#666" stroke-width="0.5"/>
<line x1="319.13" y1="220.2" x2="319.13" y2="221.39999999999998" stroke="#666" stroke-width="0.5"/>
<line x1="321.495" y1="220.2" x2="321.495" y2="221.39999999999998" stroke="#666" stroke-width="0.5"/>
<line x1="323.85999999999996" y1="220.2" x2="323.85999999999996" y2="221.39999999999998" stroke="#666" stroke-width="0.5"/>
<line x1="326.22499999999997" y1="220.2" x2="326.22499999999997" y2="221.39999999999998" stroke="#666" stroke-width="0.5"/>
<line x1="328.59" y1="220.2" x2="328.59" y2="221.39999999999998" stroke="#666" stroke-width="0.5"/>
<line x1="330.955" y1="220.2" x2="330.955" y2="221.39999999999998" stroke="#666" stroke-width="0.5"/>
<line x1="333.32" y1="220.2" x2="333.32" y2="221.39999999999998" stroke="#666" stroke-width="0.5"/>
<line x1="335.685" y1="220.2" x2="335.685" y2="221.39999999999998" stroke="#666" stroke-width="0.5"/>
<line x1="338.04999999999995" y1="220.2" x2="338.04999999999995" y2="221.39999999999998" stroke="#666" stroke-width="0.5"/>
<line x1="340.41499999999996" y1="220.2" x2="340.41499999999996" y2="221.39999999999998" stroke="#666" stroke-width="0.5"/>
<line x1="342.78" y1="220.2" x2="342.78" y2="221.39999999999998" stroke="#666" stroke-width="0.5"/>
<line x1="345.145" y1="220.2" x2="345.145" y2="221.39999999999998" stroke="#666" stroke-width="0.5"/>
<line x1="347.51" y1="220.2" x2="347.51" y2="221.39999999999998" stroke="#666" stroke-width="0.5"/>
<line x1="349.875" y1="220.2" x2="349.875" y2="221.39999999999998" stroke="#666" stroke-width="0.5"/>
<line x1="352.24" y1="220.2" x2="352.24" y2="221.39999999999998" stroke="#666" stroke-width="0.5"/>
<line x1="354.60499999999996" y1="220.2" x2="354.60499999999996" y2="221.39999999999998" stroke="#666" stroke-width="0.5"/>
<line x1="356.96999999999997" y1="220.2" x2="356.96999999999997" y2="221.39999999999998" stroke="#666" stroke-width="0.5"/>
<line x1="359.335" y1="220.2" x2="359.335" y2="221.39999999999998" stroke="#666" stroke-width="0.5"/>
<line x1="361.7" y1="220.2" x2="361.7" y2="221.39999999999998" stroke="#666" stroke-width="0.5"/>
<line x1="364.065" y1="220.2" x2="364.065" y2="221.39999999999998" stroke="#666" stroke-width="0.5"/>
<line x1="366.43" y1="220.2" x2="366.43" y2="221.39999999999998" stroke="#666" stroke-width="0.5"/>
<line x1="368.795" y1="220.2" x2="368.795" y2="221.39999999999998" stroke="#666" stroke-width="0.5"/>
<line x1="371.15999999999997" y1="220.2" x2="371.15999999999997" y2="221.39999999999998" stroke="#666" stroke-width="0.5"/>
<line x1="373.525" y1="220.2" x2="373.525" y2="221.39999999999998" stroke="#666" stroke-width="0.5"/>
<line x1="375.89" y1="220.2" x2="375.89" y2="221.39999999999998" stroke="#666" stroke-width="0.5"/>
<line x1="378.255" y1="220.2" x2="378.255" y2="221.39999999999998" stroke="#666" stroke-width="0.5"/>
<line x1="380.62" y1="220.2" x2="380.62" y2="221.39999999999998" stroke="#666" stroke-width="0.5"/>
<line x1="382.985" y1="220.2" x2="382.985" y2="221.39999999999998" stroke="#666" stroke-width="0.5"/>
<line x1="385.35" y1="220.2" x2="385.35" y2="221.39999999999998" stroke="#666" stroke-width="0.5"/>
<line x1="387.71500000000003" y1="220.2" x2="387.71500000000003" y2="221.39999999999998" stroke="#666" stroke-width="0.5"/>
<line x1="390.08" y1="220.2" x2="390.08" y2="221.39999999999998" stroke="#666" stroke-width="0.5"/>
<line x1="392.445" y1="220.2" x2="392.445" y2="221.39999999999998" stroke="#666" stroke-width="0.5"/>
<line x1="394.81" y1="220.2" x2="394.81" y2="221.39999999999998" stroke="#666" stroke-width="0.5"/>
<line x1="397.175" y1="220.2" x2="397.175" y2="221.39999999999998" stroke="#666" stroke-width="0.5"/>
<line x1="399.53999999999996" y1="220.2" x2="399.53999999999996" y2="221.39999999999998" stroke="#666" stroke-width="0.5"/>
<line x1="401.905" y1="220.2" x2="401.905" y2="221.39999999999998" stroke="#666" stroke-width="0.5"/>
<line x1="404.27" y1="220.2" x2="404.27" y2="221.39999999999998" stroke="#666" stroke-width="0.5"/>
<line x1="406.635" y1="220.2" x2="406.635" y2="221.39999999999998" stroke="#666" stroke-width="0.5"/>
<line x1="409" y1="220.2" x2="503.4" y2="220.2" stroke="#222" stroke-width="1.6"/>
<line x1="409" y1="120.1" x2="409" y2="220.2" stroke="#444" stroke-width="1.3"/>
<line x1="407" y1="214.48" x2="409" y2="214.48" stroke="#777" stroke-width="0.6"/>
<line x1="407" y1="208.76" x2="409" y2="208.76" stroke="#777" stroke-width="0.6"/>
<line x1="407" y1="203.04" x2="409" y2="203.04" stroke="#777" stroke-width="0.6"/>
<line x1="407" y1="197.32" x2="409" y2="197.32" stroke="#777" stroke-width="0.6"/>
<line x1="407" y1="191.6" x2="409" y2="191.6" stroke="#777" stroke-width="0.6"/>
<line x1="407" y1="185.88" x2="409" y2="185.88" stroke="#777" stroke-width="0.6"/>
<line x1="407" y1="180.16" x2="409" y2="180.16" stroke="#777" stroke-width="0.6"/>
<line x1="407" y1="174.44" x2="409" y2="174.44" stroke="#777" stroke-width="0.6"/>
<line x1="407" y1="168.72" x2="409" y2="168.72" stroke="#777" stroke-width="0.6"/>
<line x1="407" y1="163.0" x2="409" y2="163.0" stroke="#777" stroke-width="0.6"/>
<line x1="407" y1="157.28" x2="409" y2="157.28" stroke="#777" stroke-width="0.6"/>
<line x1="407" y1="151.56" x2="409" y2="151.56" stroke="#777" stroke-width="0.6"/>
<line x1="407" y1="145.83999999999997" x2="409" y2="145.83999999999997" stroke="#777" stroke-width="0.6"/>
<line x1="407" y1="140.12" x2="409" y2="140.12" stroke="#777" stroke-width="0.6"/>
<line x1="407" y1="134.39999999999998" x2="409" y2="134.39999999999998" stroke="#777" stroke-width="0.6"/>
<line x1="407" y1="128.68" x2="409" y2="128.68" stroke="#777" stroke-width="0.6"/>
<line x1="407" y1="122.96" x2="409" y2="122.96" stroke="#777" stroke-width="0.6"/>
<line x1="411.36" y1="220.2" x2="411.36" y2="221.39999999999998" stroke="#666" stroke-width="0.5"/>
<line x1="413.72" y1="220.2" x2="413.72" y2="221.39999999999998" stroke="#666" stroke-width="0.5"/>
<line x1="416.08" y1="220.2" x2="416.08" y2="221.39999999999998" stroke="#666" stroke-width="0.5"/>
<line x1="418.44" y1="220.2" x2="418.44" y2="221.39999999999998" stroke="#666" stroke-width="0.5"/>
<line x1="420.8" y1="220.2" x2="420.8" y2="221.39999999999998" stroke="#666" stroke-width="0.5"/>
<line x1="423.15999999999997" y1="220.2" x2="423.15999999999997" y2="221.39999999999998" stroke="#666" stroke-width="0.5"/>
<line x1="425.52" y1="220.2" x2="425.52" y2="221.39999999999998" stroke="#666" stroke-width="0.5"/>
<line x1="427.88" y1="220.2" x2="427.88" y2="221.39999999999998" stroke="#666" stroke-width="0.5"/>
<line x1="430.24" y1="220.2" x2="430.24" y2="221.39999999999998" stroke="#666" stroke-width="0.5"/>
<line x1="432.6" y1="220.2" x2="432.6" y2="221.39999999999998" stroke="#666" stroke-width="0.5"/>
<line x1="434.96" y1="220.2" x2="434.96" y2="221.39999999999998" stroke="#666" stroke-width="0.5"/>
<line x1="437.32" y1="220.2" x2="437.32" y2="221.39999999999998" stroke="#666" stroke-width="0.5"/>
<line x1="439.68" y1="220.2" x2="439.68" y2="221.39999999999998" stroke="#666" stroke-width="0.5"/>
<line x1="442.03999999999996" y1="220.2" x2="442.03999999999996" y2="221.39999999999998" stroke="#666" stroke-width="0.5"/>
<line x1="444.4" y1="220.2" x2="444.4" y2="221.39999999999998" stroke="#666" stroke-width="0.5"/>
<line x1="446.76" y1="220.2" x2="446.76" y2="221.39999999999998" stroke="#666" stroke-width="0.5"/>
<line x1="449.12" y1="220.2" x2="449.12" y2="221.39999999999998" stroke="#666" stroke-width="0.5"/>
<line x1="451.48" y1="220.2" x2="451.48" y2="221.39999999999998" stroke="#666" stroke-width="0.5"/>
<line x1="453.84" y1="220.2" x2="453.84" y2="221.39999999999998" stroke="#666" stroke-width="0.5"/>
<line x1="456.2" y1="220.2" x2="456.2" y2="221.39999999999998" stroke="#666" stroke-width="0.5"/>
<line x1="458.56" y1="220.2" x2="458.56" y2="221.39999999999998" stroke="#666" stroke-width="0.5"/>
<line x1="460.91999999999996" y1="220.2" x2="460.91999999999996" y2="221.39999999999998" stroke="#666" stroke-width="0.5"/>
<line x1="463.28" y1="220.2" x2="463.28" y2="221.39999999999998" stroke="#666" stroke-width="0.5"/>
<line x1="465.64" y1="220.2" x2="465.64" y2="221.39999999999998" stroke="#666" stroke-width="0.5"/>
<line x1="468.0" y1="220.2" x2="468.0" y2="221.39999999999998" stroke="#666" stroke-width="0.5"/>
<line x1="470.36" y1="220.2" x2="470.36" y2="221.39999999999998" stroke="#666" stroke-width="0.5"/>
<line x1="472.71999999999997" y1="220.2" x2="472.71999999999997" y2="221.39999999999998" stroke="#666" stroke-width="0.5"/>
<line x1="475.08" y1="220.2" x2="475.08" y2="221.39999999999998" stroke="#666" stroke-width="0.5"/>
<line x1="477.44" y1="220.2" x2="477.44" y2="221.39999999999998" stroke="#666" stroke-width="0.5"/>
<line x1="479.79999999999995" y1="220.2" x2="479.79999999999995" y2="221.39999999999998" stroke="#666" stroke-width="0.5"/>
<line x1="482.15999999999997" y1="220.2" x2="482.15999999999997" y2="221.39999999999998" stroke="#666" stroke-width="0.5"/>
<line x1="484.52" y1="220.2" x2="484.52" y2="221.39999999999998" stroke="#666" stroke-width="0.5"/>
<line x1="486.88" y1="220.2" x2="486.88" y2="221.39999999999998" stroke="#666" stroke-width="0.5"/>
<line x1="489.24" y1="220.2" x2="489.24" y2="221.39999999999998" stroke="#666" stroke-width="0.5"/>
<line x1="491.59999999999997" y1="220.2" x2="491.59999999999997" y2="221.39999999999998" stroke="#666" stroke-width="0.5"/>
<line x1="493.96" y1="220.2" x2="493.96" y2="221.39999999999998" stroke="#666" stroke-width="0.5"/>
<line x1="496.32" y1="220.2" x2="496.32" y2="221.39999999999998" stroke="#666" stroke-width="0.5"/>
<line x1="498.67999999999995" y1="220.2" x2="498.67999999999995" y2="221.39999999999998" stroke="#666" stroke-width="0.5"/>
<line x1="501.03999999999996" y1="220.2" x2="501.03999999999996" y2="221.39999999999998" stroke="#666" stroke-width="0.5"/>
<line x1="314.4" y1="320.6" x2="409" y2="320.6" stroke="#222" stroke-width="1.6"/>
<line x1="314.4" y1="220.2" x2="314.4" y2="320.6" stroke="#444" stroke-width="1.3"/>
<line x1="312.4" y1="314.86285714285714" x2="314.4" y2="314.86285714285714" stroke="#777" stroke-width="0.6"/>
<line x1="312.4" y1="309.1257142857143" x2="314.4" y2="309.1257142857143" stroke="#777" stroke-width="0.6"/>
<line x1="312.4" y1="303.3885714285714" x2="314.4" y2="303.3885714285714" stroke="#777" stroke-width="0.6"/>
<line x1="312.4" y1="297.6514285714286" x2="314.4" y2="297.6514285714286" stroke="#777" stroke-width="0.6"/>
<line x1="312.4" y1="291.9142857142857" x2="314.4" y2="291.9142857142857" stroke="#777" stroke-width="0.6"/>
<line x1="312.4" y1="286.1771428571429" x2="314.4" y2="286.1771428571429" stroke="#777" stroke-width="0.6"/>
<line x1="312.4" y1="280.44" x2="314.4" y2="280.44" stroke="#777" stroke-width="0.6"/>
<line x1="312.4" y1="274.70285714285717" x2="314.4" y2="274.70285714285717" stroke="#777" stroke-width="0.6"/>
<line x1="312.4" y1="268.9657142857143" x2="314.4" y2="268.9657142857143" stroke="#777" stroke-width="0.6"/>
<line x1="312.4" y1="263.22857142857146" x2="314.4" y2="263.22857142857146" stroke="#777" stroke-width="0.6"/>
<line x1="312.4" y1="257.49142857142857" x2="314.4" y2="257.49142857142857" stroke="#777" stroke-width="0.6"/>
<line x1="312.4" y1="251.75428571428571" x2="314.4" y2="251.75428571428571" stroke="#777" stroke-width="0.6"/>
<line x1="312.4" y1="246.01714285714286" x2="314.4" y2="246.01714285714286" stroke="#777" stroke-width="0.6"/>
<line x1="312.4" y1="240.28" x2="314.4" y2="240.28" stroke="#777" stroke-width="0.6"/>
<line x1="312.4" y1="234.54285714285714" x2="314.4" y2="234.54285714285714" stroke="#777" stroke-width="0.6"/>
<line x1="312.4" y1="228.80571428571426" x2="314.4" y2="228.80571428571426" stroke="#777" stroke-width="0.6"/>
<line x1="312.4" y1="223.06857142857143" x2="314.4" y2="223.06857142857143" stroke="#777" stroke-width="0.6"/>
<line x1="316.765" y1="320.6" x2="316.765" y2="321.8" stroke="#666" stroke-width="0.5"/>
<line x1="319.13" y1="320.6" x2="319.13" y2="321.8" stroke="#666" stroke-width="0.5"/>
<line x1="321.495" y1="320.6" x2="321.495" y2="321.8" stroke="#666" stroke-width="0.5"/>
<line x1="323.85999999999996" y1="320.6" x2="323.85999999999996" y2="321.8" stroke="#666" stroke-width="0.5"/>
<line x1="326.22499999999997" y1="320.6" x2="326.22499999999997" y2="321.8" stroke="#666" stroke-width="0.5"/>
<line x1="328.59" y1="320.6" x2="328.59" y2="321.8" stroke="#666" stroke-width="0.5"/>
<line x1="330.955" y1="320.6" x2="330.955" y2="321.8" stroke="#666" stroke-width="0.5"/>
<line x1="333.32" y1="320.6" x2="333.32" y2="321.8" stroke="#666" stroke-width="0.5"/>
<line x1="335.685" y1="320.6" x2="335.685" y2="321.8" stroke="#666" stroke-width="0.5"/>
<line x1="338.04999999999995" y1="320.6" x2="338.04999999999995" y2="321.8" stroke="#666" stroke-width="0.5"/>
<line x1="340.41499999999996" y1="320.6" x2="340.41499999999996" y2="321.8" stroke="#666" stroke-width="0.5"/>
<line x1="342.78" y1="320.6" x2="342.78" y2="321.8" stroke="#666" stroke-width="0.5"/>
<line x1="345.145" y1="320.6" x2="345.145" y2="321.8" stroke="#666" stroke-width="0.5"/>
<line x1="347.51" y1="320.6" x2="347.51" y2="321.8" stroke="#666" stroke-width="0.5"/>
<line x1="349.875" y1="320.6" x2="349.875" y2="321.8" stroke="#666" stroke-width="0.5"/>
<line x1="352.24" y1="320.6" x2="352.24" y2="321.8" stroke="#666" stroke-width="0.5"/>
<line x1="354.60499999999996" y1="320.6" x2="354.60499999999996" y2="321.8" stroke="#666" stroke-width="0.5"/>
<line x1="356.96999999999997" y1="320.6" x2="356.96999999999997" y2="321.8" stroke="#666" stroke-width="0.5"/>
<line x1="359.335" y1="320.6" x2="359.335" y2="321.8" stroke="#666" stroke-width="0.5"/>
<line x1="361.7" y1="320.6" x2="361.7" y2="321.8" stroke="#666" stroke-width="0.5"/>
<line x1="364.065" y1="320.6" x2="364.065" y2="321.8" stroke="#666" stroke-width="0.5"/>
<line x1="366.43" y1="320.6" x2="366.43" y2="321.8" stroke="#666" stroke-width="0.5"/>
<line x1="368.795" y1="320.6" x2="368.795" y2="321.8" stroke="#666" stroke-width="0.5"/>
<line x1="371.15999999999997" y1="320.6" x2="371.15999999999997" y2="321.8" stroke="#666" stroke-width="0.5"/>
<line x1="373.525" y1="320.6" x2="373.525" y2="321.8" stroke="#666" stroke-width="0.5"/>
<line x1="375.89" y1="320.6" x2="375.89" y2="321.8" stroke="#666" stroke-width="0.5"/>
<line x1="378.255" y1="320.6" x2="378.255" y2="321.8" stroke="#666" stroke-width="0.5"/>
<line x1="380.62" y1="320.6" x2="380.62" y2="321.8" stroke="#666" stroke-width="0.5"/>
<line x1="382.985" y1="320.6" x2="382.985" y2="321.8" stroke="#666" stroke-width="0.5"/>
<line x1="385.35" y1="320.6" x2="385.35" y2="321.8" stroke="#666" stroke-width="0.5"/>
<line x1="387.71500000000003" y1="320.6" x2="387.71500000000003" y2="321.8" stroke="#666" stroke-width="0.5"/>
<line x1="390.08" y1="320.6" x2="390.08" y2="321.8" stroke="#666" stroke-width="0.5"/>
<line x1="392.445" y1="320.6" x2="392.445" y2="321.8" stroke="#666" stroke-width="0.5"/>
<line x1="394.81" y1="320.6" x2="394.81" y2="321.8" stroke="#666" stroke-width="0.5"/>
<line x1="397.175" y1="320.6" x2="397.175" y2="321.8" stroke="#666" stroke-width="0.5"/>
<line x1="399.53999999999996" y1="320.6" x2="399.53999999999996" y2="321.8" stroke="#666" stroke-width="0.5"/>
<line x1="401.905" y1="320.6" x2="401.905" y2="321.8" stroke="#666" stroke-width="0.5"/>
<line x1="404.27" y1="320.6" x2="404.27" y2="321.8" stroke="#666" stroke-width="0.5"/>
<line x1="406.635" y1="320.6" x2="406.635" y2="321.8" stroke="#666" stroke-width="0.5"/>
<line x1="409" y1="320.6" x2="503.4" y2="320.6" stroke="#222" stroke-width="1.6"/>
<line x1="409" y1="220.2" x2="409" y2="320.6" stroke="#444" stroke-width="1.3"/>
<line x1="407" y1="314.86285714285714" x2="409" y2="314.86285714285714" stroke="#777" stroke-width="0.6"/>
<line x1="407" y1="309.1257142857143" x2="409" y2="309.1257142857143" stroke="#777" stroke-width="0.6"/>
<line x1="407" y1="303.3885714285714" x2="409" y2="303.3885714285714" stroke="#777" stroke-width="0.6"/>
<line x1="407" y1="297.6514285714286" x2="409" y2="297.6514285714286" stroke="#777" stroke-width="0.6"/>
<line x1="407" y1="291.9142857142857" x2="409" y2="291.9142857142857" stroke="#777" stroke-width="0.6"/>
<line x1="407" y1="286.1771428571429" x2="409" y2="286.1771428571429" stroke="#777" stroke-width="0.6"/>
<line x1="407" y1="280.44" x2="409" y2="280.44" stroke="#777" stroke-width="0.6"/>
<line x1="407" y1="274.70285714285717" x2="409" y2="274.70285714285717" stroke="#777" stroke-width="0.6"/>
<line x1="407" y1="268.9657142857143" x2="409" y2="268.9657142857143" stroke="#777" stroke-width="0.6"/>
<line x1="407" y1="263.22857142857146" x2="409" y2="263.22857142857146" stroke="#777" stroke-width="0.6"/>
<line x1="407" y1="257.49142857142857" x2="409" y2="257.49142857142857" stroke="#777" stroke-width="0.6"/>
<line x1="407" y1="251.75428571428571" x2="409" y2="251.75428571428571" stroke="#777" stroke-width="0.6"/>
<line x1="407" y1="246.01714285714286" x2="409" y2="246.01714285714286" stroke="#777" stroke-width="0.6"/>
<line x1="407" y1="240.28" x2="409" y2="240.28" stroke="#777" stroke-width="0.6"/>
<line x1="407" y1="234.54285714285714" x2="409" y2="234.54285714285714" stroke="#777" stroke-width="0.6"/>
<line x1="407" y1="228.80571428571426" x2="409" y2="228.80571428571426" stroke="#777" stroke-width="0.6"/>
<line x1="407" y1="223.06857142857143" x2="409" y2="223.06857142857143" stroke="#777" stroke-width="0.6"/>
<line x1="411.36" y1="320.6" x2="411.36" y2="321.8" stroke="#666" stroke-width="0.5"/>
<line x1="413.72" y1="320.6" x2="413.72" y2="321.8" stroke="#666" stroke-width="0.5"/>
<line x1="416.08" y1="320.6" x2="416.08" y2="321.8" stroke="#666" stroke-width="0.5"/>
<line x1="418.44" y1="320.6" x2="418.44" y2="321.8" stroke="#666" stroke-width="0.5"/>
<line x1="420.8" y1="320.6" x2="420.8" y2="321.8" stroke="#666" stroke-width="0.5"/>
<line x1="423.15999999999997" y1="320.6" x2="423.15999999999997" y2="321.8" stroke="#666" stroke-width="0.5"/>
<line x1="425.52" y1="320.6" x2="425.52" y2="321.8" stroke="#666" stroke-width="0.5"/>
<line x1="427.88" y1="320.6" x2="427.88" y2="321.8" stroke="#666" stroke-width="0.5"/>
<line x1="430.24" y1="320.6" x2="430.24" y2="321.8" stroke="#666" stroke-width="0.5"/>
<line x1="432.6" y1="320.6" x2="432.6" y2="321.8" stroke="#666" stroke-width="0.5"/>
<line x1="434.96" y1="320.6" x2="434.96" y2="321.8" stroke="#666" stroke-width="0.5"/>
<line x1="437.32" y1="320.6" x2="437.32" y2="321.8" stroke="#666" stroke-width="0.5"/>
<line x1="439.68" y1="320.6" x2="439.68" y2="321.8" stroke="#666" stroke-width="0.5"/>
<line x1="442.03999999999996" y1="320.6" x2="442.03999999999996" y2="321.8" stroke="#666" stroke-width="0.5"/>
<line x1="444.4" y1="320.6" x2="444.4" y2="321.8" stroke="#666" stroke-width="0.5"/>
<line x1="446.76" y1="320.6" x2="446.76" y2="321.8" stroke="#666" stroke-width="0.5"/>
<line x1="449.12" y1="320.6" x2="449.12" y2="321.8" stroke="#666" stroke-width="0.5"/>
<line x1="451.48" y1="320.6" x2="451.48" y2="321.8" stroke="#666" stroke-width="0.5"/>
<line x1="453.84" y1="320.6" x2="453.84" y2="321.8" stroke="#666" stroke-width="0.5"/>
<line x1="456.2" y1="320.6" x2="456.2" y2="321.8" stroke="#666" stroke-width="0.5"/>
<line x1="458.56" y1="320.6" x2="458.56" y2="321.8" stroke="#666" stroke-width="0.5"/>
<line x1="460.91999999999996" y1="320.6" x2="460.91999999999996" y2="321.8" stroke="#666" stroke-width="0.5"/>
<line x1="463.28" y1="320.6" x2="463.28" y2="321.8" stroke="#666" stroke-width="0.5"/>
<line x1="465.64" y1="320.6" x2="465.64" y2="321.8" stroke="#666" stroke-width="0.5"/>
<line x1="468.0" y1="320.6" x2="468.0" y2="321.8" stroke="#666" stroke-width="0.5"/>
<line x1="470.36" y1="320.6" x2="470.36" y2="321.8" stroke="#666" stroke-width="0.5"/>
<line x1="472.71999999999997" y1="320.6" x2="472.71999999999997" y2="321.8" stroke="#666" stroke-width="0.5"/>
<line x1="475.08" y1="320.6" x2="475.08" y2="321.8" stroke="#666" stroke-width="0.5"/>
<line x1="477.44" y1="320.6" x2="477.44" y2="321.8" stroke="#666" stroke-width="0.5"/>
<line x1="479.79999999999995" y1="320.6" x2="479.79999999999995" y2="321.8" stroke="#666" stroke-width="0.5"/>
<line x1="482.15999999999997" y1="320.6" x2="482.15999999999997" y2="321.8" stroke="#666" stroke-width="0.5"/>
<line x1="484.52" y1="320.6" x2="484.52" y2="321.8" stroke="#666" stroke-width="0.5"/>
<line x1="486.88" y1="320.6" x2="486.88" y2="321.8" stroke="#666" stroke-width="0.5"/>
<line x1="489.24" y1="320.6" x2="489.24" y2="321.8" stroke="#666" stroke-width="0.5"/>
<line x1="491.59999999999997" y1="320.6" x2="491.59999999999997" y2="321.8" stroke="#666" stroke-width="0.5"/>
<line x1="493.96" y1="320.6" x2="493.96" y2="321.8" stroke="#666" stroke-width="0.5"/>
<line x1="496.32" y1="320.6" x2="496.32" y2="321.8" stroke="#666" stroke-width="0.5"/>
<line x1="498.67999999999995" y1="320.6" x2="498.67999999999995" y2="321.8" stroke="#666" stroke-width="0.5"/>
<line x1="501.03999999999996" y1="320.6" x2="501.03999999999996" y2="321.8" stroke="#666" stroke-width="0.5"/>
<text x="299.8" y="63" font-size="17" font-weight="bold" text-anchor="middle" fill="#000" transform="rotate(-90 299.8 63)">Nu/Nu</text>
<text x="300" y="168" font-size="17" font-weight="bold" text-anchor="middle" fill="#000" transform="rotate(-90 300 168)">WT</text>
<text x="300.4" y="297.6" font-size="17" font-weight="bold" transform="rotate(-90 300.4 297.6)">IFN <tspan font-weight="normal" font-style="italic" font-family="'Liberation Serif', serif" font-size="17" dx="-1">&#947;</tspan><tspan font-size="10" font-weight="normal" dy="-6">-/-</tspan></text>
<text x="408" y="341.5" font-size="17" font-weight="bold" text-anchor="middle" fill="#000">CD103</text>
<line x1="318" y1="338" x2="367.7" y2="338" stroke="#000" stroke-width="1.8"/>
<line x1="445.5" y1="338" x2="496" y2="338" stroke="#000" stroke-width="1.8"/>
<path d="M313.3,338.3 L320.7,335.0 L320.7,341.7 Z" fill="#000" stroke="#000" stroke-width="0.5" stroke-linejoin="round"/>
<path d="M501.5,338.0 L494.5,334.8 L494.5,341.4 Z" fill="#000" stroke="#000" stroke-width="0.5" stroke-linejoin="round"/>
<text x="24.4" y="364.8" font-size="13.5" font-weight="bold" text-anchor="start" fill="#000">B</text>
<line x1="56.099999999999994" y1="423.9" x2="56.099999999999994" y2="415.5" stroke="#333" stroke-width="1.1"/>
<line x1="52.89999999999999" y1="415.5" x2="59.3" y2="415.5" stroke="#333" stroke-width="1.3"/>
<rect x="48.5" y="424.5" width="15.2" height="46.100000000000044" fill="#fff" stroke="#000" stroke-width="1.3"/>
<line x1="72.69999999999999" y1="446" x2="72.69999999999999" y2="442.4" stroke="#333" stroke-width="1.1"/>
<line x1="69.49999999999999" y1="442.4" x2="75.89999999999999" y2="442.4" stroke="#333" stroke-width="1.3"/>
<rect x="64.3" y="446" width="16.799999999999997" height="24.600000000000023" fill="#000" stroke="#000" stroke-width="1.2"/>
<line x1="105.80000000000001" y1="374" x2="105.80000000000001" y2="371.7" stroke="#333" stroke-width="1.1"/>
<line x1="102.60000000000001" y1="371.7" x2="109.00000000000001" y2="371.7" stroke="#333" stroke-width="1.3"/>
<rect x="98.0" y="374.6" width="15.599999999999998" height="96.00000000000003" fill="#fff" stroke="#000" stroke-width="1.3"/>
<line x1="122.75" y1="441.6" x2="122.75" y2="436.7" stroke="#333" stroke-width="1.1"/>
<line x1="119.55" y1="436.7" x2="125.95" y2="436.7" stroke="#333" stroke-width="1.3"/>
<rect x="114.2" y="441.6" width="17.10000000000001" height="29.0" fill="#000" stroke="#000" stroke-width="1.2"/>
<rect x="148.1" y="464.20000000000005" width="15.49999999999999" height="6.4" fill="#fff" stroke="#000" stroke-width="1.3"/>
<rect x="164.2" y="467.7" width="16.80000000000001" height="2.900000000000034" fill="#000" stroke="#000" stroke-width="1.2"/>
<line x1="39.2" y1="370.1" x2="39.2" y2="471.5" stroke="#000" stroke-width="1.6"/>
<line x1="38.400000000000006" y1="470.6" x2="189.6" y2="470.6" stroke="#000" stroke-width="1.7"/>
<line x1="36.0" y1="470.6" x2="39.2" y2="470.6" stroke="#000" stroke-width="1.1"/>
<text x="35.2" y="472.90000000000003" font-size="6.6" font-weight="bold" text-anchor="end" fill="#000">0</text>
<line x1="36.0" y1="458.1" x2="39.2" y2="458.1" stroke="#000" stroke-width="1.1"/>
<text x="35.2" y="460.40000000000003" font-size="6.6" font-weight="bold" text-anchor="end" fill="#000">10</text>
<line x1="36.0" y1="445.6" x2="39.2" y2="445.6" stroke="#000" stroke-width="1.1"/>
<text x="35.2" y="447.90000000000003" font-size="6.6" font-weight="bold" text-anchor="end" fill="#000">20</text>
<line x1="36.0" y1="433.1" x2="39.2" y2="433.1" stroke="#000" stroke-width="1.1"/>
<text x="35.2" y="435.40000000000003" font-size="6.6" font-weight="bold" text-anchor="end" fill="#000">30</text>
<line x1="36.0" y1="420.6" x2="39.2" y2="420.6" stroke="#000" stroke-width="1.1"/>
<text x="35.2" y="422.90000000000003" font-size="6.6" font-weight="bold" text-anchor="end" fill="#000">40</text>
<line x1="36.0" y1="408.1" x2="39.2" y2="408.1" stroke="#000" stroke-width="1.1"/>
<text x="35.2" y="410.40000000000003" font-size="6.6" font-weight="bold" text-anchor="end" fill="#000">50</text>
<line x1="36.0" y1="395.6" x2="39.2" y2="395.6" stroke="#000" stroke-width="1.1"/>
<text x="35.2" y="397.90000000000003" font-size="6.6" font-weight="bold" text-anchor="end" fill="#000">60</text>
<line x1="36.0" y1="383.1" x2="39.2" y2="383.1" stroke="#000" stroke-width="1.1"/>
<text x="35.2" y="385.40000000000003" font-size="6.6" font-weight="bold" text-anchor="end" fill="#000">70</text>
<line x1="36.0" y1="370.6" x2="39.2" y2="370.6" stroke="#000" stroke-width="1.1"/>
<text x="35.2" y="372.90000000000003" font-size="6.6" font-weight="bold" text-anchor="end" fill="#000">80</text>
<line x1="37.0" y1="464.35" x2="39.2" y2="464.35" stroke="#000" stroke-width="1.0"/>
<line x1="37.0" y1="451.85" x2="39.2" y2="451.85" stroke="#000" stroke-width="1.0"/>
<line x1="37.0" y1="439.35" x2="39.2" y2="439.35" stroke="#000" stroke-width="1.0"/>
<line x1="37.0" y1="426.85" x2="39.2" y2="426.85" stroke="#000" stroke-width="1.0"/>
<line x1="37.0" y1="414.35" x2="39.2" y2="414.35" stroke="#000" stroke-width="1.0"/>
<line x1="37.0" y1="401.85" x2="39.2" y2="401.85" stroke="#000" stroke-width="1.0"/>
<line x1="37.0" y1="389.35" x2="39.2" y2="389.35" stroke="#000" stroke-width="1.0"/>
<line x1="37.0" y1="376.85" x2="39.2" y2="376.85" stroke="#000" stroke-width="1.0"/>
<line x1="64.3" y1="470.6" x2="64.3" y2="473.40000000000003" stroke="#000" stroke-width="1.1"/>
<line x1="114.2" y1="470.6" x2="114.2" y2="473.40000000000003" stroke="#000" stroke-width="1.1"/>
<line x1="164.2" y1="470.6" x2="164.2" y2="473.40000000000003" stroke="#000" stroke-width="1.1"/>
<text x="64.3" y="484.4" font-size="10.5" font-weight="bold" text-anchor="middle">LP</text>
<text x="114" y="484.4" font-size="10.5" font-weight="bold" text-anchor="middle">MLN</text>
<text x="164.2" y="484.4" font-size="10.5" font-weight="bold" text-anchor="middle">SPL</text>
<rect x="121.1" y="375.1" width="14.3" height="7.4" fill="#fff" stroke="#000" stroke-width="1.4"/>
<rect x="120.4" y="387.9" width="15.7" height="9.4" fill="#000" stroke="none" stroke-width="1"/>
<text x="137.6" y="382.9" font-size="11" font-weight="bold" text-anchor="start" fill="#000">PBS</text>
<text x="137.6" y="396.7" font-size="10.6" font-weight="bold" text-anchor="start" fill="#000">Anti-CD3</text>
<text x="11.3" y="420" font-size="10" font-weight="bold" text-anchor="middle" transform="rotate(-90 11.3 420)">%CCR7<tspan font-size="7" dy="-4">+</tspan><tspan dy="4"> among</tspan></text>
<text x="25" y="419.2" font-size="10.3" font-weight="bold" text-anchor="middle" transform="rotate(-90 25 419.2)">CD103<tspan font-size="7" dy="-4">+</tspan><tspan dy="4">DCs</tspan></text>
<text x="201.2" y="364.7" font-size="12.5" font-weight="bold" text-anchor="start" fill="#000">C</text>
<line x1="234.89999999999998" y1="447.5" x2="234.89999999999998" y2="443.5" stroke="#333" stroke-width="1.1"/>
<line x1="231.7" y1="443.5" x2="238.09999999999997" y2="443.5" stroke="#333" stroke-width="1.3"/>
<rect x="227.7" y="448.1" width="14.399999999999995" height="20.099999999999987" fill="#fff" stroke="#000" stroke-width="1.3"/>
<rect x="242.7" y="457.7" width="15.400000000000034" height="10.5" fill="#000" stroke="#000" stroke-width="1.2"/>
<line x1="281.1" y1="394.2" x2="281.1" y2="379.4" stroke="#333" stroke-width="1.1"/>
<line x1="277.90000000000003" y1="379.4" x2="284.3" y2="379.4" stroke="#333" stroke-width="1.3"/>
<rect x="274.3" y="394.8" width="13.600000000000012" height="73.4" fill="#fff" stroke="#000" stroke-width="1.3"/>
<line x1="296.2" y1="452.1" x2="296.2" y2="448.9" stroke="#333" stroke-width="1.1"/>
<line x1="293.0" y1="448.9" x2="299.4" y2="448.9" stroke="#333" stroke-width="1.3"/>
<rect x="288.5" y="452.1" width="15.399999999999977" height="16.099999999999966" fill="#000" stroke="#000" stroke-width="1.2"/>
<rect x="320.1" y="462.40000000000003" width="13.600000000000012" height="5.799999999999978" fill="#fff" stroke="#000" stroke-width="1.3"/>
<rect x="334.3" y="463.7" width="15.300000000000011" height="4.5" fill="#000" stroke="#000" stroke-width="1.2"/>
<line x1="219" y1="376.2" x2="219" y2="469.09999999999997" stroke="#000" stroke-width="1.6"/>
<line x1="218.2" y1="468.2" x2="351" y2="468.2" stroke="#000" stroke-width="1.7"/>
<line x1="215.8" y1="468.2" x2="219" y2="468.2" stroke="#000" stroke-width="1.1"/>
<text x="216.6" y="470.5" font-size="5.8" font-weight="bold" text-anchor="end" fill="#000">0</text>
<line x1="215.8" y1="452.95" x2="219" y2="452.95" stroke="#000" stroke-width="1.1"/>
<text x="216.6" y="455.25" font-size="5.8" font-weight="bold" text-anchor="end" fill="#000">25</text>
<line x1="215.8" y1="437.7" x2="219" y2="437.7" stroke="#000" stroke-width="1.1"/>
<text x="216.6" y="440.0" font-size="5.8" font-weight="bold" text-anchor="end" fill="#000">50</text>
<line x1="215.8" y1="422.45" x2="219" y2="422.45" stroke="#000" stroke-width="1.1"/>
<text x="216.6" y="424.75" font-size="5.8" font-weight="bold" text-anchor="end" fill="#000">75</text>
<line x1="215.8" y1="407.2" x2="219" y2="407.2" stroke="#000" stroke-width="1.1"/>
<text x="216.6" y="409.5" font-size="5.8" font-weight="bold" text-anchor="end" fill="#000">100</text>
<line x1="215.8" y1="391.95" x2="219" y2="391.95" stroke="#000" stroke-width="1.1"/>
<text x="216.6" y="394.25" font-size="5.8" font-weight="bold" text-anchor="end" fill="#000">125</text>
<line x1="215.8" y1="376.7" x2="219" y2="376.7" stroke="#000" stroke-width="1.1"/>
<text x="216.6" y="379.0" font-size="5.8" font-weight="bold" text-anchor="end" fill="#000">150</text>
<line x1="216.8" y1="460.575" x2="219" y2="460.575" stroke="#000" stroke-width="1.0"/>
<line x1="216.8" y1="445.325" x2="219" y2="445.325" stroke="#000" stroke-width="1.0"/>
<line x1="216.8" y1="430.075" x2="219" y2="430.075" stroke="#000" stroke-width="1.0"/>
<line x1="216.8" y1="414.825" x2="219" y2="414.825" stroke="#000" stroke-width="1.0"/>
<line x1="216.8" y1="399.575" x2="219" y2="399.575" stroke="#000" stroke-width="1.0"/>
<line x1="216.8" y1="384.325" x2="219" y2="384.325" stroke="#000" stroke-width="1.0"/>
<line x1="242.7" y1="468.2" x2="242.7" y2="471.0" stroke="#000" stroke-width="1.1"/>
<line x1="288.5" y1="468.2" x2="288.5" y2="471.0" stroke="#000" stroke-width="1.1"/>
<line x1="334.3" y1="468.2" x2="334.3" y2="471.0" stroke="#000" stroke-width="1.1"/>
<text x="243.3" y="481.6" font-size="10.5" font-weight="bold" text-anchor="middle">LP</text>
<text x="289" y="481.6" font-size="10.5" font-weight="bold" text-anchor="middle">MLN</text>
<text x="334.8" y="481.6" font-size="10.5" font-weight="bold" text-anchor="middle">SPL</text>
<text x="194" y="420.2" font-size="10" font-weight="bold" text-anchor="middle" fill="#000" transform="rotate(-90 194 420.2)">Mean Fluorescence</text>
<text x="206.3" y="427.7" font-size="10" font-weight="bold" text-anchor="middle" fill="#000" transform="rotate(-90 206.3 427.7)">(CCR7)</text>
<text x="366.3" y="363.4" font-size="12.5" font-weight="bold" text-anchor="start" fill="#000">E</text>
<line x1="387.5" y1="404.2" x2="387.5" y2="398" stroke="#333" stroke-width="1.1"/>
<line x1="384.3" y1="398" x2="390.7" y2="398" stroke="#333" stroke-width="1.3"/>
<rect x="382.1" y="404.8" width="10.8" height="64.70000000000002" fill="#fff" stroke="#000" stroke-width="1.3"/>
<line x1="399.75" y1="404.6" x2="399.75" y2="398.4" stroke="#333" stroke-width="1.1"/>
<line x1="396.55" y1="398.4" x2="402.95" y2="398.4" stroke="#333" stroke-width="1.3"/>
<rect x="393.5" y="404.6" width="12.5" height="64.89999999999998" fill="#000" stroke="#000" stroke-width="1.2"/>
<line x1="435.15" y1="389.8" x2="435.15" y2="386.4" stroke="#333" stroke-width="1.1"/>
<line x1="431.95" y1="386.4" x2="438.34999999999997" y2="386.4" stroke="#333" stroke-width="1.3"/>
<rect x="429.70000000000005" y="390.40000000000003" width="10.899999999999967" height="79.1" fill="#fff" stroke="#000" stroke-width="1.3"/>
<line x1="447.45" y1="441.1" x2="447.45" y2="437.2" stroke="#333" stroke-width="1.1"/>
<line x1="444.25" y1="437.2" x2="450.65" y2="437.2" stroke="#333" stroke-width="1.3"/>
<rect x="441.2" y="441.1" width="12.5" height="28.399999999999977" fill="#000" stroke="#000" stroke-width="1.2"/>
<line x1="482.6" y1="391.1" x2="482.6" y2="386.4" stroke="#333" stroke-width="1.1"/>
<line x1="479.40000000000003" y1="386.4" x2="485.8" y2="386.4" stroke="#333" stroke-width="1.3"/>
<rect x="477.1" y="391.70000000000005" width="10.99999999999999" height="77.79999999999998" fill="#fff" stroke="#000" stroke-width="1.3"/>
<line x1="494.75" y1="444.7" x2="494.75" y2="441.1" stroke="#333" stroke-width="1.1"/>
<line x1="491.55" y1="441.1" x2="497.95" y2="441.1" stroke="#333" stroke-width="1.3"/>
<rect x="488.7" y="444.7" width="12.100000000000023" height="24.80000000000001" fill="#000" stroke="#000" stroke-width="1.2"/>
<line x1="376.2" y1="375.0" x2="376.2" y2="470.4" stroke="#000" stroke-width="1.6"/>
<line x1="375.4" y1="469.5" x2="519.7" y2="469.5" stroke="#000" stroke-width="1.7"/>
<line x1="373.0" y1="469.5" x2="376.2" y2="469.5" stroke="#000" stroke-width="1.1"/>
<text x="374.2" y="471.8" font-size="6.6" font-weight="bold" text-anchor="end" fill="#000">0</text>
<line x1="373.0" y1="453.8333333333333" x2="376.2" y2="453.8333333333333" stroke="#000" stroke-width="1.1"/>
<text x="374.2" y="456.1333333333333" font-size="6.6" font-weight="bold" text-anchor="end" fill="#000">10</text>
<line x1="373.0" y1="438.1666666666667" x2="376.2" y2="438.1666666666667" stroke="#000" stroke-width="1.1"/>
<text x="374.2" y="440.4666666666667" font-size="6.6" font-weight="bold" text-anchor="end" fill="#000">20</text>
<line x1="373.0" y1="422.5" x2="376.2" y2="422.5" stroke="#000" stroke-width="1.1"/>
<text x="374.2" y="424.8" font-size="6.6" font-weight="bold" text-anchor="end" fill="#000">30</text>
<line x1="373.0" y1="406.8333333333333" x2="376.2" y2="406.8333333333333" stroke="#000" stroke-width="1.1"/>
<text x="374.2" y="409.1333333333333" font-size="6.6" font-weight="bold" text-anchor="end" fill="#000">40</text>
<line x1="373.0" y1="391.1666666666667" x2="376.2" y2="391.1666666666667" stroke="#000" stroke-width="1.1"/>
<text x="374.2" y="393.4666666666667" font-size="6.6" font-weight="bold" text-anchor="end" fill="#000">50</text>
<line x1="373.0" y1="375.5" x2="376.2" y2="375.5" stroke="#000" stroke-width="1.1"/>
<text x="374.2" y="377.8" font-size="6.6" font-weight="bold" text-anchor="end" fill="#000">60</text>
<line x1="374.0" y1="461.6666666666667" x2="376.2" y2="461.6666666666667" stroke="#000" stroke-width="1.0"/>
<line x1="374.0" y1="446.0" x2="376.2" y2="446.0" stroke="#000" stroke-width="1.0"/>
<line x1="374.0" y1="430.3333333333333" x2="376.2" y2="430.3333333333333" stroke="#000" stroke-width="1.0"/>
<line x1="374.0" y1="414.6666666666667" x2="376.2" y2="414.6666666666667" stroke="#000" stroke-width="1.0"/>
<line x1="374.0" y1="399.0" x2="376.2" y2="399.0" stroke="#000" stroke-width="1.0"/>
<line x1="374.0" y1="383.3333333333333" x2="376.2" y2="383.3333333333333" stroke="#000" stroke-width="1.0"/>
<line x1="393.5" y1="469.5" x2="393.5" y2="472.3" stroke="#000" stroke-width="1.1"/>
<line x1="441.2" y1="469.5" x2="441.2" y2="472.3" stroke="#000" stroke-width="1.1"/>
<line x1="488.7" y1="469.5" x2="488.7" y2="472.3" stroke="#000" stroke-width="1.1"/>
<text x="399.4" y="483.2" font-size="10.5" font-weight="bold" text-anchor="middle">Nu/Nu</text>
<text x="447.2" y="483.2" font-size="10.5" font-weight="bold" text-anchor="middle">WT</text>
<text x="477.3" y="483.2" font-size="10.5" font-weight="bold">IFN-<tspan font-weight="normal" font-style="italic" font-family="'Liberation Serif', serif" font-size="10">&#947;</tspan><tspan font-size="6" dy="-5">-/-</tspan></text>
<text x="366" y="423.3" font-size="10.3" font-weight="bold" text-anchor="middle" transform="rotate(-90 366 423.3)">%CD11c<tspan font-size="7" dy="-4">+</tspan><tspan dy="4">CD103</tspan><tspan font-size="7" dy="-4">+</tspan><tspan dy="4">DCs</tspan></text>
</svg></body></html>
